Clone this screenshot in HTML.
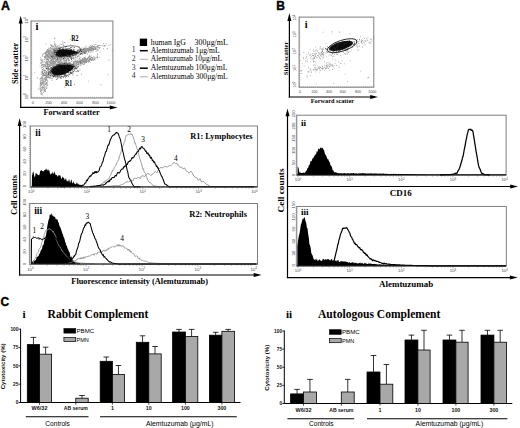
<!DOCTYPE html>
<html><head><meta charset="utf-8"><style>
html,body{margin:0;padding:0;background:#fff;overflow:hidden}
svg{display:block}
</style></head><body>
<svg width="520" height="428" viewBox="0 0 520 428">
<rect width="520" height="428" fill="#fff"/>
<text x="0.9" y="9.8" font-size="12.4" font-family='"Liberation Sans", sans-serif' font-weight="bold" text-anchor="start" fill="#000" stroke="#000" stroke-width="0.35">A</text>
<text x="276.3" y="10.1" font-size="12.0" font-family='"Liberation Sans", sans-serif' font-weight="bold" text-anchor="start" fill="#000" stroke="#000" stroke-width="0.35">B</text>
<text x="0.6" y="305.6" font-size="12.0" font-family='"Liberation Sans", sans-serif' font-weight="bold" text-anchor="start" fill="#000" stroke="#000" stroke-width="0.35">C</text>
<line x1="20.7" y1="20.8" x2="20.7" y2="107.9" stroke="#000" stroke-width="1.2" />
<path d="M18.7,23.6 L20.7,15.8 L22.7,23.6 Z" fill="#000"/>
<line x1="20.1" y1="107.4" x2="112.6" y2="107.4" stroke="#000" stroke-width="1.2" />
<path d="M109.8,105.4 L117.6,107.4 L109.8,109.4 Z" fill="#000"/>
<rect x="31.00" y="21.00" width="81.90" height="77.00" fill="none" stroke="#707070" stroke-width="0.9" />
<line x1="31" y1="21.0" x2="32.2" y2="21.0" stroke="#6a6a6a" stroke-width="0.4" />
<line x1="31" y1="22.925" x2="32.2" y2="22.925" stroke="#6a6a6a" stroke-width="0.4" />
<line x1="31" y1="24.85" x2="32.2" y2="24.85" stroke="#6a6a6a" stroke-width="0.4" />
<line x1="31" y1="26.775" x2="32.2" y2="26.775" stroke="#6a6a6a" stroke-width="0.4" />
<line x1="31" y1="28.7" x2="32.2" y2="28.7" stroke="#6a6a6a" stroke-width="0.4" />
<line x1="31" y1="30.625" x2="32.2" y2="30.625" stroke="#6a6a6a" stroke-width="0.4" />
<line x1="31" y1="32.55" x2="32.2" y2="32.55" stroke="#6a6a6a" stroke-width="0.4" />
<line x1="31" y1="34.475" x2="32.2" y2="34.475" stroke="#6a6a6a" stroke-width="0.4" />
<line x1="31" y1="36.4" x2="32.2" y2="36.4" stroke="#6a6a6a" stroke-width="0.4" />
<line x1="31" y1="38.325" x2="32.2" y2="38.325" stroke="#6a6a6a" stroke-width="0.4" />
<line x1="31" y1="40.25" x2="32.2" y2="40.25" stroke="#6a6a6a" stroke-width="0.4" />
<line x1="31" y1="42.175" x2="32.2" y2="42.175" stroke="#6a6a6a" stroke-width="0.4" />
<line x1="31" y1="44.1" x2="32.2" y2="44.1" stroke="#6a6a6a" stroke-width="0.4" />
<line x1="31" y1="46.025" x2="32.2" y2="46.025" stroke="#6a6a6a" stroke-width="0.4" />
<line x1="31" y1="47.95" x2="32.2" y2="47.95" stroke="#6a6a6a" stroke-width="0.4" />
<line x1="31" y1="49.875" x2="32.2" y2="49.875" stroke="#6a6a6a" stroke-width="0.4" />
<line x1="31" y1="51.8" x2="32.2" y2="51.8" stroke="#6a6a6a" stroke-width="0.4" />
<line x1="31" y1="53.725" x2="32.2" y2="53.725" stroke="#6a6a6a" stroke-width="0.4" />
<line x1="31" y1="55.65" x2="32.2" y2="55.65" stroke="#6a6a6a" stroke-width="0.4" />
<line x1="31" y1="57.575" x2="32.2" y2="57.575" stroke="#6a6a6a" stroke-width="0.4" />
<line x1="31" y1="59.5" x2="32.2" y2="59.5" stroke="#6a6a6a" stroke-width="0.4" />
<line x1="31" y1="61.425" x2="32.2" y2="61.425" stroke="#6a6a6a" stroke-width="0.4" />
<line x1="31" y1="63.35" x2="32.2" y2="63.35" stroke="#6a6a6a" stroke-width="0.4" />
<line x1="31" y1="65.275" x2="32.2" y2="65.275" stroke="#6a6a6a" stroke-width="0.4" />
<line x1="31" y1="67.2" x2="32.2" y2="67.2" stroke="#6a6a6a" stroke-width="0.4" />
<line x1="31" y1="69.125" x2="32.2" y2="69.125" stroke="#6a6a6a" stroke-width="0.4" />
<line x1="31" y1="71.05" x2="32.2" y2="71.05" stroke="#6a6a6a" stroke-width="0.4" />
<line x1="31" y1="72.975" x2="32.2" y2="72.975" stroke="#6a6a6a" stroke-width="0.4" />
<line x1="31" y1="74.9" x2="32.2" y2="74.9" stroke="#6a6a6a" stroke-width="0.4" />
<line x1="31" y1="76.825" x2="32.2" y2="76.825" stroke="#6a6a6a" stroke-width="0.4" />
<line x1="31" y1="78.75" x2="32.2" y2="78.75" stroke="#6a6a6a" stroke-width="0.4" />
<line x1="31" y1="80.675" x2="32.2" y2="80.675" stroke="#6a6a6a" stroke-width="0.4" />
<line x1="31" y1="82.6" x2="32.2" y2="82.6" stroke="#6a6a6a" stroke-width="0.4" />
<line x1="31" y1="84.525" x2="32.2" y2="84.525" stroke="#6a6a6a" stroke-width="0.4" />
<line x1="31" y1="86.45" x2="32.2" y2="86.45" stroke="#6a6a6a" stroke-width="0.4" />
<line x1="31" y1="88.375" x2="32.2" y2="88.375" stroke="#6a6a6a" stroke-width="0.4" />
<line x1="31" y1="90.3" x2="32.2" y2="90.3" stroke="#6a6a6a" stroke-width="0.4" />
<line x1="31" y1="92.225" x2="32.2" y2="92.225" stroke="#6a6a6a" stroke-width="0.4" />
<line x1="31" y1="94.15" x2="32.2" y2="94.15" stroke="#6a6a6a" stroke-width="0.4" />
<line x1="31" y1="96.075" x2="32.2" y2="96.075" stroke="#6a6a6a" stroke-width="0.4" />
<line x1="31" y1="98.0" x2="32.2" y2="98.0" stroke="#6a6a6a" stroke-width="0.4" />
<line x1="31.0" y1="98" x2="31.0" y2="96.8" stroke="#6a6a6a" stroke-width="0.4" />
<line x1="33.0475" y1="98" x2="33.0475" y2="96.8" stroke="#6a6a6a" stroke-width="0.4" />
<line x1="35.095" y1="98" x2="35.095" y2="96.8" stroke="#6a6a6a" stroke-width="0.4" />
<line x1="37.1425" y1="98" x2="37.1425" y2="96.8" stroke="#6a6a6a" stroke-width="0.4" />
<line x1="39.19" y1="98" x2="39.19" y2="96.8" stroke="#6a6a6a" stroke-width="0.4" />
<line x1="41.2375" y1="98" x2="41.2375" y2="96.8" stroke="#6a6a6a" stroke-width="0.4" />
<line x1="43.285" y1="98" x2="43.285" y2="96.8" stroke="#6a6a6a" stroke-width="0.4" />
<line x1="45.3325" y1="98" x2="45.3325" y2="96.8" stroke="#6a6a6a" stroke-width="0.4" />
<line x1="47.38" y1="98" x2="47.38" y2="96.8" stroke="#6a6a6a" stroke-width="0.4" />
<line x1="49.4275" y1="98" x2="49.4275" y2="96.8" stroke="#6a6a6a" stroke-width="0.4" />
<line x1="51.475" y1="98" x2="51.475" y2="96.8" stroke="#6a6a6a" stroke-width="0.4" />
<line x1="53.5225" y1="98" x2="53.5225" y2="96.8" stroke="#6a6a6a" stroke-width="0.4" />
<line x1="55.57" y1="98" x2="55.57" y2="96.8" stroke="#6a6a6a" stroke-width="0.4" />
<line x1="57.6175" y1="98" x2="57.6175" y2="96.8" stroke="#6a6a6a" stroke-width="0.4" />
<line x1="59.665000000000006" y1="98" x2="59.665000000000006" y2="96.8" stroke="#6a6a6a" stroke-width="0.4" />
<line x1="61.7125" y1="98" x2="61.7125" y2="96.8" stroke="#6a6a6a" stroke-width="0.4" />
<line x1="63.760000000000005" y1="98" x2="63.760000000000005" y2="96.8" stroke="#6a6a6a" stroke-width="0.4" />
<line x1="65.8075" y1="98" x2="65.8075" y2="96.8" stroke="#6a6a6a" stroke-width="0.4" />
<line x1="67.855" y1="98" x2="67.855" y2="96.8" stroke="#6a6a6a" stroke-width="0.4" />
<line x1="69.9025" y1="98" x2="69.9025" y2="96.8" stroke="#6a6a6a" stroke-width="0.4" />
<line x1="71.95" y1="98" x2="71.95" y2="96.8" stroke="#6a6a6a" stroke-width="0.4" />
<line x1="73.9975" y1="98" x2="73.9975" y2="96.8" stroke="#6a6a6a" stroke-width="0.4" />
<line x1="76.045" y1="98" x2="76.045" y2="96.8" stroke="#6a6a6a" stroke-width="0.4" />
<line x1="78.0925" y1="98" x2="78.0925" y2="96.8" stroke="#6a6a6a" stroke-width="0.4" />
<line x1="80.14" y1="98" x2="80.14" y2="96.8" stroke="#6a6a6a" stroke-width="0.4" />
<line x1="82.1875" y1="98" x2="82.1875" y2="96.8" stroke="#6a6a6a" stroke-width="0.4" />
<line x1="84.235" y1="98" x2="84.235" y2="96.8" stroke="#6a6a6a" stroke-width="0.4" />
<line x1="86.2825" y1="98" x2="86.2825" y2="96.8" stroke="#6a6a6a" stroke-width="0.4" />
<line x1="88.33000000000001" y1="98" x2="88.33000000000001" y2="96.8" stroke="#6a6a6a" stroke-width="0.4" />
<line x1="90.37750000000001" y1="98" x2="90.37750000000001" y2="96.8" stroke="#6a6a6a" stroke-width="0.4" />
<line x1="92.425" y1="98" x2="92.425" y2="96.8" stroke="#6a6a6a" stroke-width="0.4" />
<line x1="94.4725" y1="98" x2="94.4725" y2="96.8" stroke="#6a6a6a" stroke-width="0.4" />
<line x1="96.52000000000001" y1="98" x2="96.52000000000001" y2="96.8" stroke="#6a6a6a" stroke-width="0.4" />
<line x1="98.56750000000001" y1="98" x2="98.56750000000001" y2="96.8" stroke="#6a6a6a" stroke-width="0.4" />
<line x1="100.61500000000001" y1="98" x2="100.61500000000001" y2="96.8" stroke="#6a6a6a" stroke-width="0.4" />
<line x1="102.6625" y1="98" x2="102.6625" y2="96.8" stroke="#6a6a6a" stroke-width="0.4" />
<line x1="104.71000000000001" y1="98" x2="104.71000000000001" y2="96.8" stroke="#6a6a6a" stroke-width="0.4" />
<line x1="106.75750000000001" y1="98" x2="106.75750000000001" y2="96.8" stroke="#6a6a6a" stroke-width="0.4" />
<line x1="108.805" y1="98" x2="108.805" y2="96.8" stroke="#6a6a6a" stroke-width="0.4" />
<line x1="110.8525" y1="98" x2="110.8525" y2="96.8" stroke="#6a6a6a" stroke-width="0.4" />
<line x1="112.9" y1="98" x2="112.9" y2="96.8" stroke="#6a6a6a" stroke-width="0.4" />
<text x="35.4" y="30.3" font-size="10.5" font-family='"Liberation Serif", serif' font-weight="bold" text-anchor="start" fill="#000" >i</text>
<text x="27.6" y="20.5" font-size="4.2" font-family='"Liberation Sans", sans-serif' font-weight="normal" text-anchor="middle" fill="#484848" transform="rotate(-90 27.6 20.5)" >10<tspan font-size="2.9" dy="-1.4">4</tspan></text>
<text x="27.6" y="39.3" font-size="4.2" font-family='"Liberation Sans", sans-serif' font-weight="normal" text-anchor="middle" fill="#484848" transform="rotate(-90 27.6 39.3)" >10<tspan font-size="2.9" dy="-1.4">3</tspan></text>
<text x="27.6" y="58.3" font-size="4.2" font-family='"Liberation Sans", sans-serif' font-weight="normal" text-anchor="middle" fill="#484848" transform="rotate(-90 27.6 58.3)" >10<tspan font-size="2.9" dy="-1.4">2</tspan></text>
<text x="27.6" y="77.4" font-size="4.2" font-family='"Liberation Sans", sans-serif' font-weight="normal" text-anchor="middle" fill="#484848" transform="rotate(-90 27.6 77.4)" >10<tspan font-size="2.9" dy="-1.4">1</tspan></text>
<text x="27.6" y="96.2" font-size="4.2" font-family='"Liberation Sans", sans-serif' font-weight="normal" text-anchor="middle" fill="#484848" transform="rotate(-90 27.6 96.2)" >10<tspan font-size="2.9" dy="-1.4">0</tspan></text>
<text x="32.8" y="103.8" font-size="4.0" font-family='"Liberation Sans", sans-serif' font-weight="normal" text-anchor="middle" fill="#484848" >0</text>
<text x="48.5" y="103.8" font-size="4.0" font-family='"Liberation Sans", sans-serif' font-weight="normal" text-anchor="middle" fill="#484848" >200</text>
<text x="64" y="103.8" font-size="4.0" font-family='"Liberation Sans", sans-serif' font-weight="normal" text-anchor="middle" fill="#484848" >400</text>
<text x="79.6" y="103.8" font-size="4.0" font-family='"Liberation Sans", sans-serif' font-weight="normal" text-anchor="middle" fill="#484848" >600</text>
<text x="95.6" y="103.8" font-size="4.0" font-family='"Liberation Sans", sans-serif' font-weight="normal" text-anchor="middle" fill="#484848" >800</text>
<text x="111" y="103.8" font-size="4.0" font-family='"Liberation Sans", sans-serif' font-weight="normal" text-anchor="middle" fill="#484848" >1000</text>
<text x="18.0" y="63.4" font-size="8.4" font-family='"Liberation Serif", serif' font-weight="bold" text-anchor="middle" fill="#000" textLength="41.4" lengthAdjust="spacingAndGlyphs" transform="rotate(-90 18.0 63.4)" >Side scatter</text>
<text x="43.5" y="115.0" font-size="8.2" font-family='"Liberation Serif", serif' font-weight="bold" text-anchor="start" fill="#000" textLength="56" lengthAdjust="spacingAndGlyphs" >Forward scatter</text>
<path d="M45.6 68.2h0.85v0.85h-0.85zM64.5 57.0h0.85v0.85h-0.85zM44.7 64.7h0.85v0.85h-0.85zM60.1 71.3h0.85v0.85h-0.85zM45.7 54.3h0.85v0.85h-0.85zM62.0 65.7h0.85v0.85h-0.85zM69.0 68.6h0.85v0.85h-0.85zM55.1 60.9h0.85v0.85h-0.85zM77.8 56.2h0.85v0.85h-0.85zM49.3 54.9h0.85v0.85h-0.85zM56.8 64.0h0.85v0.85h-0.85zM53.1 63.1h0.85v0.85h-0.85zM58.3 68.3h0.85v0.85h-0.85zM65.3 62.9h0.85v0.85h-0.85zM40.8 71.9h0.85v0.85h-0.85zM43.9 64.0h0.85v0.85h-0.85zM43.5 65.5h0.85v0.85h-0.85zM49.4 66.1h0.85v0.85h-0.85zM84.1 57.0h0.85v0.85h-0.85zM63.2 50.5h0.85v0.85h-0.85zM53.6 69.0h0.85v0.85h-0.85zM55.2 66.2h0.85v0.85h-0.85zM56.9 54.4h0.85v0.85h-0.85zM60.8 55.3h0.85v0.85h-0.85zM71.9 55.6h0.85v0.85h-0.85zM61.8 61.9h0.85v0.85h-0.85zM64.1 56.4h0.85v0.85h-0.85zM64.5 60.3h0.85v0.85h-0.85zM66.7 66.1h0.85v0.85h-0.85zM57.2 56.3h0.85v0.85h-0.85zM62.5 65.6h0.85v0.85h-0.85zM70.0 57.1h0.85v0.85h-0.85zM60.7 66.3h0.85v0.85h-0.85zM58.4 64.3h0.85v0.85h-0.85zM57.5 57.7h0.85v0.85h-0.85zM47.4 61.4h0.85v0.85h-0.85zM61.0 74.6h0.85v0.85h-0.85zM64.3 70.1h0.85v0.85h-0.85zM62.6 67.5h0.85v0.85h-0.85zM57.6 69.1h0.85v0.85h-0.85zM71.1 57.3h0.85v0.85h-0.85zM58.1 70.7h0.85v0.85h-0.85zM63.4 52.1h0.85v0.85h-0.85zM57.5 69.0h0.85v0.85h-0.85zM57.1 55.4h0.85v0.85h-0.85zM55.0 66.3h0.85v0.85h-0.85zM65.5 67.0h0.85v0.85h-0.85zM56.5 74.2h0.85v0.85h-0.85zM49.5 70.9h0.85v0.85h-0.85zM65.5 58.7h0.85v0.85h-0.85zM40.8 58.5h0.85v0.85h-0.85zM58.0 67.0h0.85v0.85h-0.85zM69.2 52.0h0.85v0.85h-0.85zM56.0 68.4h0.85v0.85h-0.85zM54.7 43.5h0.85v0.85h-0.85zM64.5 53.7h0.85v0.85h-0.85zM52.5 65.5h0.85v0.85h-0.85zM77.2 63.9h0.85v0.85h-0.85zM57.0 75.8h0.85v0.85h-0.85zM50.2 60.2h0.85v0.85h-0.85zM62.1 73.6h0.85v0.85h-0.85zM61.6 64.4h0.85v0.85h-0.85zM40.5 60.2h0.85v0.85h-0.85zM50.8 59.6h0.85v0.85h-0.85zM61.0 59.2h0.85v0.85h-0.85zM62.7 62.3h0.85v0.85h-0.85zM53.2 64.5h0.85v0.85h-0.85zM59.6 69.4h0.85v0.85h-0.85zM51.9 61.9h0.85v0.85h-0.85zM44.4 78.7h0.85v0.85h-0.85zM68.3 59.0h0.85v0.85h-0.85zM51.9 53.5h0.85v0.85h-0.85zM57.4 64.4h0.85v0.85h-0.85zM74.5 61.3h0.85v0.85h-0.85zM68.0 62.2h0.85v0.85h-0.85zM42.3 67.2h0.85v0.85h-0.85zM42.3 94.7h0.85v0.85h-0.85zM65.5 65.9h0.85v0.85h-0.85zM54.5 45.5h0.85v0.85h-0.85zM54.9 50.3h0.85v0.85h-0.85zM61.1 44.2h0.85v0.85h-0.85zM48.3 74.7h0.85v0.85h-0.85zM70.0 50.4h0.85v0.85h-0.85zM43.0 72.9h0.85v0.85h-0.85zM63.3 53.3h0.85v0.85h-0.85zM50.1 58.4h0.85v0.85h-0.85zM45.9 59.4h0.85v0.85h-0.85zM66.6 66.6h0.85v0.85h-0.85zM73.5 58.8h0.85v0.85h-0.85zM54.8 55.0h0.85v0.85h-0.85zM54.9 52.3h0.85v0.85h-0.85zM40.9 71.8h0.85v0.85h-0.85zM68.2 67.5h0.85v0.85h-0.85zM67.3 62.8h0.85v0.85h-0.85zM49.9 64.9h0.85v0.85h-0.85zM52.8 54.4h0.85v0.85h-0.85zM56.0 64.3h0.85v0.85h-0.85zM52.0 75.7h0.85v0.85h-0.85zM57.5 67.5h0.85v0.85h-0.85zM66.4 54.1h0.85v0.85h-0.85zM50.1 75.1h0.85v0.85h-0.85zM58.9 70.8h0.85v0.85h-0.85zM62.5 44.4h0.85v0.85h-0.85zM62.1 56.2h0.85v0.85h-0.85zM49.6 60.7h0.85v0.85h-0.85zM62.5 69.1h0.85v0.85h-0.85zM64.6 47.5h0.85v0.85h-0.85zM55.1 68.2h0.85v0.85h-0.85zM49.5 66.3h0.85v0.85h-0.85zM58.0 71.0h0.85v0.85h-0.85zM49.0 57.5h0.85v0.85h-0.85zM65.3 60.1h0.85v0.85h-0.85zM57.9 63.6h0.85v0.85h-0.85zM57.7 60.9h0.85v0.85h-0.85zM53.2 53.1h0.85v0.85h-0.85zM50.5 77.8h0.85v0.85h-0.85zM60.6 62.6h0.85v0.85h-0.85zM54.2 63.9h0.85v0.85h-0.85zM59.0 57.0h0.85v0.85h-0.85zM57.7 64.7h0.85v0.85h-0.85zM49.6 57.7h0.85v0.85h-0.85zM47.5 55.8h0.85v0.85h-0.85zM63.6 41.8h0.85v0.85h-0.85zM53.7 58.4h0.85v0.85h-0.85zM50.7 64.9h0.85v0.85h-0.85zM65.6 61.7h0.85v0.85h-0.85zM54.8 58.1h0.85v0.85h-0.85zM54.9 70.8h0.85v0.85h-0.85zM52.7 54.1h0.85v0.85h-0.85zM45.3 55.9h0.85v0.85h-0.85zM44.2 74.5h0.85v0.85h-0.85zM59.0 60.4h0.85v0.85h-0.85zM68.4 55.0h0.85v0.85h-0.85zM62.4 68.4h0.85v0.85h-0.85zM48.1 72.1h0.85v0.85h-0.85zM67.0 50.6h0.85v0.85h-0.85zM64.9 58.0h0.85v0.85h-0.85zM52.7 59.1h0.85v0.85h-0.85zM53.2 48.4h0.85v0.85h-0.85zM47.5 54.4h0.85v0.85h-0.85zM79.2 55.6h0.85v0.85h-0.85zM41.4 62.5h0.85v0.85h-0.85zM60.9 56.0h0.85v0.85h-0.85zM64.0 65.9h0.85v0.85h-0.85zM42.2 61.3h0.85v0.85h-0.85zM54.0 63.6h0.85v0.85h-0.85zM57.1 60.0h0.85v0.85h-0.85zM57.6 57.8h0.85v0.85h-0.85zM48.4 77.1h0.85v0.85h-0.85zM59.1 66.0h0.85v0.85h-0.85zM42.4 64.3h0.85v0.85h-0.85zM63.0 50.9h0.85v0.85h-0.85zM65.3 57.9h0.85v0.85h-0.85zM59.4 61.2h0.85v0.85h-0.85zM57.9 72.7h0.85v0.85h-0.85zM52.6 76.7h0.85v0.85h-0.85zM49.4 56.6h0.85v0.85h-0.85zM62.0 52.9h0.85v0.85h-0.85zM52.9 71.2h0.85v0.85h-0.85zM66.3 46.2h0.85v0.85h-0.85zM60.3 77.8h0.85v0.85h-0.85zM66.2 59.0h0.85v0.85h-0.85zM50.9 61.6h0.85v0.85h-0.85zM46.2 62.8h0.85v0.85h-0.85zM54.4 62.1h0.85v0.85h-0.85zM66.1 59.1h0.85v0.85h-0.85zM43.6 74.2h0.85v0.85h-0.85zM46.9 61.1h0.85v0.85h-0.85zM54.9 60.4h0.85v0.85h-0.85zM47.5 62.6h0.85v0.85h-0.85zM74.6 54.2h0.85v0.85h-0.85zM54.8 72.6h0.85v0.85h-0.85zM62.3 68.1h0.85v0.85h-0.85zM63.3 45.1h0.85v0.85h-0.85zM48.7 65.5h0.85v0.85h-0.85zM60.2 72.9h0.85v0.85h-0.85zM60.0 60.2h0.85v0.85h-0.85zM56.3 61.2h0.85v0.85h-0.85zM58.1 68.2h0.85v0.85h-0.85zM53.1 56.8h0.85v0.85h-0.85zM48.7 73.6h0.85v0.85h-0.85zM66.9 69.1h0.85v0.85h-0.85zM63.3 68.5h0.85v0.85h-0.85zM56.0 68.5h0.85v0.85h-0.85zM47.1 63.1h0.85v0.85h-0.85zM49.8 70.3h0.85v0.85h-0.85zM51.1 63.1h0.85v0.85h-0.85zM59.4 73.6h0.85v0.85h-0.85zM49.3 56.5h0.85v0.85h-0.85zM62.9 52.4h0.85v0.85h-0.85zM59.8 57.5h0.85v0.85h-0.85zM55.1 48.0h0.85v0.85h-0.85zM62.1 57.6h0.85v0.85h-0.85zM59.5 59.4h0.85v0.85h-0.85zM56.9 76.2h0.85v0.85h-0.85zM55.8 66.8h0.85v0.85h-0.85zM60.4 54.5h0.85v0.85h-0.85zM57.1 58.6h0.85v0.85h-0.85zM45.4 72.4h0.85v0.85h-0.85zM61.7 62.5h0.85v0.85h-0.85zM48.3 47.8h0.85v0.85h-0.85zM60.1 61.4h0.85v0.85h-0.85zM41.7 65.4h0.85v0.85h-0.85zM43.1 65.4h0.85v0.85h-0.85zM57.2 65.7h0.85v0.85h-0.85zM57.8 64.1h0.85v0.85h-0.85zM46.3 61.7h0.85v0.85h-0.85zM51.7 61.9h0.85v0.85h-0.85zM58.3 67.7h0.85v0.85h-0.85zM69.9 38.8h0.85v0.85h-0.85zM59.4 60.7h0.85v0.85h-0.85zM75.3 66.9h0.85v0.85h-0.85zM41.9 69.2h0.85v0.85h-0.85zM51.6 72.2h0.85v0.85h-0.85zM47.0 63.9h0.85v0.85h-0.85zM54.9 62.4h0.85v0.85h-0.85zM51.0 48.7h0.85v0.85h-0.85zM59.9 70.5h0.85v0.85h-0.85zM55.4 54.6h0.85v0.85h-0.85zM57.7 67.4h0.85v0.85h-0.85zM54.5 63.2h0.85v0.85h-0.85zM68.0 51.3h0.85v0.85h-0.85zM51.3 48.1h0.85v0.85h-0.85zM50.1 58.0h0.85v0.85h-0.85zM47.8 58.9h0.85v0.85h-0.85zM71.3 58.3h0.85v0.85h-0.85zM55.5 48.7h0.85v0.85h-0.85zM59.4 54.5h0.85v0.85h-0.85zM69.9 49.8h0.85v0.85h-0.85zM51.1 50.6h0.85v0.85h-0.85zM56.8 54.4h0.85v0.85h-0.85zM55.4 60.0h0.85v0.85h-0.85zM50.8 71.9h0.85v0.85h-0.85zM64.0 61.9h0.85v0.85h-0.85zM48.3 55.6h0.85v0.85h-0.85zM52.1 57.2h0.85v0.85h-0.85zM50.1 55.1h0.85v0.85h-0.85zM47.7 62.9h0.85v0.85h-0.85zM68.2 60.6h0.85v0.85h-0.85zM51.7 50.4h0.85v0.85h-0.85zM57.8 62.4h0.85v0.85h-0.85zM45.6 56.0h0.85v0.85h-0.85zM55.6 71.5h0.85v0.85h-0.85zM61.3 63.6h0.85v0.85h-0.85zM53.3 66.2h0.85v0.85h-0.85zM46.4 61.9h0.85v0.85h-0.85zM66.8 58.6h0.85v0.85h-0.85zM68.1 60.2h0.85v0.85h-0.85zM57.2 59.7h0.85v0.85h-0.85zM44.3 57.3h0.85v0.85h-0.85zM74.8 64.6h0.85v0.85h-0.85zM61.1 69.9h0.85v0.85h-0.85zM60.8 70.5h0.85v0.85h-0.85zM53.7 61.6h0.85v0.85h-0.85zM64.4 58.4h0.85v0.85h-0.85zM44.7 63.4h0.85v0.85h-0.85zM51.4 69.0h0.85v0.85h-0.85zM49.9 55.4h0.85v0.85h-0.85zM53.2 76.5h0.85v0.85h-0.85zM55.6 64.4h0.85v0.85h-0.85zM56.1 65.4h0.85v0.85h-0.85zM63.9 73.0h0.85v0.85h-0.85zM42.0 77.1h0.85v0.85h-0.85zM56.0 60.3h0.85v0.85h-0.85zM76.4 57.5h0.85v0.85h-0.85zM72.5 67.8h0.85v0.85h-0.85zM47.2 68.8h0.85v0.85h-0.85zM62.3 60.7h0.85v0.85h-0.85zM54.4 54.1h0.85v0.85h-0.85zM71.5 57.9h0.85v0.85h-0.85zM52.7 61.2h0.85v0.85h-0.85zM49.3 57.9h0.85v0.85h-0.85zM56.8 65.4h0.85v0.85h-0.85zM51.7 63.1h0.85v0.85h-0.85zM44.2 69.7h0.85v0.85h-0.85zM49.6 66.1h0.85v0.85h-0.85zM48.3 60.3h0.85v0.85h-0.85zM57.8 52.5h0.85v0.85h-0.85zM77.0 58.5h0.85v0.85h-0.85zM55.4 57.0h0.85v0.85h-0.85zM69.6 71.8h0.85v0.85h-0.85zM58.5 51.1h0.85v0.85h-0.85zM51.7 69.0h0.85v0.85h-0.85zM51.6 54.0h0.85v0.85h-0.85zM45.9 58.6h0.85v0.85h-0.85zM56.1 57.6h0.85v0.85h-0.85zM71.1 51.3h0.85v0.85h-0.85zM58.9 63.1h0.85v0.85h-0.85zM54.8 71.9h0.85v0.85h-0.85zM53.2 60.9h0.85v0.85h-0.85zM52.8 62.8h0.85v0.85h-0.85zM66.9 67.3h0.85v0.85h-0.85zM44.6 61.6h0.85v0.85h-0.85zM49.2 71.2h0.85v0.85h-0.85zM57.9 70.0h0.85v0.85h-0.85zM55.5 47.2h0.85v0.85h-0.85zM59.8 64.1h0.85v0.85h-0.85zM60.3 51.3h0.85v0.85h-0.85zM56.7 57.1h0.85v0.85h-0.85zM50.2 67.1h0.85v0.85h-0.85zM59.0 55.0h0.85v0.85h-0.85zM51.1 73.3h0.85v0.85h-0.85zM55.5 44.3h0.85v0.85h-0.85zM48.7 68.0h0.85v0.85h-0.85zM70.2 69.9h0.85v0.85h-0.85zM59.1 64.0h0.85v0.85h-0.85zM47.0 61.0h0.85v0.85h-0.85zM53.2 57.1h0.85v0.85h-0.85zM56.5 59.6h0.85v0.85h-0.85zM58.9 74.4h0.85v0.85h-0.85zM62.3 65.2h0.85v0.85h-0.85zM54.0 50.8h0.85v0.85h-0.85zM55.0 67.7h0.85v0.85h-0.85zM47.4 75.2h0.85v0.85h-0.85zM53.2 66.7h0.85v0.85h-0.85zM53.2 53.1h0.85v0.85h-0.85zM73.6 49.8h0.85v0.85h-0.85zM63.8 56.8h0.85v0.85h-0.85zM58.4 55.8h0.85v0.85h-0.85zM52.5 71.4h0.85v0.85h-0.85zM72.5 52.6h0.85v0.85h-0.85zM56.1 70.9h0.85v0.85h-0.85zM50.6 70.0h0.85v0.85h-0.85zM49.3 69.4h0.85v0.85h-0.85zM59.7 72.4h0.85v0.85h-0.85zM59.1 52.4h0.85v0.85h-0.85zM61.6 52.7h0.85v0.85h-0.85zM62.4 74.3h0.85v0.85h-0.85zM61.1 57.4h0.85v0.85h-0.85zM66.1 62.4h0.85v0.85h-0.85zM45.4 62.2h0.85v0.85h-0.85zM68.1 58.1h0.85v0.85h-0.85zM57.0 59.9h0.85v0.85h-0.85zM41.7 61.6h0.85v0.85h-0.85zM59.0 64.1h0.85v0.85h-0.85zM54.5 45.5h0.85v0.85h-0.85zM66.4 66.9h0.85v0.85h-0.85zM64.7 72.1h0.85v0.85h-0.85zM52.2 58.7h0.85v0.85h-0.85zM58.7 76.4h0.85v0.85h-0.85zM41.7 64.0h0.85v0.85h-0.85zM49.9 68.9h0.85v0.85h-0.85zM68.4 58.0h0.85v0.85h-0.85zM45.5 65.5h0.85v0.85h-0.85zM53.6 50.6h0.85v0.85h-0.85zM63.5 57.1h0.85v0.85h-0.85zM61.8 50.9h0.85v0.85h-0.85zM65.3 49.1h0.85v0.85h-0.85zM65.0 46.1h0.85v0.85h-0.85zM67.7 57.5h0.85v0.85h-0.85zM42.8 63.7h0.85v0.85h-0.85zM58.9 54.2h0.85v0.85h-0.85zM51.8 66.1h0.85v0.85h-0.85zM54.6 37.8h0.85v0.85h-0.85zM52.3 67.3h0.85v0.85h-0.85zM58.5 70.9h0.85v0.85h-0.85zM62.8 64.2h0.85v0.85h-0.85zM65.2 69.1h0.85v0.85h-0.85zM56.9 57.7h0.85v0.85h-0.85zM64.7 64.8h0.85v0.85h-0.85zM39.9 57.0h0.85v0.85h-0.85zM60.0 63.1h0.85v0.85h-0.85zM58.4 67.9h0.85v0.85h-0.85zM57.2 75.9h0.85v0.85h-0.85zM51.0 60.7h0.85v0.85h-0.85zM58.7 68.7h0.85v0.85h-0.85zM62.7 74.1h0.85v0.85h-0.85zM51.9 73.5h0.85v0.85h-0.85zM60.0 53.5h0.85v0.85h-0.85zM62.7 57.8h0.85v0.85h-0.85zM50.0 64.8h0.85v0.85h-0.85zM75.6 65.3h0.85v0.85h-0.85zM58.7 54.7h0.85v0.85h-0.85zM45.9 63.3h0.85v0.85h-0.85zM52.6 58.6h0.85v0.85h-0.85zM65.6 61.7h0.85v0.85h-0.85zM45.5 75.8h0.85v0.85h-0.85zM53.3 52.5h0.85v0.85h-0.85zM58.7 66.5h0.85v0.85h-0.85zM53.1 69.4h0.85v0.85h-0.85zM63.0 54.3h0.85v0.85h-0.85zM54.9 73.5h0.85v0.85h-0.85zM64.5 72.9h0.85v0.85h-0.85zM71.8 60.0h0.85v0.85h-0.85zM65.0 48.5h0.85v0.85h-0.85zM61.9 65.1h0.85v0.85h-0.85zM55.2 59.5h0.85v0.85h-0.85zM46.5 66.1h0.85v0.85h-0.85zM66.9 57.8h0.85v0.85h-0.85zM60.5 56.6h0.85v0.85h-0.85zM58.2 54.2h0.85v0.85h-0.85zM59.2 60.5h0.85v0.85h-0.85zM58.7 57.4h0.85v0.85h-0.85zM46.0 62.3h0.85v0.85h-0.85zM64.8 74.4h0.85v0.85h-0.85zM53.2 70.2h0.85v0.85h-0.85zM62.4 65.0h0.85v0.85h-0.85zM42.8 68.3h0.85v0.85h-0.85zM47.8 74.4h0.85v0.85h-0.85zM62.7 66.8h0.85v0.85h-0.85zM34.4 72.5h0.85v0.85h-0.85zM61.9 51.2h0.85v0.85h-0.85zM64.2 62.0h0.85v0.85h-0.85zM54.4 57.4h0.85v0.85h-0.85zM47.3 61.1h0.85v0.85h-0.85zM82.2 59.4h0.85v0.85h-0.85zM57.8 57.2h0.85v0.85h-0.85zM50.8 59.5h0.85v0.85h-0.85zM48.5 71.8h0.85v0.85h-0.85zM53.7 70.7h0.85v0.85h-0.85zM46.2 72.7h0.85v0.85h-0.85zM55.8 68.6h0.85v0.85h-0.85zM55.1 55.8h0.85v0.85h-0.85zM66.3 57.3h0.85v0.85h-0.85zM54.7 55.9h0.85v0.85h-0.85zM57.7 59.4h0.85v0.85h-0.85zM58.4 65.4h0.85v0.85h-0.85zM50.1 52.4h0.85v0.85h-0.85zM59.7 69.9h0.85v0.85h-0.85zM61.9 52.3h0.85v0.85h-0.85zM61.1 65.2h0.85v0.85h-0.85zM58.4 66.1h0.85v0.85h-0.85zM53.2 65.3h0.85v0.85h-0.85zM63.9 57.2h0.85v0.85h-0.85zM43.8 64.6h0.85v0.85h-0.85zM57.7 47.3h0.85v0.85h-0.85zM50.2 69.1h0.85v0.85h-0.85zM54.7 64.0h0.85v0.85h-0.85zM45.3 72.7h0.85v0.85h-0.85zM70.9 58.4h0.85v0.85h-0.85zM49.8 54.6h0.85v0.85h-0.85zM63.6 62.4h0.85v0.85h-0.85zM49.2 74.5h0.85v0.85h-0.85zM62.5 66.7h0.85v0.85h-0.85zM41.0 65.1h0.85v0.85h-0.85zM61.3 51.7h0.85v0.85h-0.85zM63.9 73.3h0.85v0.85h-0.85zM64.8 55.2h0.85v0.85h-0.85zM50.0 72.0h0.85v0.85h-0.85zM64.5 71.5h0.85v0.85h-0.85zM66.2 60.1h0.85v0.85h-0.85zM52.5 48.2h0.85v0.85h-0.85zM52.1 59.8h0.85v0.85h-0.85zM61.5 65.0h0.85v0.85h-0.85zM44.4 59.4h0.85v0.85h-0.85zM46.7 81.7h0.85v0.85h-0.85zM49.9 71.3h0.85v0.85h-0.85zM45.5 62.2h0.85v0.85h-0.85zM49.8 61.8h0.85v0.85h-0.85zM60.7 51.8h0.85v0.85h-0.85zM67.4 71.5h0.85v0.85h-0.85zM56.6 73.7h0.85v0.85h-0.85zM58.6 57.8h0.85v0.85h-0.85zM52.8 62.7h0.85v0.85h-0.85zM61.2 63.0h0.85v0.85h-0.85zM76.1 57.4h0.85v0.85h-0.85zM52.0 57.8h0.85v0.85h-0.85zM49.4 52.3h0.85v0.85h-0.85zM47.6 72.2h0.85v0.85h-0.85zM56.5 61.5h0.85v0.85h-0.85zM59.0 71.3h0.85v0.85h-0.85zM61.2 68.4h0.85v0.85h-0.85zM51.2 61.8h0.85v0.85h-0.85zM49.4 63.5h0.85v0.85h-0.85zM49.1 61.3h0.85v0.85h-0.85zM54.5 61.5h0.85v0.85h-0.85zM53.7 59.4h0.85v0.85h-0.85zM67.1 57.9h0.85v0.85h-0.85zM47.4 66.3h0.85v0.85h-0.85zM46.7 55.9h0.85v0.85h-0.85zM56.7 49.0h0.85v0.85h-0.85zM64.8 47.3h0.85v0.85h-0.85zM48.4 69.3h0.85v0.85h-0.85zM45.8 63.4h0.85v0.85h-0.85zM54.8 65.8h0.85v0.85h-0.85zM53.2 45.9h0.85v0.85h-0.85zM54.7 52.1h0.85v0.85h-0.85zM56.1 55.9h0.85v0.85h-0.85zM53.3 61.8h0.85v0.85h-0.85zM62.6 68.1h0.85v0.85h-0.85zM47.5 64.6h0.85v0.85h-0.85zM68.4 64.6h0.85v0.85h-0.85zM49.8 63.2h0.85v0.85h-0.85zM53.0 71.4h0.85v0.85h-0.85zM56.3 66.1h0.85v0.85h-0.85zM47.4 50.3h0.85v0.85h-0.85zM42.5 72.8h0.85v0.85h-0.85zM58.5 76.1h0.85v0.85h-0.85zM68.3 69.1h0.85v0.85h-0.85zM63.5 68.8h0.85v0.85h-0.85zM56.3 62.9h0.85v0.85h-0.85zM56.3 70.0h0.85v0.85h-0.85zM54.6 65.9h0.85v0.85h-0.85zM68.4 51.2h0.85v0.85h-0.85zM49.6 69.0h0.85v0.85h-0.85zM53.8 62.1h0.85v0.85h-0.85zM73.8 62.9h0.85v0.85h-0.85zM52.5 72.9h0.85v0.85h-0.85zM77.4 49.5h0.85v0.85h-0.85zM50.3 65.1h0.85v0.85h-0.85zM60.5 58.8h0.85v0.85h-0.85zM60.2 55.5h0.85v0.85h-0.85zM50.9 64.9h0.85v0.85h-0.85zM59.6 73.5h0.85v0.85h-0.85zM59.8 63.5h0.85v0.85h-0.85zM54.9 56.1h0.85v0.85h-0.85zM69.9 50.4h0.85v0.85h-0.85zM54.9 58.8h0.85v0.85h-0.85zM52.8 64.8h0.85v0.85h-0.85zM57.2 69.8h0.85v0.85h-0.85zM54.6 57.9h0.85v0.85h-0.85zM58.6 68.0h0.85v0.85h-0.85zM48.3 51.9h0.85v0.85h-0.85zM47.3 73.6h0.85v0.85h-0.85zM64.5 53.9h0.85v0.85h-0.85zM56.9 69.8h0.85v0.85h-0.85zM67.3 55.3h0.85v0.85h-0.85zM54.0 75.1h0.85v0.85h-0.85zM46.3 68.7h0.85v0.85h-0.85zM53.5 63.0h0.85v0.85h-0.85zM50.4 60.1h0.85v0.85h-0.85zM61.9 65.4h0.85v0.85h-0.85zM56.2 56.7h0.85v0.85h-0.85zM54.1 73.7h0.85v0.85h-0.85zM58.2 62.4h0.85v0.85h-0.85zM42.2 69.1h0.85v0.85h-0.85zM41.3 78.6h0.85v0.85h-0.85zM50.6 64.1h0.85v0.85h-0.85zM44.5 61.2h0.85v0.85h-0.85zM48.1 74.0h0.85v0.85h-0.85zM58.1 52.7h0.85v0.85h-0.85zM39.6 65.7h0.85v0.85h-0.85zM51.9 54.6h0.85v0.85h-0.85zM61.0 60.5h0.85v0.85h-0.85zM56.9 57.9h0.85v0.85h-0.85zM51.2 60.1h0.85v0.85h-0.85zM42.4 71.0h0.85v0.85h-0.85zM59.4 48.0h0.85v0.85h-0.85zM56.9 72.4h0.85v0.85h-0.85zM58.0 73.4h0.85v0.85h-0.85zM53.7 63.5h0.85v0.85h-0.85zM45.0 57.7h0.85v0.85h-0.85zM40.5 58.6h0.85v0.85h-0.85zM58.1 66.9h0.85v0.85h-0.85zM65.9 62.1h0.85v0.85h-0.85zM47.6 68.3h0.85v0.85h-0.85zM72.6 67.7h0.85v0.85h-0.85zM46.3 60.6h0.85v0.85h-0.85zM57.6 56.7h0.85v0.85h-0.85zM60.5 67.8h0.85v0.85h-0.85zM63.1 63.5h0.85v0.85h-0.85zM48.5 57.5h0.85v0.85h-0.85zM55.0 74.3h0.85v0.85h-0.85zM69.4 68.5h0.85v0.85h-0.85zM59.1 68.0h0.85v0.85h-0.85zM63.0 72.4h0.85v0.85h-0.85zM63.3 48.8h0.85v0.85h-0.85zM64.1 64.6h0.85v0.85h-0.85zM52.1 68.2h0.85v0.85h-0.85zM58.5 62.1h0.85v0.85h-0.85zM41.6 66.8h0.85v0.85h-0.85zM60.7 61.7h0.85v0.85h-0.85zM42.5 69.5h0.85v0.85h-0.85zM62.1 63.3h0.85v0.85h-0.85zM59.6 59.3h0.85v0.85h-0.85zM50.4 68.5h0.85v0.85h-0.85zM53.0 65.1h0.85v0.85h-0.85zM83.7 63.4h0.85v0.85h-0.85zM57.2 49.3h0.85v0.85h-0.85zM56.8 69.1h0.85v0.85h-0.85zM50.0 62.2h0.85v0.85h-0.85zM50.9 69.7h0.85v0.85h-0.85zM67.6 59.3h0.85v0.85h-0.85zM64.4 63.4h0.85v0.85h-0.85zM54.3 61.0h0.85v0.85h-0.85zM48.8 75.1h0.85v0.85h-0.85zM63.5 53.1h0.85v0.85h-0.85zM63.2 55.5h0.85v0.85h-0.85zM43.2 75.5h0.85v0.85h-0.85zM45.1 75.0h0.85v0.85h-0.85zM57.7 70.2h0.85v0.85h-0.85zM60.3 71.7h0.85v0.85h-0.85zM59.0 67.2h0.85v0.85h-0.85zM58.1 71.7h0.85v0.85h-0.85zM52.7 72.1h0.85v0.85h-0.85zM68.8 59.9h0.85v0.85h-0.85zM59.7 58.0h0.85v0.85h-0.85zM53.5 65.7h0.85v0.85h-0.85zM53.1 56.2h0.85v0.85h-0.85zM55.7 64.6h0.85v0.85h-0.85zM58.7 68.4h0.85v0.85h-0.85zM40.9 77.8h0.85v0.85h-0.85zM54.5 56.9h0.85v0.85h-0.85zM52.8 67.3h0.85v0.85h-0.85zM63.4 58.5h0.85v0.85h-0.85zM57.3 49.4h0.85v0.85h-0.85zM57.4 61.8h0.85v0.85h-0.85zM52.3 71.1h0.85v0.85h-0.85zM71.2 68.6h0.85v0.85h-0.85zM49.4 77.1h0.85v0.85h-0.85zM53.2 63.2h0.85v0.85h-0.85zM51.1 67.8h0.85v0.85h-0.85zM60.7 63.3h0.85v0.85h-0.85zM54.2 62.2h0.85v0.85h-0.85zM52.6 71.8h0.85v0.85h-0.85zM51.6 62.7h0.85v0.85h-0.85zM54.2 57.1h0.85v0.85h-0.85zM54.1 51.2h0.85v0.85h-0.85zM59.5 66.8h0.85v0.85h-0.85zM53.5 76.4h0.85v0.85h-0.85zM49.0 69.0h0.85v0.85h-0.85zM60.1 57.7h0.85v0.85h-0.85zM54.0 70.8h0.85v0.85h-0.85zM56.5 65.2h0.85v0.85h-0.85zM67.9 62.4h0.85v0.85h-0.85zM41.8 59.7h0.85v0.85h-0.85zM63.1 60.5h0.85v0.85h-0.85zM58.7 74.9h0.85v0.85h-0.85zM60.2 57.7h0.85v0.85h-0.85zM53.5 60.8h0.85v0.85h-0.85zM48.4 68.2h0.85v0.85h-0.85zM63.8 64.5h0.85v0.85h-0.85zM51.3 72.6h0.85v0.85h-0.85zM55.1 68.0h0.85v0.85h-0.85zM48.1 70.0h0.85v0.85h-0.85zM62.3 72.4h0.85v0.85h-0.85zM56.2 66.6h0.85v0.85h-0.85zM51.1 71.3h0.85v0.85h-0.85zM62.6 70.6h0.85v0.85h-0.85zM52.8 53.6h0.85v0.85h-0.85zM55.4 61.4h0.85v0.85h-0.85zM49.7 69.3h0.85v0.85h-0.85zM64.0 64.7h0.85v0.85h-0.85zM65.4 64.4h0.85v0.85h-0.85zM47.8 59.8h0.85v0.85h-0.85zM53.0 69.3h0.85v0.85h-0.85zM63.8 62.6h0.85v0.85h-0.85zM64.5 54.5h0.85v0.85h-0.85zM55.1 75.5h0.85v0.85h-0.85zM59.7 70.9h0.85v0.85h-0.85zM48.8 72.7h0.85v0.85h-0.85zM69.7 55.2h0.85v0.85h-0.85zM47.8 56.3h0.85v0.85h-0.85zM48.5 69.1h0.85v0.85h-0.85zM62.1 56.2h0.85v0.85h-0.85zM58.0 61.4h0.85v0.85h-0.85zM62.6 69.1h0.85v0.85h-0.85zM53.1 70.9h0.85v0.85h-0.85zM60.8 61.4h0.85v0.85h-0.85zM58.2 68.2h0.85v0.85h-0.85zM53.4 58.0h0.85v0.85h-0.85zM66.6 60.9h0.85v0.85h-0.85zM51.1 67.8h0.85v0.85h-0.85zM43.7 65.9h0.85v0.85h-0.85zM44.6 61.8h0.85v0.85h-0.85zM41.1 60.1h0.85v0.85h-0.85zM63.5 60.0h0.85v0.85h-0.85zM45.9 79.3h0.85v0.85h-0.85zM50.8 76.2h0.85v0.85h-0.85zM51.6 51.9h0.85v0.85h-0.85zM71.4 56.4h0.85v0.85h-0.85zM62.4 71.5h0.85v0.85h-0.85zM45.1 65.8h0.85v0.85h-0.85zM51.2 68.9h0.85v0.85h-0.85zM55.9 52.7h0.85v0.85h-0.85zM56.5 69.2h0.85v0.85h-0.85zM53.6 68.1h0.85v0.85h-0.85zM51.6 63.5h0.85v0.85h-0.85zM59.0 63.6h0.85v0.85h-0.85zM66.6 68.7h0.85v0.85h-0.85zM63.1 67.5h0.85v0.85h-0.85zM57.3 53.3h0.85v0.85h-0.85zM57.9 60.6h0.85v0.85h-0.85zM55.8 73.0h0.85v0.85h-0.85zM58.4 54.6h0.85v0.85h-0.85zM54.6 57.1h0.85v0.85h-0.85zM54.4 56.1h0.85v0.85h-0.85zM48.8 76.6h0.85v0.85h-0.85zM64.8 48.2h0.85v0.85h-0.85zM47.9 61.0h0.85v0.85h-0.85zM52.8 52.4h0.85v0.85h-0.85zM63.4 48.4h0.85v0.85h-0.85zM61.8 67.6h0.85v0.85h-0.85zM53.0 58.3h0.85v0.85h-0.85zM56.6 64.2h0.85v0.85h-0.85zM60.5 61.3h0.85v0.85h-0.85zM52.6 55.7h0.85v0.85h-0.85zM50.2 58.0h0.85v0.85h-0.85zM79.3 48.2h0.85v0.85h-0.85zM68.8 64.4h0.85v0.85h-0.85zM57.8 64.3h0.85v0.85h-0.85zM52.9 76.8h0.85v0.85h-0.85zM60.3 62.0h0.85v0.85h-0.85zM55.1 64.9h0.85v0.85h-0.85zM46.6 62.4h0.85v0.85h-0.85zM50.9 69.1h0.85v0.85h-0.85zM61.1 46.9h0.85v0.85h-0.85zM54.2 71.5h0.85v0.85h-0.85zM45.3 55.6h0.85v0.85h-0.85zM64.4 60.3h0.85v0.85h-0.85zM52.3 53.9h0.85v0.85h-0.85zM57.5 58.2h0.85v0.85h-0.85zM57.8 66.2h0.85v0.85h-0.85zM61.9 59.2h0.85v0.85h-0.85zM51.7 64.2h0.85v0.85h-0.85zM55.3 64.6h0.85v0.85h-0.85zM51.7 62.0h0.85v0.85h-0.85zM51.2 59.2h0.85v0.85h-0.85zM57.4 72.2h0.85v0.85h-0.85zM51.6 68.7h0.85v0.85h-0.85zM58.9 63.4h0.85v0.85h-0.85zM61.7 57.4h0.85v0.85h-0.85zM60.8 64.6h0.85v0.85h-0.85zM61.1 78.0h0.85v0.85h-0.85zM47.2 65.6h0.85v0.85h-0.85zM59.0 54.6h0.85v0.85h-0.85zM66.1 64.7h0.85v0.85h-0.85zM49.4 54.6h0.85v0.85h-0.85zM40.9 71.5h0.85v0.85h-0.85zM55.2 58.0h0.85v0.85h-0.85zM61.1 62.8h0.85v0.85h-0.85zM58.5 64.7h0.85v0.85h-0.85zM47.0 75.6h0.85v0.85h-0.85zM52.2 73.1h0.85v0.85h-0.85zM61.8 62.2h0.85v0.85h-0.85zM57.2 62.4h0.85v0.85h-0.85zM40.7 63.5h0.85v0.85h-0.85zM59.6 49.2h0.85v0.85h-0.85zM43.6 74.4h0.85v0.85h-0.85zM62.8 49.1h0.85v0.85h-0.85zM59.9 61.9h0.85v0.85h-0.85zM64.2 58.8h0.85v0.85h-0.85zM54.2 57.3h0.85v0.85h-0.85zM57.6 61.7h0.85v0.85h-0.85zM50.6 61.3h0.85v0.85h-0.85zM49.8 69.4h0.85v0.85h-0.85zM47.4 52.0h0.85v0.85h-0.85zM48.0 73.5h0.85v0.85h-0.85zM51.8 69.2h0.85v0.85h-0.85zM62.2 57.6h0.85v0.85h-0.85zM62.4 65.9h0.85v0.85h-0.85zM55.7 57.3h0.85v0.85h-0.85zM55.5 52.6h0.85v0.85h-0.85zM53.7 58.7h0.85v0.85h-0.85zM59.7 65.1h0.85v0.85h-0.85zM50.7 71.2h0.85v0.85h-0.85zM66.0 61.6h0.85v0.85h-0.85zM49.9 68.4h0.85v0.85h-0.85zM49.9 76.8h0.85v0.85h-0.85zM57.7 71.0h0.85v0.85h-0.85zM54.5 58.3h0.85v0.85h-0.85zM54.1 75.8h0.85v0.85h-0.85zM63.1 59.2h0.85v0.85h-0.85zM59.2 69.5h0.85v0.85h-0.85zM60.8 61.7h0.85v0.85h-0.85zM50.5 58.0h0.85v0.85h-0.85zM52.4 59.2h0.85v0.85h-0.85zM42.8 54.0h0.85v0.85h-0.85zM63.4 52.3h0.85v0.85h-0.85zM45.0 64.9h0.85v0.85h-0.85zM68.2 71.0h0.85v0.85h-0.85zM52.6 55.2h0.85v0.85h-0.85zM51.5 56.4h0.85v0.85h-0.85zM51.4 67.9h0.85v0.85h-0.85zM47.1 58.4h0.85v0.85h-0.85zM53.8 63.2h0.85v0.85h-0.85zM49.6 57.8h0.85v0.85h-0.85zM46.5 58.7h0.85v0.85h-0.85zM60.4 60.1h0.85v0.85h-0.85zM55.4 55.9h0.85v0.85h-0.85zM53.9 38.4h0.85v0.85h-0.85zM42.0 75.5h0.85v0.85h-0.85zM49.8 64.6h0.85v0.85h-0.85zM62.6 51.5h0.85v0.85h-0.85zM70.8 54.1h0.85v0.85h-0.85zM59.0 52.9h0.85v0.85h-0.85zM59.1 62.3h0.85v0.85h-0.85zM65.2 51.6h0.85v0.85h-0.85zM45.9 68.0h0.85v0.85h-0.85zM59.7 58.1h0.85v0.85h-0.85zM53.7 75.2h0.85v0.85h-0.85zM65.7 65.8h0.85v0.85h-0.85zM58.3 53.1h0.85v0.85h-0.85zM56.8 77.8h0.85v0.85h-0.85zM64.9 49.9h0.85v0.85h-0.85zM57.4 58.1h0.85v0.85h-0.85zM53.4 66.4h0.85v0.85h-0.85zM63.6 63.2h0.85v0.85h-0.85zM66.6 49.0h0.85v0.85h-0.85zM60.0 65.8h0.85v0.85h-0.85zM43.4 76.0h0.85v0.85h-0.85zM42.4 53.7h0.85v0.85h-0.85zM59.2 73.7h0.85v0.85h-0.85zM65.8 51.6h0.85v0.85h-0.85zM60.1 73.9h0.85v0.85h-0.85zM54.6 63.9h0.85v0.85h-0.85zM52.1 69.9h0.85v0.85h-0.85zM51.3 59.0h0.85v0.85h-0.85zM45.6 57.3h0.85v0.85h-0.85zM57.9 66.6h0.85v0.85h-0.85zM52.7 54.9h0.85v0.85h-0.85zM58.9 65.4h0.85v0.85h-0.85zM66.9 56.7h0.85v0.85h-0.85zM52.5 68.0h0.85v0.85h-0.85zM69.0 60.0h0.85v0.85h-0.85zM55.3 55.3h0.85v0.85h-0.85zM52.8 71.6h0.85v0.85h-0.85zM63.3 70.9h0.85v0.85h-0.85zM42.0 72.8h0.85v0.85h-0.85zM48.1 69.6h0.85v0.85h-0.85zM48.5 75.2h0.85v0.85h-0.85zM57.0 73.7h0.85v0.85h-0.85zM51.8 55.6h0.85v0.85h-0.85zM63.7 58.1h0.85v0.85h-0.85zM55.5 51.8h0.85v0.85h-0.85zM53.1 64.6h0.85v0.85h-0.85zM50.0 67.5h0.85v0.85h-0.85zM52.5 76.1h0.85v0.85h-0.85zM53.0 58.1h0.85v0.85h-0.85zM52.2 66.1h0.85v0.85h-0.85zM61.1 58.1h0.85v0.85h-0.85zM49.2 68.0h0.85v0.85h-0.85zM63.1 46.9h0.85v0.85h-0.85zM47.0 59.2h0.85v0.85h-0.85zM70.7 70.4h0.85v0.85h-0.85zM62.9 65.8h0.85v0.85h-0.85zM46.4 74.4h0.85v0.85h-0.85zM52.2 57.1h0.85v0.85h-0.85zM72.7 47.5h0.85v0.85h-0.85zM67.9 62.3h0.85v0.85h-0.85zM48.1 66.1h0.85v0.85h-0.85zM48.8 66.0h0.85v0.85h-0.85zM50.5 54.1h0.85v0.85h-0.85zM78.9 54.2h0.85v0.85h-0.85zM64.5 60.9h0.85v0.85h-0.85zM61.8 51.2h0.85v0.85h-0.85zM64.7 65.0h0.85v0.85h-0.85zM45.9 72.1h0.85v0.85h-0.85zM58.1 70.3h0.85v0.85h-0.85zM61.3 68.5h0.85v0.85h-0.85zM55.8 59.6h0.85v0.85h-0.85zM62.1 72.2h0.85v0.85h-0.85zM46.0 55.4h0.85v0.85h-0.85zM54.2 49.1h0.85v0.85h-0.85zM63.0 68.0h0.85v0.85h-0.85zM72.8 61.3h0.85v0.85h-0.85zM73.0 53.6h0.85v0.85h-0.85zM63.8 62.6h0.85v0.85h-0.85zM45.8 62.7h0.85v0.85h-0.85zM67.5 70.2h0.85v0.85h-0.85zM52.8 73.0h0.85v0.85h-0.85zM63.8 69.0h0.85v0.85h-0.85zM58.5 65.1h0.85v0.85h-0.85zM48.9 63.9h0.85v0.85h-0.85zM57.1 56.6h0.85v0.85h-0.85zM53.6 64.9h0.85v0.85h-0.85zM57.9 71.6h0.85v0.85h-0.85zM47.2 61.5h0.85v0.85h-0.85zM58.4 59.4h0.85v0.85h-0.85zM58.9 58.5h0.85v0.85h-0.85zM66.2 59.1h0.85v0.85h-0.85zM46.3 71.3h0.85v0.85h-0.85zM70.4 43.9h0.85v0.85h-0.85zM54.9 63.8h0.85v0.85h-0.85zM64.9 73.9h0.85v0.85h-0.85zM54.7 50.2h0.85v0.85h-0.85zM61.8 70.4h0.85v0.85h-0.85zM60.0 62.9h0.85v0.85h-0.85zM45.7 52.4h0.85v0.85h-0.85zM64.5 63.8h0.85v0.85h-0.85zM61.8 64.9h0.85v0.85h-0.85zM70.5 72.1h0.85v0.85h-0.85zM51.3 72.4h0.85v0.85h-0.85zM45.9 50.7h0.85v0.85h-0.85zM66.4 57.4h0.85v0.85h-0.85zM50.4 68.5h0.85v0.85h-0.85zM55.6 56.7h0.85v0.85h-0.85zM49.9 70.7h0.85v0.85h-0.85zM48.1 65.7h0.85v0.85h-0.85zM47.6 68.5h0.85v0.85h-0.85zM71.4 64.8h0.85v0.85h-0.85zM65.6 64.9h0.85v0.85h-0.85zM47.8 62.2h0.85v0.85h-0.85zM56.7 66.6h0.85v0.85h-0.85zM50.9 69.2h0.85v0.85h-0.85zM49.9 64.8h0.85v0.85h-0.85zM56.0 53.4h0.85v0.85h-0.85zM64.7 61.7h0.85v0.85h-0.85zM57.0 62.6h0.85v0.85h-0.85zM48.4 72.9h0.85v0.85h-0.85zM51.1 69.2h0.85v0.85h-0.85zM47.2 57.7h0.85v0.85h-0.85zM52.0 72.8h0.85v0.85h-0.85zM41.8 64.4h0.85v0.85h-0.85zM59.5 63.5h0.85v0.85h-0.85zM55.9 69.6h0.85v0.85h-0.85zM58.5 54.1h0.85v0.85h-0.85zM61.5 55.4h0.85v0.85h-0.85zM53.1 75.8h0.85v0.85h-0.85zM59.7 55.8h0.85v0.85h-0.85zM58.9 50.8h0.85v0.85h-0.85zM69.5 65.2h0.85v0.85h-0.85zM67.4 64.2h0.85v0.85h-0.85zM54.8 61.9h0.85v0.85h-0.85zM69.0 54.8h0.85v0.85h-0.85zM55.2 62.7h0.85v0.85h-0.85zM55.3 54.5h0.85v0.85h-0.85zM45.6 43.5h0.85v0.85h-0.85zM58.9 60.8h0.85v0.85h-0.85zM57.8 53.8h0.85v0.85h-0.85zM56.1 54.9h0.85v0.85h-0.85zM47.4 67.6h0.85v0.85h-0.85zM61.5 66.8h0.85v0.85h-0.85zM55.7 59.9h0.85v0.85h-0.85zM68.0 71.1h0.85v0.85h-0.85zM50.6 55.0h0.85v0.85h-0.85zM59.2 65.1h0.85v0.85h-0.85zM58.1 70.9h0.85v0.85h-0.85zM40.2 62.6h0.85v0.85h-0.85zM68.4 72.4h0.85v0.85h-0.85zM53.9 63.8h0.85v0.85h-0.85zM48.5 67.9h0.85v0.85h-0.85zM43.0 66.1h0.85v0.85h-0.85zM44.7 74.6h0.85v0.85h-0.85zM67.0 69.2h0.85v0.85h-0.85zM61.7 71.4h0.85v0.85h-0.85zM58.3 69.9h0.85v0.85h-0.85zM60.1 68.8h0.85v0.85h-0.85zM47.4 59.2h0.85v0.85h-0.85zM47.5 71.7h0.85v0.85h-0.85zM60.4 55.6h0.85v0.85h-0.85zM47.6 59.9h0.85v0.85h-0.85zM63.5 60.6h0.85v0.85h-0.85zM54.0 57.7h0.85v0.85h-0.85zM55.0 76.6h0.85v0.85h-0.85zM50.2 61.3h0.85v0.85h-0.85zM70.6 66.2h0.85v0.85h-0.85zM46.3 74.1h0.85v0.85h-0.85zM45.3 69.9h0.85v0.85h-0.85zM63.9 56.5h0.85v0.85h-0.85zM49.9 64.7h0.85v0.85h-0.85zM56.1 59.1h0.85v0.85h-0.85zM68.8 63.3h0.85v0.85h-0.85zM46.2 60.6h0.85v0.85h-0.85zM53.6 67.6h0.85v0.85h-0.85zM69.8 55.9h0.85v0.85h-0.85zM57.3 59.2h0.85v0.85h-0.85zM57.3 57.0h0.85v0.85h-0.85zM59.3 72.1h0.85v0.85h-0.85zM52.7 61.0h0.85v0.85h-0.85zM57.0 51.8h0.85v0.85h-0.85zM71.6 48.7h0.85v0.85h-0.85zM53.0 56.2h0.85v0.85h-0.85zM68.9 56.4h0.85v0.85h-0.85zM51.7 79.8h0.85v0.85h-0.85zM55.0 56.7h0.85v0.85h-0.85zM56.0 64.7h0.85v0.85h-0.85zM49.7 62.8h0.85v0.85h-0.85zM54.3 69.5h0.85v0.85h-0.85zM62.6 68.7h0.85v0.85h-0.85zM55.0 70.0h0.85v0.85h-0.85zM54.3 73.1h0.85v0.85h-0.85zM59.5 58.8h0.85v0.85h-0.85zM66.6 48.2h0.85v0.85h-0.85zM47.8 58.0h0.85v0.85h-0.85zM54.9 53.0h0.85v0.85h-0.85zM57.0 56.4h0.85v0.85h-0.85zM74.8 65.8h0.85v0.85h-0.85zM46.3 76.1h0.85v0.85h-0.85zM44.4 87.4h0.85v0.85h-0.85zM40.3 92.4h0.85v0.85h-0.85zM47.7 73.1h0.85v0.85h-0.85zM41.2 80.4h0.85v0.85h-0.85zM43.3 78.5h0.85v0.85h-0.85zM45.2 76.7h0.85v0.85h-0.85zM42.5 80.2h0.85v0.85h-0.85zM46.8 76.5h0.85v0.85h-0.85zM44.8 77.3h0.85v0.85h-0.85zM43.4 78.4h0.85v0.85h-0.85zM48.2 77.1h0.85v0.85h-0.85zM49.0 73.4h0.85v0.85h-0.85zM47.6 66.2h0.85v0.85h-0.85zM42.7 81.1h0.85v0.85h-0.85zM41.9 81.5h0.85v0.85h-0.85zM41.0 82.2h0.85v0.85h-0.85zM41.8 82.4h0.85v0.85h-0.85zM43.0 73.9h0.85v0.85h-0.85zM42.7 81.7h0.85v0.85h-0.85zM39.8 85.3h0.85v0.85h-0.85zM48.2 73.9h0.85v0.85h-0.85zM45.8 82.5h0.85v0.85h-0.85zM41.4 92.4h0.85v0.85h-0.85zM52.4 63.6h0.85v0.85h-0.85zM51.1 67.2h0.85v0.85h-0.85zM48.9 61.7h0.85v0.85h-0.85zM47.8 76.9h0.85v0.85h-0.85zM39.8 78.8h0.85v0.85h-0.85zM40.5 77.4h0.85v0.85h-0.85zM45.3 77.4h0.85v0.85h-0.85zM45.6 79.0h0.85v0.85h-0.85zM49.6 60.7h0.85v0.85h-0.85zM44.8 79.4h0.85v0.85h-0.85zM46.4 67.8h0.85v0.85h-0.85zM39.7 83.5h0.85v0.85h-0.85zM44.3 66.7h0.85v0.85h-0.85zM45.2 78.7h0.85v0.85h-0.85zM46.5 58.6h0.85v0.85h-0.85zM45.7 71.8h0.85v0.85h-0.85zM42.4 87.4h0.85v0.85h-0.85zM49.6 75.0h0.85v0.85h-0.85zM43.7 89.8h0.85v0.85h-0.85zM41.1 82.2h0.85v0.85h-0.85zM42.3 74.8h0.85v0.85h-0.85zM44.8 82.7h0.85v0.85h-0.85zM43.9 88.2h0.85v0.85h-0.85zM44.6 73.0h0.85v0.85h-0.85zM44.4 90.0h0.85v0.85h-0.85zM43.7 89.0h0.85v0.85h-0.85zM45.0 83.7h0.85v0.85h-0.85zM43.1 87.1h0.85v0.85h-0.85zM43.3 70.2h0.85v0.85h-0.85zM45.0 70.3h0.85v0.85h-0.85zM44.1 84.9h0.85v0.85h-0.85zM41.9 87.2h0.85v0.85h-0.85zM52.5 59.1h0.85v0.85h-0.85zM42.6 84.0h0.85v0.85h-0.85zM45.4 66.4h0.85v0.85h-0.85zM40.9 94.1h0.85v0.85h-0.85zM42.0 86.2h0.85v0.85h-0.85zM39.5 78.4h0.85v0.85h-0.85zM38.0 88.6h0.85v0.85h-0.85zM47.9 76.5h0.85v0.85h-0.85zM43.1 82.8h0.85v0.85h-0.85zM45.6 76.2h0.85v0.85h-0.85zM51.4 67.9h0.85v0.85h-0.85zM47.3 85.2h0.85v0.85h-0.85zM46.0 76.2h0.85v0.85h-0.85zM47.3 84.5h0.85v0.85h-0.85zM47.9 68.0h0.85v0.85h-0.85zM47.4 73.8h0.85v0.85h-0.85zM42.8 83.9h0.85v0.85h-0.85zM45.9 79.9h0.85v0.85h-0.85zM43.4 82.5h0.85v0.85h-0.85zM43.3 85.1h0.85v0.85h-0.85zM46.9 82.9h0.85v0.85h-0.85zM39.9 82.2h0.85v0.85h-0.85zM44.3 70.9h0.85v0.85h-0.85zM45.3 77.6h0.85v0.85h-0.85zM44.2 82.6h0.85v0.85h-0.85zM42.0 93.5h0.85v0.85h-0.85zM47.5 72.3h0.85v0.85h-0.85zM45.6 83.7h0.85v0.85h-0.85zM41.5 80.2h0.85v0.85h-0.85zM46.4 59.0h0.85v0.85h-0.85zM39.7 87.2h0.85v0.85h-0.85zM46.1 71.1h0.85v0.85h-0.85zM44.7 79.0h0.85v0.85h-0.85zM44.3 72.5h0.85v0.85h-0.85zM45.9 79.3h0.85v0.85h-0.85zM46.5 87.6h0.85v0.85h-0.85zM44.2 81.2h0.85v0.85h-0.85zM42.0 83.2h0.85v0.85h-0.85zM46.8 77.5h0.85v0.85h-0.85zM46.5 78.7h0.85v0.85h-0.85zM41.7 77.9h0.85v0.85h-0.85zM42.7 87.5h0.85v0.85h-0.85zM47.2 70.2h0.85v0.85h-0.85zM40.4 88.3h0.85v0.85h-0.85zM41.1 84.7h0.85v0.85h-0.85zM46.1 75.1h0.85v0.85h-0.85zM49.9 68.0h0.85v0.85h-0.85zM45.4 75.5h0.85v0.85h-0.85zM43.5 84.8h0.85v0.85h-0.85zM43.6 75.3h0.85v0.85h-0.85zM42.3 79.7h0.85v0.85h-0.85zM46.6 75.3h0.85v0.85h-0.85zM41.6 90.1h0.85v0.85h-0.85zM40.8 82.9h0.85v0.85h-0.85zM47.9 75.9h0.85v0.85h-0.85zM43.5 89.8h0.85v0.85h-0.85zM41.5 76.8h0.85v0.85h-0.85zM47.3 80.9h0.85v0.85h-0.85zM46.6 76.1h0.85v0.85h-0.85zM42.7 82.5h0.85v0.85h-0.85zM44.7 74.2h0.85v0.85h-0.85zM46.8 65.7h0.85v0.85h-0.85zM40.5 83.6h0.85v0.85h-0.85zM40.2 84.6h0.85v0.85h-0.85zM41.0 83.2h0.85v0.85h-0.85zM44.8 83.9h0.85v0.85h-0.85zM47.0 65.6h0.85v0.85h-0.85zM51.3 69.9h0.85v0.85h-0.85zM41.7 70.8h0.85v0.85h-0.85zM42.6 68.9h0.85v0.85h-0.85zM44.7 75.1h0.85v0.85h-0.85zM45.1 73.2h0.85v0.85h-0.85zM47.9 77.0h0.85v0.85h-0.85zM40.8 94.1h0.85v0.85h-0.85zM48.3 71.1h0.85v0.85h-0.85zM46.0 73.4h0.85v0.85h-0.85zM46.0 87.9h0.85v0.85h-0.85zM44.5 58.8h0.85v0.85h-0.85zM42.8 78.8h0.85v0.85h-0.85zM43.8 77.7h0.85v0.85h-0.85zM47.8 66.8h0.85v0.85h-0.85zM45.5 64.2h0.85v0.85h-0.85zM41.5 76.3h0.85v0.85h-0.85zM41.7 86.9h0.85v0.85h-0.85zM45.9 78.5h0.85v0.85h-0.85zM44.7 74.3h0.85v0.85h-0.85zM40.8 73.4h0.85v0.85h-0.85zM42.6 73.4h0.85v0.85h-0.85zM42.9 86.4h0.85v0.85h-0.85zM45.8 87.5h0.85v0.85h-0.85zM40.9 67.6h0.85v0.85h-0.85zM46.3 74.3h0.85v0.85h-0.85zM48.4 72.3h0.85v0.85h-0.85zM49.5 71.1h0.85v0.85h-0.85zM42.7 86.5h0.85v0.85h-0.85zM40.2 83.0h0.85v0.85h-0.85zM50.4 76.1h0.85v0.85h-0.85zM40.4 82.2h0.85v0.85h-0.85zM43.9 74.7h0.85v0.85h-0.85zM45.4 87.5h0.85v0.85h-0.85zM44.2 86.2h0.85v0.85h-0.85zM45.0 79.9h0.85v0.85h-0.85zM41.5 89.6h0.85v0.85h-0.85zM48.5 71.9h0.85v0.85h-0.85zM41.1 86.9h0.85v0.85h-0.85zM44.3 87.7h0.85v0.85h-0.85zM45.6 77.3h0.85v0.85h-0.85zM44.3 70.6h0.85v0.85h-0.85zM46.1 74.6h0.85v0.85h-0.85zM41.9 81.5h0.85v0.85h-0.85zM44.1 77.4h0.85v0.85h-0.85zM46.4 84.7h0.85v0.85h-0.85zM43.3 92.1h0.85v0.85h-0.85zM43.6 74.3h0.85v0.85h-0.85zM44.5 69.2h0.85v0.85h-0.85zM43.0 73.5h0.85v0.85h-0.85zM42.6 83.0h0.85v0.85h-0.85zM44.9 77.5h0.85v0.85h-0.85zM46.4 79.9h0.85v0.85h-0.85zM42.8 74.1h0.85v0.85h-0.85zM46.4 82.8h0.85v0.85h-0.85zM40.1 90.2h0.85v0.85h-0.85zM42.1 73.1h0.85v0.85h-0.85zM49.0 77.8h0.85v0.85h-0.85zM44.8 80.9h0.85v0.85h-0.85zM43.4 80.9h0.85v0.85h-0.85zM46.9 79.9h0.85v0.85h-0.85zM42.5 82.3h0.85v0.85h-0.85zM50.2 69.3h0.85v0.85h-0.85zM39.6 85.6h0.85v0.85h-0.85zM46.0 81.9h0.85v0.85h-0.85zM40.6 83.3h0.85v0.85h-0.85zM43.1 73.5h0.85v0.85h-0.85zM41.6 88.3h0.85v0.85h-0.85zM41.3 84.8h0.85v0.85h-0.85zM41.6 77.5h0.85v0.85h-0.85zM40.4 86.2h0.85v0.85h-0.85zM46.6 71.7h0.85v0.85h-0.85zM49.7 71.9h0.85v0.85h-0.85zM40.0 90.6h0.85v0.85h-0.85zM43.8 74.2h0.85v0.85h-0.85zM42.7 64.2h0.85v0.85h-0.85zM41.3 74.2h0.85v0.85h-0.85zM39.6 88.9h0.85v0.85h-0.85zM44.9 91.2h0.85v0.85h-0.85zM41.2 92.5h0.85v0.85h-0.85zM47.4 77.1h0.85v0.85h-0.85zM44.3 74.2h0.85v0.85h-0.85zM42.2 78.6h0.85v0.85h-0.85zM46.7 64.8h0.85v0.85h-0.85zM40.6 89.8h0.85v0.85h-0.85zM42.7 69.7h0.85v0.85h-0.85zM43.9 70.7h0.85v0.85h-0.85zM43.9 91.2h0.85v0.85h-0.85zM40.2 80.8h0.85v0.85h-0.85zM45.8 77.7h0.85v0.85h-0.85zM44.6 73.2h0.85v0.85h-0.85zM42.8 64.0h0.85v0.85h-0.85zM43.3 89.8h0.85v0.85h-0.85zM40.2 82.7h0.85v0.85h-0.85zM46.3 86.2h0.85v0.85h-0.85zM47.8 69.3h0.85v0.85h-0.85zM42.4 83.7h0.85v0.85h-0.85zM41.1 78.2h0.85v0.85h-0.85zM40.7 93.3h0.85v0.85h-0.85zM46.5 80.0h0.85v0.85h-0.85zM42.2 71.7h0.85v0.85h-0.85zM45.5 72.2h0.85v0.85h-0.85zM43.5 87.2h0.85v0.85h-0.85zM43.3 80.4h0.85v0.85h-0.85zM40.6 91.1h0.85v0.85h-0.85zM45.7 83.1h0.85v0.85h-0.85zM49.4 62.2h0.85v0.85h-0.85zM44.0 84.5h0.85v0.85h-0.85zM45.0 80.9h0.85v0.85h-0.85zM45.5 67.1h0.85v0.85h-0.85zM43.7 88.6h0.85v0.85h-0.85zM43.7 78.7h0.85v0.85h-0.85zM46.7 64.2h0.85v0.85h-0.85zM45.2 89.5h0.85v0.85h-0.85zM43.1 74.9h0.85v0.85h-0.85zM45.7 74.7h0.85v0.85h-0.85zM41.2 84.1h0.85v0.85h-0.85zM39.9 80.3h0.85v0.85h-0.85zM46.3 77.0h0.85v0.85h-0.85zM44.8 88.9h0.85v0.85h-0.85zM42.1 88.6h0.85v0.85h-0.85zM48.3 69.9h0.85v0.85h-0.85zM45.5 84.3h0.85v0.85h-0.85zM43.4 75.9h0.85v0.85h-0.85zM49.0 64.9h0.85v0.85h-0.85zM44.5 86.2h0.85v0.85h-0.85zM44.7 90.5h0.85v0.85h-0.85zM48.9 77.9h0.85v0.85h-0.85zM39.8 82.1h0.85v0.85h-0.85zM44.8 80.3h0.85v0.85h-0.85zM40.5 62.4h0.85v0.85h-0.85zM53.6 52.4h0.85v0.85h-0.85zM60.2 51.6h0.85v0.85h-0.85zM53.1 54.5h0.85v0.85h-0.85zM48.0 56.3h0.85v0.85h-0.85zM49.1 57.1h0.85v0.85h-0.85zM47.5 55.4h0.85v0.85h-0.85zM51.0 55.3h0.85v0.85h-0.85zM50.9 52.7h0.85v0.85h-0.85zM48.0 57.3h0.85v0.85h-0.85zM50.7 54.0h0.85v0.85h-0.85zM54.8 47.9h0.85v0.85h-0.85zM45.8 52.4h0.85v0.85h-0.85zM58.6 46.7h0.85v0.85h-0.85zM48.5 48.0h0.85v0.85h-0.85zM45.9 54.7h0.85v0.85h-0.85zM44.3 52.8h0.85v0.85h-0.85zM54.0 43.6h0.85v0.85h-0.85zM51.2 52.8h0.85v0.85h-0.85zM50.5 53.0h0.85v0.85h-0.85zM53.4 46.5h0.85v0.85h-0.85zM50.1 54.6h0.85v0.85h-0.85zM58.7 45.5h0.85v0.85h-0.85zM50.8 47.7h0.85v0.85h-0.85zM44.9 55.8h0.85v0.85h-0.85zM64.5 42.0h0.85v0.85h-0.85zM60.9 47.0h0.85v0.85h-0.85zM55.0 52.8h0.85v0.85h-0.85zM58.4 50.1h0.85v0.85h-0.85zM45.9 52.4h0.85v0.85h-0.85zM55.7 47.8h0.85v0.85h-0.85zM53.4 51.6h0.85v0.85h-0.85zM52.0 51.8h0.85v0.85h-0.85zM54.6 54.7h0.85v0.85h-0.85zM49.1 50.8h0.85v0.85h-0.85zM41.7 55.9h0.85v0.85h-0.85zM54.1 55.5h0.85v0.85h-0.85zM58.3 47.6h0.85v0.85h-0.85zM52.4 56.0h0.85v0.85h-0.85zM45.8 51.7h0.85v0.85h-0.85zM55.2 51.7h0.85v0.85h-0.85zM48.7 50.0h0.85v0.85h-0.85zM60.1 53.7h0.85v0.85h-0.85zM43.4 61.5h0.85v0.85h-0.85zM48.4 51.7h0.85v0.85h-0.85zM47.9 50.1h0.85v0.85h-0.85zM54.8 45.7h0.85v0.85h-0.85zM51.1 50.6h0.85v0.85h-0.85zM61.5 52.1h0.85v0.85h-0.85zM53.6 53.7h0.85v0.85h-0.85zM54.5 52.0h0.85v0.85h-0.85zM49.0 55.0h0.85v0.85h-0.85zM52.8 49.6h0.85v0.85h-0.85zM52.6 51.3h0.85v0.85h-0.85zM45.6 51.2h0.85v0.85h-0.85zM53.0 49.1h0.85v0.85h-0.85zM50.2 49.7h0.85v0.85h-0.85zM51.3 55.1h0.85v0.85h-0.85zM58.8 48.1h0.85v0.85h-0.85zM54.5 52.5h0.85v0.85h-0.85zM51.4 55.2h0.85v0.85h-0.85zM56.2 46.3h0.85v0.85h-0.85zM59.9 50.1h0.85v0.85h-0.85zM46.9 49.8h0.85v0.85h-0.85zM49.6 47.7h0.85v0.85h-0.85zM57.5 52.8h0.85v0.85h-0.85zM45.5 55.9h0.85v0.85h-0.85zM52.4 52.1h0.85v0.85h-0.85zM56.7 50.8h0.85v0.85h-0.85zM49.4 54.2h0.85v0.85h-0.85zM54.0 55.8h0.85v0.85h-0.85zM46.9 51.4h0.85v0.85h-0.85zM54.6 57.4h0.85v0.85h-0.85zM61.6 54.3h0.85v0.85h-0.85zM54.8 52.0h0.85v0.85h-0.85zM51.7 45.7h0.85v0.85h-0.85zM61.6 52.9h0.85v0.85h-0.85zM53.1 53.6h0.85v0.85h-0.85zM52.4 52.0h0.85v0.85h-0.85zM55.2 48.8h0.85v0.85h-0.85zM52.6 52.4h0.85v0.85h-0.85zM55.6 47.0h0.85v0.85h-0.85zM52.4 51.3h0.85v0.85h-0.85zM54.7 53.6h0.85v0.85h-0.85zM52.1 53.6h0.85v0.85h-0.85zM53.6 57.0h0.85v0.85h-0.85zM52.8 53.8h0.85v0.85h-0.85zM45.3 51.9h0.85v0.85h-0.85zM55.6 55.5h0.85v0.85h-0.85zM45.1 52.6h0.85v0.85h-0.85zM49.3 52.4h0.85v0.85h-0.85zM48.1 50.7h0.85v0.85h-0.85zM50.6 52.5h0.85v0.85h-0.85zM57.1 47.8h0.85v0.85h-0.85zM45.2 55.8h0.85v0.85h-0.85zM54.0 50.8h0.85v0.85h-0.85zM44.0 57.0h0.85v0.85h-0.85zM44.5 57.3h0.85v0.85h-0.85zM52.5 51.2h0.85v0.85h-0.85zM49.9 55.3h0.85v0.85h-0.85zM51.0 45.1h0.85v0.85h-0.85zM53.4 55.3h0.85v0.85h-0.85zM57.2 45.9h0.85v0.85h-0.85zM63.7 57.4h0.85v0.85h-0.85zM50.3 44.3h0.85v0.85h-0.85zM45.7 56.8h0.85v0.85h-0.85zM63.4 48.2h0.85v0.85h-0.85zM62.5 50.4h0.85v0.85h-0.85zM54.8 54.6h0.85v0.85h-0.85zM48.1 51.6h0.85v0.85h-0.85zM51.4 50.6h0.85v0.85h-0.85zM47.6 50.2h0.85v0.85h-0.85zM47.4 57.3h0.85v0.85h-0.85zM53.4 55.7h0.85v0.85h-0.85zM62.0 41.5h0.85v0.85h-0.85zM50.5 55.8h0.85v0.85h-0.85zM49.7 49.8h0.85v0.85h-0.85zM53.3 49.6h0.85v0.85h-0.85zM45.9 51.4h0.85v0.85h-0.85zM51.3 52.0h0.85v0.85h-0.85zM56.4 51.3h0.85v0.85h-0.85zM48.1 64.3h0.85v0.85h-0.85zM49.6 51.1h0.85v0.85h-0.85zM50.1 49.3h0.85v0.85h-0.85zM59.7 43.7h0.85v0.85h-0.85zM46.4 54.2h0.85v0.85h-0.85zM46.8 54.6h0.85v0.85h-0.85zM50.6 47.7h0.85v0.85h-0.85zM49.6 50.1h0.85v0.85h-0.85zM54.2 41.6h0.85v0.85h-0.85zM53.4 56.9h0.85v0.85h-0.85zM51.8 52.8h0.85v0.85h-0.85zM47.7 53.7h0.85v0.85h-0.85zM50.1 47.1h0.85v0.85h-0.85zM53.5 52.3h0.85v0.85h-0.85zM57.5 52.1h0.85v0.85h-0.85zM55.1 46.1h0.85v0.85h-0.85zM49.0 53.7h0.85v0.85h-0.85zM50.1 51.4h0.85v0.85h-0.85zM51.2 52.9h0.85v0.85h-0.85zM52.1 53.1h0.85v0.85h-0.85zM47.9 52.0h0.85v0.85h-0.85zM49.3 53.9h0.85v0.85h-0.85zM56.7 47.9h0.85v0.85h-0.85zM48.6 58.9h0.85v0.85h-0.85zM57.8 51.4h0.85v0.85h-0.85zM50.3 57.4h0.85v0.85h-0.85zM43.8 52.7h0.85v0.85h-0.85zM54.0 52.4h0.85v0.85h-0.85zM61.6 50.2h0.85v0.85h-0.85zM49.4 56.4h0.85v0.85h-0.85zM40.4 58.8h0.85v0.85h-0.85zM45.0 53.2h0.85v0.85h-0.85zM45.4 53.2h0.85v0.85h-0.85zM52.8 51.8h0.85v0.85h-0.85zM49.0 53.2h0.85v0.85h-0.85zM49.5 50.2h0.85v0.85h-0.85zM54.7 54.8h0.85v0.85h-0.85zM46.3 53.7h0.85v0.85h-0.85zM42.5 59.2h0.85v0.85h-0.85zM51.2 52.5h0.85v0.85h-0.85zM56.2 48.3h0.85v0.85h-0.85zM53.2 53.3h0.85v0.85h-0.85zM58.7 46.8h0.85v0.85h-0.85zM59.3 53.2h0.85v0.85h-0.85zM52.5 56.0h0.85v0.85h-0.85zM49.5 51.4h0.85v0.85h-0.85zM56.0 49.9h0.85v0.85h-0.85zM57.5 56.5h0.85v0.85h-0.85zM52.3 52.5h0.85v0.85h-0.85zM47.1 48.9h0.85v0.85h-0.85zM59.6 46.8h0.85v0.85h-0.85zM51.5 53.1h0.85v0.85h-0.85zM46.8 60.9h0.85v0.85h-0.85zM53.2 57.1h0.85v0.85h-0.85zM63.2 54.3h0.85v0.85h-0.85zM58.9 49.2h0.85v0.85h-0.85zM46.9 58.2h0.85v0.85h-0.85zM59.8 46.9h0.85v0.85h-0.85zM57.9 52.3h0.85v0.85h-0.85zM55.8 55.2h0.85v0.85h-0.85zM62.4 48.1h0.85v0.85h-0.85zM51.1 57.0h0.85v0.85h-0.85zM49.5 54.4h0.85v0.85h-0.85zM50.6 45.4h0.85v0.85h-0.85zM47.8 55.9h0.85v0.85h-0.85zM48.1 52.8h0.85v0.85h-0.85zM54.0 52.9h0.85v0.85h-0.85zM54.2 47.5h0.85v0.85h-0.85zM47.5 49.5h0.85v0.85h-0.85zM48.5 54.1h0.85v0.85h-0.85zM59.1 50.1h0.85v0.85h-0.85zM57.5 55.6h0.85v0.85h-0.85zM52.0 46.5h0.85v0.85h-0.85zM62.3 43.2h0.85v0.85h-0.85zM43.8 56.1h0.85v0.85h-0.85zM46.7 55.4h0.85v0.85h-0.85zM45.2 57.0h0.85v0.85h-0.85zM47.6 55.4h0.85v0.85h-0.85zM57.1 45.4h0.85v0.85h-0.85zM44.5 56.6h0.85v0.85h-0.85zM51.0 55.4h0.85v0.85h-0.85zM59.7 55.0h0.85v0.85h-0.85zM55.5 49.8h0.85v0.85h-0.85zM48.8 53.6h0.85v0.85h-0.85zM56.4 55.6h0.85v0.85h-0.85zM53.0 50.7h0.85v0.85h-0.85zM50.7 58.6h0.85v0.85h-0.85zM52.9 59.7h0.85v0.85h-0.85zM46.9 56.1h0.85v0.85h-0.85zM52.5 54.9h0.85v0.85h-0.85zM46.7 54.0h0.85v0.85h-0.85zM50.8 51.1h0.85v0.85h-0.85zM49.2 54.5h0.85v0.85h-0.85zM52.8 52.8h0.85v0.85h-0.85zM53.1 46.6h0.85v0.85h-0.85zM57.6 51.5h0.85v0.85h-0.85zM46.7 50.6h0.85v0.85h-0.85zM57.1 52.1h0.85v0.85h-0.85zM41.3 61.6h0.85v0.85h-0.85zM42.4 60.0h0.85v0.85h-0.85zM56.3 47.5h0.85v0.85h-0.85zM58.7 56.0h0.85v0.85h-0.85zM57.5 53.8h0.85v0.85h-0.85zM53.2 52.7h0.85v0.85h-0.85zM48.0 53.6h0.85v0.85h-0.85zM58.9 50.7h0.85v0.85h-0.85zM63.0 44.5h0.85v0.85h-0.85zM51.4 46.3h0.85v0.85h-0.85zM49.3 50.2h0.85v0.85h-0.85zM44.9 52.1h0.85v0.85h-0.85zM48.1 47.7h0.85v0.85h-0.85zM53.7 44.5h0.85v0.85h-0.85zM53.8 52.8h0.85v0.85h-0.85zM54.4 52.2h0.85v0.85h-0.85zM56.0 50.5h0.85v0.85h-0.85zM44.8 54.5h0.85v0.85h-0.85zM46.5 51.3h0.85v0.85h-0.85zM52.0 48.4h0.85v0.85h-0.85zM57.1 45.4h0.85v0.85h-0.85zM58.6 51.0h0.85v0.85h-0.85zM61.4 55.1h0.85v0.85h-0.85zM55.3 52.7h0.85v0.85h-0.85zM51.9 46.7h0.85v0.85h-0.85zM47.9 48.9h0.85v0.85h-0.85zM47.0 52.2h0.85v0.85h-0.85zM46.5 53.3h0.85v0.85h-0.85zM49.7 50.5h0.85v0.85h-0.85zM53.6 53.6h0.85v0.85h-0.85zM68.7 49.9h0.85v0.85h-0.85zM54.0 48.3h0.85v0.85h-0.85zM57.1 57.3h0.85v0.85h-0.85zM54.7 51.1h0.85v0.85h-0.85zM51.4 44.7h0.85v0.85h-0.85zM54.8 50.5h0.85v0.85h-0.85zM53.6 53.3h0.85v0.85h-0.85zM52.5 60.2h0.85v0.85h-0.85zM56.7 48.9h0.85v0.85h-0.85zM54.9 54.1h0.85v0.85h-0.85zM51.5 57.6h0.85v0.85h-0.85zM44.9 54.5h0.85v0.85h-0.85zM45.3 53.5h0.85v0.85h-0.85zM42.2 54.8h0.85v0.85h-0.85zM49.7 48.8h0.85v0.85h-0.85zM47.9 51.5h0.85v0.85h-0.85zM56.7 52.3h0.85v0.85h-0.85zM50.0 52.9h0.85v0.85h-0.85zM56.5 53.2h0.85v0.85h-0.85zM61.7 47.9h0.85v0.85h-0.85zM56.1 52.0h0.85v0.85h-0.85zM47.5 55.0h0.85v0.85h-0.85zM56.2 55.3h0.85v0.85h-0.85zM54.1 48.3h0.85v0.85h-0.85zM52.3 53.5h0.85v0.85h-0.85zM61.2 51.3h0.85v0.85h-0.85zM52.2 58.1h0.85v0.85h-0.85zM51.6 50.3h0.85v0.85h-0.85zM53.0 54.9h0.85v0.85h-0.85zM52.2 45.5h0.85v0.85h-0.85zM48.9 56.3h0.85v0.85h-0.85zM46.8 56.1h0.85v0.85h-0.85zM52.3 48.9h0.85v0.85h-0.85zM91.3 45.6h0.85v0.85h-0.85zM71.2 51.2h0.85v0.85h-0.85zM89.5 48.7h0.85v0.85h-0.85zM90.2 48.8h0.85v0.85h-0.85zM86.7 49.0h0.85v0.85h-0.85zM83.0 52.1h0.85v0.85h-0.85zM91.1 46.8h0.85v0.85h-0.85zM89.8 52.0h0.85v0.85h-0.85zM91.0 47.4h0.85v0.85h-0.85zM91.0 49.1h0.85v0.85h-0.85zM83.6 51.9h0.85v0.85h-0.85zM94.3 47.2h0.85v0.85h-0.85zM86.6 49.2h0.85v0.85h-0.85zM85.8 52.3h0.85v0.85h-0.85zM82.8 51.5h0.85v0.85h-0.85zM87.6 49.7h0.85v0.85h-0.85zM78.0 52.7h0.85v0.85h-0.85zM78.2 52.8h0.85v0.85h-0.85zM85.2 50.3h0.85v0.85h-0.85zM82.6 49.5h0.85v0.85h-0.85zM78.7 51.7h0.85v0.85h-0.85zM85.2 50.5h0.85v0.85h-0.85zM83.8 51.6h0.85v0.85h-0.85zM86.8 49.9h0.85v0.85h-0.85zM84.1 50.4h0.85v0.85h-0.85zM90.3 47.9h0.85v0.85h-0.85zM77.5 52.5h0.85v0.85h-0.85zM88.7 49.3h0.85v0.85h-0.85zM87.5 47.7h0.85v0.85h-0.85zM79.1 51.6h0.85v0.85h-0.85zM85.6 48.3h0.85v0.85h-0.85zM89.0 46.5h0.85v0.85h-0.85zM94.3 46.5h0.85v0.85h-0.85zM81.9 49.4h0.85v0.85h-0.85zM76.5 51.7h0.85v0.85h-0.85zM72.7 52.6h0.85v0.85h-0.85zM86.9 49.3h0.85v0.85h-0.85zM85.6 48.0h0.85v0.85h-0.85zM73.0 51.1h0.85v0.85h-0.85zM93.1 48.7h0.85v0.85h-0.85zM73.4 55.3h0.85v0.85h-0.85zM90.1 50.5h0.85v0.85h-0.85zM92.7 50.2h0.85v0.85h-0.85zM74.1 52.8h0.85v0.85h-0.85zM80.4 54.0h0.85v0.85h-0.85zM90.5 48.9h0.85v0.85h-0.85zM84.0 47.4h0.85v0.85h-0.85zM86.5 48.6h0.85v0.85h-0.85zM95.1 48.8h0.85v0.85h-0.85zM85.2 49.6h0.85v0.85h-0.85zM93.4 47.4h0.85v0.85h-0.85zM93.3 48.5h0.85v0.85h-0.85zM83.8 51.0h0.85v0.85h-0.85zM97.8 44.9h0.85v0.85h-0.85zM90.9 49.8h0.85v0.85h-0.85zM84.0 52.5h0.85v0.85h-0.85zM90.4 49.7h0.85v0.85h-0.85zM78.8 52.5h0.85v0.85h-0.85zM76.8 52.8h0.85v0.85h-0.85zM100.6 45.2h0.85v0.85h-0.85zM96.5 45.9h0.85v0.85h-0.85zM86.2 50.9h0.85v0.85h-0.85zM75.8 52.8h0.85v0.85h-0.85zM80.4 50.4h0.85v0.85h-0.85zM91.5 48.5h0.85v0.85h-0.85zM88.5 49.4h0.85v0.85h-0.85zM88.4 51.6h0.85v0.85h-0.85zM86.6 49.4h0.85v0.85h-0.85zM85.9 51.0h0.85v0.85h-0.85zM88.9 46.2h0.85v0.85h-0.85zM85.2 50.7h0.85v0.85h-0.85zM103.8 44.9h0.85v0.85h-0.85zM83.9 48.8h0.85v0.85h-0.85zM85.3 47.6h0.85v0.85h-0.85zM79.9 51.2h0.85v0.85h-0.85zM75.3 52.1h0.85v0.85h-0.85zM81.0 52.9h0.85v0.85h-0.85zM96.7 50.4h0.85v0.85h-0.85zM86.7 50.7h0.85v0.85h-0.85zM102.1 45.2h0.85v0.85h-0.85zM97.5 45.9h0.85v0.85h-0.85zM93.0 46.0h0.85v0.85h-0.85zM83.0 50.4h0.85v0.85h-0.85zM84.0 47.6h0.85v0.85h-0.85zM86.6 49.4h0.85v0.85h-0.85zM96.0 48.4h0.85v0.85h-0.85zM70.7 53.7h0.85v0.85h-0.85zM93.1 48.1h0.85v0.85h-0.85zM80.8 49.2h0.85v0.85h-0.85zM83.2 49.2h0.85v0.85h-0.85zM83.8 50.0h0.85v0.85h-0.85zM94.6 46.5h0.85v0.85h-0.85zM88.0 47.9h0.85v0.85h-0.85zM87.6 51.0h0.85v0.85h-0.85zM81.8 49.2h0.85v0.85h-0.85zM86.0 50.0h0.85v0.85h-0.85zM81.3 51.6h0.85v0.85h-0.85zM86.2 50.8h0.85v0.85h-0.85zM76.2 53.3h0.85v0.85h-0.85zM94.5 46.7h0.85v0.85h-0.85zM99.5 47.1h0.85v0.85h-0.85zM76.7 50.6h0.85v0.85h-0.85zM80.6 50.3h0.85v0.85h-0.85zM84.1 50.8h0.85v0.85h-0.85zM84.3 49.9h0.85v0.85h-0.85zM79.0 48.6h0.85v0.85h-0.85zM80.8 49.4h0.85v0.85h-0.85zM91.8 45.1h0.85v0.85h-0.85zM93.6 44.0h0.85v0.85h-0.85zM84.3 50.3h0.85v0.85h-0.85zM78.0 50.4h0.85v0.85h-0.85zM91.8 47.0h0.85v0.85h-0.85zM85.1 50.2h0.85v0.85h-0.85zM90.3 47.1h0.85v0.85h-0.85zM94.9 47.6h0.85v0.85h-0.85zM92.7 46.3h0.85v0.85h-0.85zM93.3 48.1h0.85v0.85h-0.85zM91.1 47.8h0.85v0.85h-0.85zM91.7 48.6h0.85v0.85h-0.85zM72.5 56.7h0.85v0.85h-0.85zM81.1 51.8h0.85v0.85h-0.85zM84.3 49.7h0.85v0.85h-0.85zM83.1 51.9h0.85v0.85h-0.85zM92.2 49.8h0.85v0.85h-0.85zM74.3 53.8h0.85v0.85h-0.85zM75.2 55.8h0.85v0.85h-0.85zM88.4 51.0h0.85v0.85h-0.85zM85.7 50.2h0.85v0.85h-0.85zM80.8 54.0h0.85v0.85h-0.85zM83.4 52.1h0.85v0.85h-0.85zM80.1 51.1h0.85v0.85h-0.85zM83.0 50.5h0.85v0.85h-0.85zM82.2 51.8h0.85v0.85h-0.85zM90.3 46.6h0.85v0.85h-0.85zM82.6 48.8h0.85v0.85h-0.85zM93.2 46.4h0.85v0.85h-0.85zM89.0 49.4h0.85v0.85h-0.85zM85.3 47.3h0.85v0.85h-0.85zM97.6 47.0h0.85v0.85h-0.85zM90.5 50.4h0.85v0.85h-0.85zM78.7 50.2h0.85v0.85h-0.85zM97.7 50.0h0.85v0.85h-0.85zM80.0 51.2h0.85v0.85h-0.85zM92.4 48.2h0.85v0.85h-0.85zM94.9 48.7h0.85v0.85h-0.85zM85.2 51.1h0.85v0.85h-0.85zM82.4 52.6h0.85v0.85h-0.85zM81.1 53.0h0.85v0.85h-0.85zM103.3 43.3h0.85v0.85h-0.85zM97.6 45.0h0.85v0.85h-0.85zM85.2 52.8h0.85v0.85h-0.85zM93.3 49.2h0.85v0.85h-0.85zM88.3 49.6h0.85v0.85h-0.85zM89.0 48.9h0.85v0.85h-0.85zM83.7 48.7h0.85v0.85h-0.85zM97.9 47.1h0.85v0.85h-0.85zM99.1 47.9h0.85v0.85h-0.85zM88.9 47.6h0.85v0.85h-0.85zM83.9 50.5h0.85v0.85h-0.85zM84.9 49.8h0.85v0.85h-0.85zM69.8 53.2h0.85v0.85h-0.85zM84.0 49.7h0.85v0.85h-0.85zM83.5 48.2h0.85v0.85h-0.85zM79.8 53.6h0.85v0.85h-0.85zM79.1 50.8h0.85v0.85h-0.85zM80.0 51.1h0.85v0.85h-0.85zM82.1 53.8h0.85v0.85h-0.85zM78.5 53.7h0.85v0.85h-0.85zM82.5 51.4h0.85v0.85h-0.85zM103.5 45.8h0.85v0.85h-0.85zM85.7 45.8h0.85v0.85h-0.85zM83.4 50.2h0.85v0.85h-0.85zM86.7 50.1h0.85v0.85h-0.85zM78.1 50.4h0.85v0.85h-0.85zM91.1 48.3h0.85v0.85h-0.85zM86.0 50.9h0.85v0.85h-0.85zM86.5 50.0h0.85v0.85h-0.85zM78.2 51.8h0.85v0.85h-0.85zM73.9 55.4h0.85v0.85h-0.85zM80.4 53.7h0.85v0.85h-0.85zM82.3 50.6h0.85v0.85h-0.85zM94.9 48.1h0.85v0.85h-0.85zM87.1 49.3h0.85v0.85h-0.85zM84.0 49.3h0.85v0.85h-0.85zM80.4 48.7h0.85v0.85h-0.85zM84.8 49.1h0.85v0.85h-0.85zM95.7 50.8h0.85v0.85h-0.85zM99.2 45.1h0.85v0.85h-0.85zM83.3 50.4h0.85v0.85h-0.85zM75.1 54.8h0.85v0.85h-0.85zM90.8 49.2h0.85v0.85h-0.85zM99.4 47.5h0.85v0.85h-0.85zM83.7 50.9h0.85v0.85h-0.85zM82.6 51.5h0.85v0.85h-0.85zM76.7 52.9h0.85v0.85h-0.85zM83.8 49.9h0.85v0.85h-0.85zM83.2 50.4h0.85v0.85h-0.85zM73.6 53.7h0.85v0.85h-0.85zM84.5 52.9h0.85v0.85h-0.85zM85.8 51.4h0.85v0.85h-0.85zM85.7 49.8h0.85v0.85h-0.85zM77.3 51.3h0.85v0.85h-0.85zM81.8 47.4h0.85v0.85h-0.85zM83.8 49.4h0.85v0.85h-0.85zM88.0 51.0h0.85v0.85h-0.85zM83.8 52.2h0.85v0.85h-0.85zM94.6 49.0h0.85v0.85h-0.85zM83.6 50.7h0.85v0.85h-0.85zM97.4 49.5h0.85v0.85h-0.85zM93.9 45.6h0.85v0.85h-0.85zM70.0 56.3h0.85v0.85h-0.85zM90.9 50.8h0.85v0.85h-0.85zM90.0 48.6h0.85v0.85h-0.85zM89.1 49.2h0.85v0.85h-0.85zM96.4 48.7h0.85v0.85h-0.85zM79.2 50.5h0.85v0.85h-0.85zM93.1 49.6h0.85v0.85h-0.85zM87.9 50.0h0.85v0.85h-0.85zM77.1 50.8h0.85v0.85h-0.85zM89.6 46.4h0.85v0.85h-0.85zM89.4 50.0h0.85v0.85h-0.85zM90.5 50.1h0.85v0.85h-0.85zM99.4 47.3h0.85v0.85h-0.85zM80.2 48.8h0.85v0.85h-0.85zM70.1 53.9h0.85v0.85h-0.85zM92.2 46.1h0.85v0.85h-0.85zM87.2 48.7h0.85v0.85h-0.85zM84.2 50.7h0.85v0.85h-0.85zM86.2 48.2h0.85v0.85h-0.85zM91.3 48.5h0.85v0.85h-0.85zM72.7 54.2h0.85v0.85h-0.85zM97.0 46.8h0.85v0.85h-0.85zM97.2 45.0h0.85v0.85h-0.85zM84.2 52.3h0.85v0.85h-0.85zM95.2 48.6h0.85v0.85h-0.85zM93.4 47.6h0.85v0.85h-0.85zM91.0 50.2h0.85v0.85h-0.85zM92.6 49.0h0.85v0.85h-0.85zM91.9 49.2h0.85v0.85h-0.85zM90.2 46.7h0.85v0.85h-0.85zM90.2 47.6h0.85v0.85h-0.85zM83.3 50.7h0.85v0.85h-0.85zM87.7 47.6h0.85v0.85h-0.85zM82.2 51.2h0.85v0.85h-0.85zM83.1 50.7h0.85v0.85h-0.85zM87.6 49.9h0.85v0.85h-0.85zM82.1 51.2h0.85v0.85h-0.85zM90.0 47.2h0.85v0.85h-0.85zM91.5 47.2h0.85v0.85h-0.85zM88.5 50.3h0.85v0.85h-0.85zM90.5 47.2h0.85v0.85h-0.85zM79.5 49.8h0.85v0.85h-0.85zM90.0 49.2h0.85v0.85h-0.85zM73.2 54.1h0.85v0.85h-0.85zM94.3 47.3h0.85v0.85h-0.85zM85.4 50.5h0.85v0.85h-0.85zM78.8 51.0h0.85v0.85h-0.85zM89.8 48.6h0.85v0.85h-0.85zM85.9 50.2h0.85v0.85h-0.85zM98.0 47.5h0.85v0.85h-0.85zM88.3 48.7h0.85v0.85h-0.85zM94.6 48.0h0.85v0.85h-0.85zM85.7 52.0h0.85v0.85h-0.85zM95.4 46.4h0.85v0.85h-0.85zM83.7 52.4h0.85v0.85h-0.85zM82.6 53.1h0.85v0.85h-0.85zM84.8 53.1h0.85v0.85h-0.85zM79.1 48.8h0.85v0.85h-0.85zM75.7 55.3h0.85v0.85h-0.85zM80.8 50.6h0.85v0.85h-0.85zM81.9 49.9h0.85v0.85h-0.85zM87.0 49.9h0.85v0.85h-0.85zM81.5 50.3h0.85v0.85h-0.85zM95.3 49.2h0.85v0.85h-0.85zM92.9 50.2h0.85v0.85h-0.85zM84.5 51.6h0.85v0.85h-0.85zM97.5 46.1h0.85v0.85h-0.85zM95.4 44.1h0.85v0.85h-0.85zM72.5 51.0h0.85v0.85h-0.85zM78.9 50.2h0.85v0.85h-0.85zM82.4 52.0h0.85v0.85h-0.85zM80.7 50.7h0.85v0.85h-0.85zM76.7 49.8h0.85v0.85h-0.85zM84.6 49.2h0.85v0.85h-0.85zM92.1 48.7h0.85v0.85h-0.85zM73.1 54.1h0.85v0.85h-0.85zM77.4 51.4h0.85v0.85h-0.85zM78.5 50.5h0.85v0.85h-0.85zM81.6 49.2h0.85v0.85h-0.85zM80.6 50.8h0.85v0.85h-0.85zM90.9 49.8h0.85v0.85h-0.85zM98.3 44.7h0.85v0.85h-0.85zM83.0 52.4h0.85v0.85h-0.85zM77.8 51.6h0.85v0.85h-0.85zM90.9 51.0h0.85v0.85h-0.85zM89.8 49.5h0.85v0.85h-0.85zM84.7 51.2h0.85v0.85h-0.85zM86.5 50.3h0.85v0.85h-0.85zM81.2 50.9h0.85v0.85h-0.85zM79.6 49.9h0.85v0.85h-0.85zM79.8 50.2h0.85v0.85h-0.85zM81.0 50.3h0.85v0.85h-0.85zM75.1 53.0h0.85v0.85h-0.85zM88.0 51.7h0.85v0.85h-0.85zM69.2 51.8h0.85v0.85h-0.85zM78.9 50.3h0.85v0.85h-0.85zM86.2 48.7h0.85v0.85h-0.85zM80.3 52.3h0.85v0.85h-0.85zM84.4 47.9h0.85v0.85h-0.85zM92.4 51.7h0.85v0.85h-0.85zM93.6 47.9h0.85v0.85h-0.85zM95.3 47.6h0.85v0.85h-0.85zM83.3 50.9h0.85v0.85h-0.85zM94.8 48.0h0.85v0.85h-0.85zM83.6 48.5h0.85v0.85h-0.85zM87.0 48.1h0.85v0.85h-0.85zM85.0 48.1h0.85v0.85h-0.85zM79.6 50.0h0.85v0.85h-0.85zM81.0 49.4h0.85v0.85h-0.85zM94.3 49.1h0.85v0.85h-0.85zM83.4 49.0h0.85v0.85h-0.85zM93.4 47.8h0.85v0.85h-0.85zM89.7 50.5h0.85v0.85h-0.85zM82.9 51.3h0.85v0.85h-0.85zM88.8 48.6h0.85v0.85h-0.85zM84.5 49.4h0.85v0.85h-0.85zM61.9 55.0h0.85v0.85h-0.85zM97.3 48.8h0.85v0.85h-0.85zM104.8 45.6h0.85v0.85h-0.85zM91.9 47.6h0.85v0.85h-0.85zM80.5 50.0h0.85v0.85h-0.85zM88.9 50.4h0.85v0.85h-0.85zM72.3 54.2h0.85v0.85h-0.85zM92.1 49.6h0.85v0.85h-0.85zM76.8 52.4h0.85v0.85h-0.85zM88.0 47.5h0.85v0.85h-0.85zM77.8 55.1h0.85v0.85h-0.85zM81.0 50.4h0.85v0.85h-0.85zM72.1 52.3h0.85v0.85h-0.85zM95.2 48.3h0.85v0.85h-0.85zM79.7 51.4h0.85v0.85h-0.85zM88.2 50.2h0.85v0.85h-0.85zM78.7 52.2h0.85v0.85h-0.85zM81.0 50.4h0.85v0.85h-0.85zM79.7 50.2h0.85v0.85h-0.85zM89.1 46.6h0.85v0.85h-0.85zM87.0 53.6h0.85v0.85h-0.85zM79.4 51.0h0.85v0.85h-0.85zM85.2 52.4h0.85v0.85h-0.85zM75.7 53.2h0.85v0.85h-0.85zM85.0 53.0h0.85v0.85h-0.85zM84.2 53.2h0.85v0.85h-0.85zM78.9 52.1h0.85v0.85h-0.85zM78.0 50.9h0.85v0.85h-0.85zM76.9 51.5h0.85v0.85h-0.85zM96.5 46.7h0.85v0.85h-0.85zM102.9 48.3h0.85v0.85h-0.85zM87.8 49.5h0.85v0.85h-0.85zM87.8 48.4h0.85v0.85h-0.85zM89.8 49.2h0.85v0.85h-0.85zM70.5 64.1h0.85v0.85h-0.85zM86.9 59.5h0.85v0.85h-0.85zM85.1 59.9h0.85v0.85h-0.85zM80.0 63.0h0.85v0.85h-0.85zM92.2 57.5h0.85v0.85h-0.85zM88.3 57.3h0.85v0.85h-0.85zM91.2 57.0h0.85v0.85h-0.85zM83.4 61.9h0.85v0.85h-0.85zM79.9 61.5h0.85v0.85h-0.85zM89.6 57.8h0.85v0.85h-0.85zM85.3 61.6h0.85v0.85h-0.85zM84.8 58.8h0.85v0.85h-0.85zM80.6 60.8h0.85v0.85h-0.85zM83.2 61.5h0.85v0.85h-0.85zM73.1 63.2h0.85v0.85h-0.85zM84.4 62.5h0.85v0.85h-0.85zM73.7 61.7h0.85v0.85h-0.85zM88.9 58.8h0.85v0.85h-0.85zM90.2 58.5h0.85v0.85h-0.85zM78.9 61.6h0.85v0.85h-0.85zM91.1 59.4h0.85v0.85h-0.85zM84.4 60.4h0.85v0.85h-0.85zM90.0 59.6h0.85v0.85h-0.85zM84.7 61.2h0.85v0.85h-0.85zM83.8 58.6h0.85v0.85h-0.85zM88.9 60.8h0.85v0.85h-0.85zM92.1 57.9h0.85v0.85h-0.85zM75.4 63.3h0.85v0.85h-0.85zM79.4 58.6h0.85v0.85h-0.85zM84.1 59.0h0.85v0.85h-0.85zM83.6 59.6h0.85v0.85h-0.85zM88.4 60.4h0.85v0.85h-0.85zM86.3 61.4h0.85v0.85h-0.85zM79.7 65.1h0.85v0.85h-0.85zM72.1 64.7h0.85v0.85h-0.85zM89.7 58.0h0.85v0.85h-0.85zM83.9 58.4h0.85v0.85h-0.85zM80.3 61.7h0.85v0.85h-0.85zM75.0 59.7h0.85v0.85h-0.85zM80.8 59.8h0.85v0.85h-0.85zM77.0 61.9h0.85v0.85h-0.85zM74.3 64.6h0.85v0.85h-0.85zM90.4 58.5h0.85v0.85h-0.85zM79.3 61.4h0.85v0.85h-0.85zM82.4 59.4h0.85v0.85h-0.85zM79.0 62.3h0.85v0.85h-0.85zM77.4 61.1h0.85v0.85h-0.85zM80.2 59.7h0.85v0.85h-0.85zM84.7 58.1h0.85v0.85h-0.85zM89.0 60.0h0.85v0.85h-0.85zM82.9 61.9h0.85v0.85h-0.85zM90.0 58.0h0.85v0.85h-0.85zM82.7 59.7h0.85v0.85h-0.85zM80.8 60.5h0.85v0.85h-0.85zM83.6 61.1h0.85v0.85h-0.85zM97.0 57.2h0.85v0.85h-0.85zM89.1 58.5h0.85v0.85h-0.85zM93.5 57.8h0.85v0.85h-0.85zM82.0 60.4h0.85v0.85h-0.85zM83.3 59.8h0.85v0.85h-0.85zM84.2 62.9h0.85v0.85h-0.85zM83.5 59.2h0.85v0.85h-0.85zM71.3 63.6h0.85v0.85h-0.85zM76.7 61.1h0.85v0.85h-0.85zM84.0 60.8h0.85v0.85h-0.85zM86.0 61.5h0.85v0.85h-0.85zM77.1 61.1h0.85v0.85h-0.85zM77.5 60.5h0.85v0.85h-0.85zM78.9 60.3h0.85v0.85h-0.85zM87.4 57.7h0.85v0.85h-0.85zM96.9 53.5h0.85v0.85h-0.85zM88.3 56.6h0.85v0.85h-0.85zM80.0 59.5h0.85v0.85h-0.85zM83.0 61.2h0.85v0.85h-0.85zM80.4 60.2h0.85v0.85h-0.85zM76.8 60.9h0.85v0.85h-0.85zM77.6 60.9h0.85v0.85h-0.85zM83.4 61.7h0.85v0.85h-0.85zM78.6 58.6h0.85v0.85h-0.85zM80.6 62.4h0.85v0.85h-0.85zM76.5 62.8h0.85v0.85h-0.85zM75.6 60.6h0.85v0.85h-0.85zM84.3 57.3h0.85v0.85h-0.85zM80.3 57.0h0.85v0.85h-0.85zM76.3 62.9h0.85v0.85h-0.85zM79.7 60.3h0.85v0.85h-0.85zM86.2 58.2h0.85v0.85h-0.85zM75.6 61.9h0.85v0.85h-0.85zM82.4 60.8h0.85v0.85h-0.85zM81.7 62.6h0.85v0.85h-0.85zM86.4 59.3h0.85v0.85h-0.85zM97.3 54.1h0.85v0.85h-0.85zM84.3 58.9h0.85v0.85h-0.85zM96.3 57.2h0.85v0.85h-0.85zM88.0 59.7h0.85v0.85h-0.85zM92.0 57.1h0.85v0.85h-0.85zM88.5 56.3h0.85v0.85h-0.85zM86.4 61.3h0.85v0.85h-0.85zM88.3 59.9h0.85v0.85h-0.85zM71.0 63.9h0.85v0.85h-0.85zM80.6 63.4h0.85v0.85h-0.85zM86.2 60.6h0.85v0.85h-0.85zM91.0 59.0h0.85v0.85h-0.85zM74.2 61.6h0.85v0.85h-0.85zM69.6 66.0h0.85v0.85h-0.85zM81.6 58.9h0.85v0.85h-0.85zM85.9 59.0h0.85v0.85h-0.85zM80.8 63.0h0.85v0.85h-0.85zM69.8 61.8h0.85v0.85h-0.85zM82.1 60.3h0.85v0.85h-0.85zM89.9 58.0h0.85v0.85h-0.85zM86.0 62.2h0.85v0.85h-0.85zM74.2 60.7h0.85v0.85h-0.85zM78.3 61.4h0.85v0.85h-0.85zM75.8 62.8h0.85v0.85h-0.85zM77.9 63.6h0.85v0.85h-0.85zM85.9 60.7h0.85v0.85h-0.85zM84.1 60.4h0.85v0.85h-0.85zM72.5 63.0h0.85v0.85h-0.85zM71.5 65.6h0.85v0.85h-0.85zM75.6 61.1h0.85v0.85h-0.85zM79.9 64.7h0.85v0.85h-0.85zM75.8 65.0h0.85v0.85h-0.85zM83.6 64.2h0.85v0.85h-0.85zM81.3 60.1h0.85v0.85h-0.85zM82.6 59.7h0.85v0.85h-0.85zM78.2 62.8h0.85v0.85h-0.85zM79.9 62.7h0.85v0.85h-0.85zM86.5 60.9h0.85v0.85h-0.85zM92.6 59.4h0.85v0.85h-0.85zM76.8 64.2h0.85v0.85h-0.85zM67.2 66.8h0.85v0.85h-0.85zM90.4 56.7h0.85v0.85h-0.85zM90.8 55.4h0.85v0.85h-0.85zM89.1 58.1h0.85v0.85h-0.85zM80.9 60.7h0.85v0.85h-0.85zM79.2 62.6h0.85v0.85h-0.85zM82.4 60.5h0.85v0.85h-0.85zM83.1 59.9h0.85v0.85h-0.85zM76.4 63.2h0.85v0.85h-0.85zM88.0 57.2h0.85v0.85h-0.85zM88.8 60.8h0.85v0.85h-0.85zM83.8 62.5h0.85v0.85h-0.85zM69.1 66.4h0.85v0.85h-0.85zM78.1 62.3h0.85v0.85h-0.85zM77.0 65.9h0.85v0.85h-0.85zM80.2 62.2h0.85v0.85h-0.85zM73.6 62.6h0.85v0.85h-0.85zM85.5 59.6h0.85v0.85h-0.85zM78.0 64.1h0.85v0.85h-0.85zM73.0 63.3h0.85v0.85h-0.85zM81.7 60.2h0.85v0.85h-0.85zM86.9 59.7h0.85v0.85h-0.85zM81.6 61.8h0.85v0.85h-0.85zM82.3 61.5h0.85v0.85h-0.85zM90.8 58.7h0.85v0.85h-0.85zM83.2 59.5h0.85v0.85h-0.85zM91.7 59.5h0.85v0.85h-0.85zM86.1 60.0h0.85v0.85h-0.85zM77.6 62.1h0.85v0.85h-0.85zM84.7 58.2h0.85v0.85h-0.85zM76.8 62.0h0.85v0.85h-0.85zM94.9 57.7h0.85v0.85h-0.85zM73.6 65.0h0.85v0.85h-0.85zM88.4 60.0h0.85v0.85h-0.85zM79.3 61.3h0.85v0.85h-0.85zM96.6 58.4h0.85v0.85h-0.85zM111.7 49.7h0.85v0.85h-0.85zM72.8 62.6h0.85v0.85h-0.85zM77.0 61.1h0.85v0.85h-0.85zM87.4 61.3h0.85v0.85h-0.85zM73.8 63.9h0.85v0.85h-0.85zM88.2 59.4h0.85v0.85h-0.85zM91.4 59.9h0.85v0.85h-0.85zM77.7 62.1h0.85v0.85h-0.85zM84.5 58.2h0.85v0.85h-0.85zM81.4 62.5h0.85v0.85h-0.85zM85.3 59.9h0.85v0.85h-0.85zM99.2 57.0h0.85v0.85h-0.85zM88.9 57.5h0.85v0.85h-0.85zM90.5 57.7h0.85v0.85h-0.85zM81.7 60.2h0.85v0.85h-0.85zM74.8 63.6h0.85v0.85h-0.85zM75.0 64.0h0.85v0.85h-0.85zM77.8 63.9h0.85v0.85h-0.85zM85.0 61.7h0.85v0.85h-0.85zM75.9 63.3h0.85v0.85h-0.85zM87.6 59.6h0.85v0.85h-0.85zM82.2 59.8h0.85v0.85h-0.85zM62.3 67.0h0.85v0.85h-0.85zM74.8 61.1h0.85v0.85h-0.85zM85.2 55.7h0.85v0.85h-0.85zM78.0 62.9h0.85v0.85h-0.85zM83.0 60.1h0.85v0.85h-0.85zM77.9 62.2h0.85v0.85h-0.85zM73.1 62.3h0.85v0.85h-0.85zM88.0 57.7h0.85v0.85h-0.85zM82.1 60.2h0.85v0.85h-0.85zM74.9 59.6h0.85v0.85h-0.85zM77.4 60.8h0.85v0.85h-0.85zM76.3 62.2h0.85v0.85h-0.85zM84.9 60.9h0.85v0.85h-0.85zM85.2 58.1h0.85v0.85h-0.85zM91.7 58.6h0.85v0.85h-0.85zM87.6 57.2h0.85v0.85h-0.85zM89.8 62.2h0.85v0.85h-0.85zM86.2 61.3h0.85v0.85h-0.85zM79.2 61.8h0.85v0.85h-0.85zM82.6 61.6h0.85v0.85h-0.85zM83.9 60.6h0.85v0.85h-0.85zM77.1 60.3h0.85v0.85h-0.85zM82.8 64.5h0.85v0.85h-0.85zM76.6 63.1h0.85v0.85h-0.85zM91.4 57.1h0.85v0.85h-0.85zM72.5 64.0h0.85v0.85h-0.85zM82.7 59.2h0.85v0.85h-0.85zM92.6 58.9h0.85v0.85h-0.85zM82.9 58.4h0.85v0.85h-0.85zM91.0 60.1h0.85v0.85h-0.85zM88.3 61.6h0.85v0.85h-0.85zM76.3 60.8h0.85v0.85h-0.85zM88.5 59.7h0.85v0.85h-0.85zM82.7 59.8h0.85v0.85h-0.85zM89.5 59.1h0.85v0.85h-0.85zM88.5 57.2h0.85v0.85h-0.85zM83.3 61.1h0.85v0.85h-0.85zM89.5 56.1h0.85v0.85h-0.85zM81.7 59.8h0.85v0.85h-0.85zM83.0 60.3h0.85v0.85h-0.85zM85.7 61.0h0.85v0.85h-0.85zM84.7 59.9h0.85v0.85h-0.85zM88.6 61.1h0.85v0.85h-0.85zM83.4 59.1h0.85v0.85h-0.85zM94.3 58.8h0.85v0.85h-0.85zM97.0 56.0h0.85v0.85h-0.85zM80.5 60.9h0.85v0.85h-0.85zM82.4 58.4h0.85v0.85h-0.85zM88.4 56.7h0.85v0.85h-0.85zM65.2 65.4h0.85v0.85h-0.85zM76.1 62.8h0.85v0.85h-0.85zM75.5 60.4h0.85v0.85h-0.85zM69.8 62.2h0.85v0.85h-0.85zM81.1 64.4h0.85v0.85h-0.85zM87.3 58.3h0.85v0.85h-0.85zM91.7 58.5h0.85v0.85h-0.85zM71.0 61.1h0.85v0.85h-0.85zM73.3 62.3h0.85v0.85h-0.85zM83.2 59.5h0.85v0.85h-0.85zM79.5 60.0h0.85v0.85h-0.85zM84.1 61.4h0.85v0.85h-0.85zM76.1 64.4h0.85v0.85h-0.85zM77.6 61.6h0.85v0.85h-0.85zM93.8 58.5h0.85v0.85h-0.85zM83.3 57.4h0.85v0.85h-0.85zM83.5 59.8h0.85v0.85h-0.85zM81.6 62.6h0.85v0.85h-0.85zM79.5 64.3h0.85v0.85h-0.85zM83.3 60.7h0.85v0.85h-0.85zM81.0 61.2h0.85v0.85h-0.85zM91.7 58.5h0.85v0.85h-0.85zM76.6 61.1h0.85v0.85h-0.85zM90.5 59.3h0.85v0.85h-0.85zM77.5 61.8h0.85v0.85h-0.85zM83.6 61.2h0.85v0.85h-0.85zM76.8 62.4h0.85v0.85h-0.85zM74.6 61.6h0.85v0.85h-0.85zM81.5 63.0h0.85v0.85h-0.85zM82.4 63.3h0.85v0.85h-0.85zM85.5 61.9h0.85v0.85h-0.85zM82.0 57.9h0.85v0.85h-0.85zM68.9 63.7h0.85v0.85h-0.85zM94.5 57.1h0.85v0.85h-0.85zM79.8 62.4h0.85v0.85h-0.85zM80.6 60.6h0.85v0.85h-0.85zM84.3 60.8h0.85v0.85h-0.85zM79.2 60.3h0.85v0.85h-0.85zM93.4 56.3h0.85v0.85h-0.85zM77.2 61.8h0.85v0.85h-0.85zM82.1 61.2h0.85v0.85h-0.85zM93.1 59.8h0.85v0.85h-0.85zM82.8 60.8h0.85v0.85h-0.85zM89.3 58.6h0.85v0.85h-0.85zM84.1 58.5h0.85v0.85h-0.85zM85.6 59.6h0.85v0.85h-0.85zM73.7 63.4h0.85v0.85h-0.85zM97.3 57.1h0.85v0.85h-0.85zM77.8 64.0h0.85v0.85h-0.85zM85.3 60.2h0.85v0.85h-0.85zM92.8 59.2h0.85v0.85h-0.85zM96.5 55.5h0.85v0.85h-0.85zM80.2 61.1h0.85v0.85h-0.85zM84.3 58.3h0.85v0.85h-0.85zM84.9 57.8h0.85v0.85h-0.85zM79.4 61.1h0.85v0.85h-0.85zM84.7 60.5h0.85v0.85h-0.85zM78.1 62.4h0.85v0.85h-0.85zM85.0 59.8h0.85v0.85h-0.85zM83.2 59.6h0.85v0.85h-0.85zM94.7 59.4h0.85v0.85h-0.85zM84.7 62.1h0.85v0.85h-0.85zM77.3 61.3h0.85v0.85h-0.85zM80.9 61.8h0.85v0.85h-0.85zM80.9 59.6h0.85v0.85h-0.85zM73.3 61.4h0.85v0.85h-0.85zM89.1 59.6h0.85v0.85h-0.85zM73.9 66.0h0.85v0.85h-0.85zM79.9 60.6h0.85v0.85h-0.85zM81.9 60.9h0.85v0.85h-0.85zM80.5 61.1h0.85v0.85h-0.85zM88.0 60.6h0.85v0.85h-0.85zM78.6 61.5h0.85v0.85h-0.85zM78.1 61.2h0.85v0.85h-0.85zM82.4 60.2h0.85v0.85h-0.85zM86.9 58.0h0.85v0.85h-0.85zM85.5 61.0h0.85v0.85h-0.85zM81.0 60.5h0.85v0.85h-0.85zM86.9 58.8h0.85v0.85h-0.85zM80.9 61.4h0.85v0.85h-0.85zM67.0 66.0h0.85v0.85h-0.85zM84.6 61.0h0.85v0.85h-0.85zM48.3 52.1h0.85v0.85h-0.85zM81.5 53.2h0.85v0.85h-0.85zM40.0 78.2h0.85v0.85h-0.85zM100.5 84.3h0.85v0.85h-0.85zM99.6 51.7h0.85v0.85h-0.85zM60.3 73.0h0.85v0.85h-0.85zM77.8 52.9h0.85v0.85h-0.85zM55.2 44.7h0.85v0.85h-0.85zM42.1 72.0h0.85v0.85h-0.85zM44.2 88.2h0.85v0.85h-0.85zM107.0 48.0h0.85v0.85h-0.85zM107.5 74.3h0.85v0.85h-0.85zM64.0 57.0h0.85v0.85h-0.85zM42.8 53.4h0.85v0.85h-0.85zM72.7 52.7h0.85v0.85h-0.85zM74.0 84.1h0.85v0.85h-0.85zM94.0 59.4h0.85v0.85h-0.85zM91.3 59.3h0.85v0.85h-0.85zM50.5 63.0h0.85v0.85h-0.85zM46.2 79.5h0.85v0.85h-0.85zM56.1 67.4h0.85v0.85h-0.85zM87.9 80.7h0.85v0.85h-0.85zM51.7 67.6h0.85v0.85h-0.85zM53.0 74.1h0.85v0.85h-0.85zM71.8 46.1h0.85v0.85h-0.85zM44.6 73.9h0.85v0.85h-0.85zM74.4 67.9h0.85v0.85h-0.85zM109.9 43.9h0.85v0.85h-0.85zM53.3 52.8h0.85v0.85h-0.85zM54.3 66.7h0.85v0.85h-0.85zM104.5 45.0h0.85v0.85h-0.85zM59.2 56.8h0.85v0.85h-0.85zM108.3 45.2h0.85v0.85h-0.85zM58.2 45.5h0.85v0.85h-0.85zM50.5 54.2h0.85v0.85h-0.85zM79.1 57.7h0.85v0.85h-0.85zM46.9 68.3h0.85v0.85h-0.85zM108.6 59.8h0.85v0.85h-0.85zM39.7 88.0h0.85v0.85h-0.85zM62.7 67.0h0.85v0.85h-0.85zM105.7 43.4h0.85v0.85h-0.85zM43.9 75.2h0.85v0.85h-0.85zM106.6 48.2h0.85v0.85h-0.85zM51.6 65.3h0.85v0.85h-0.85zM52.4 72.2h0.85v0.85h-0.85zM90.2 45.0h0.85v0.85h-0.85zM44.5 57.3h0.85v0.85h-0.85zM67.8 58.3h0.85v0.85h-0.85zM47.1 73.9h0.85v0.85h-0.85zM64.3 86.6h0.85v0.85h-0.85zM81.1 73.8h0.85v0.85h-0.85zM47.9 64.1h0.85v0.85h-0.85z" fill="#000" fill-opacity="0.42"/>
<path d="M56.0,52.5 L57.0,50.5 L59.0,49.6 L63.0,49.2 L67.0,49.4 L71.0,50.0 L74.0,50.8 L77.0,51.8 L78.5,52.6 L76.0,53.6 L72.0,54.6 L68.0,55.6 L64.0,56.6 L60.0,57.0 L57.5,56.0 L56.0,54.5 Z" fill="#151515"/>
<path d="M51.0,71.3 L52.0,68.5 L54.0,66.8 L57.0,65.6 L61.0,64.8 L65.0,64.4 L69.0,64.6 L72.5,65.4 L74.5,66.3 L73.0,68.5 L70.5,70.8 L67.0,73.0 L63.0,74.6 L59.0,75.6 L55.0,75.6 L52.5,74.2 Z" fill="#151515"/>
<path d="M69.5 52.8h0.8v0.8h-0.8zM57.6 59.3h0.8v0.8h-0.8zM66.2 51.4h0.8v0.8h-0.8zM59.0 55.5h0.8v0.8h-0.8zM67.3 53.6h0.8v0.8h-0.8zM68.1 54.8h0.8v0.8h-0.8zM84.5 53.2h0.8v0.8h-0.8zM73.8 51.9h0.8v0.8h-0.8zM57.9 54.9h0.8v0.8h-0.8zM69.6 50.5h0.8v0.8h-0.8zM81.4 48.8h0.8v0.8h-0.8zM64.4 56.4h0.8v0.8h-0.8zM71.7 52.0h0.8v0.8h-0.8zM74.2 52.2h0.8v0.8h-0.8zM64.5 52.1h0.8v0.8h-0.8zM57.9 55.9h0.8v0.8h-0.8zM71.2 59.1h0.8v0.8h-0.8zM58.8 55.5h0.8v0.8h-0.8zM67.1 50.7h0.8v0.8h-0.8zM62.6 49.3h0.8v0.8h-0.8zM67.0 50.7h0.8v0.8h-0.8zM61.1 56.2h0.8v0.8h-0.8zM58.5 54.5h0.8v0.8h-0.8zM55.2 52.1h0.8v0.8h-0.8zM69.0 54.2h0.8v0.8h-0.8zM71.9 54.8h0.8v0.8h-0.8zM70.4 58.3h0.8v0.8h-0.8zM68.1 55.5h0.8v0.8h-0.8zM66.6 50.9h0.8v0.8h-0.8zM70.5 53.6h0.8v0.8h-0.8zM64.2 50.9h0.8v0.8h-0.8zM69.8 52.2h0.8v0.8h-0.8zM63.3 56.0h0.8v0.8h-0.8zM63.0 55.1h0.8v0.8h-0.8zM72.6 54.3h0.8v0.8h-0.8zM66.0 50.6h0.8v0.8h-0.8zM75.7 51.9h0.8v0.8h-0.8zM61.7 55.2h0.8v0.8h-0.8zM65.5 54.2h0.8v0.8h-0.8zM57.5 54.2h0.8v0.8h-0.8zM66.8 52.0h0.8v0.8h-0.8zM81.0 52.9h0.8v0.8h-0.8zM58.8 56.7h0.8v0.8h-0.8zM70.1 51.3h0.8v0.8h-0.8zM71.4 56.6h0.8v0.8h-0.8zM63.3 56.0h0.8v0.8h-0.8zM75.3 52.3h0.8v0.8h-0.8zM61.5 54.0h0.8v0.8h-0.8zM71.6 58.0h0.8v0.8h-0.8zM70.9 51.3h0.8v0.8h-0.8zM63.4 55.3h0.8v0.8h-0.8zM62.1 55.4h0.8v0.8h-0.8zM67.2 52.8h0.8v0.8h-0.8zM60.2 55.9h0.8v0.8h-0.8zM61.2 51.9h0.8v0.8h-0.8zM64.7 50.4h0.8v0.8h-0.8zM75.0 56.9h0.8v0.8h-0.8zM68.9 56.6h0.8v0.8h-0.8zM69.9 52.0h0.8v0.8h-0.8zM66.5 48.5h0.8v0.8h-0.8zM57.1 58.3h0.8v0.8h-0.8zM71.5 54.9h0.8v0.8h-0.8zM74.5 52.0h0.8v0.8h-0.8zM71.0 50.8h0.8v0.8h-0.8zM61.2 51.0h0.8v0.8h-0.8zM63.2 49.2h0.8v0.8h-0.8zM63.7 49.0h0.8v0.8h-0.8zM68.3 56.4h0.8v0.8h-0.8zM69.2 48.7h0.8v0.8h-0.8zM69.9 55.6h0.8v0.8h-0.8zM84.5 52.2h0.8v0.8h-0.8zM62.9 51.7h0.8v0.8h-0.8zM61.1 52.0h0.8v0.8h-0.8zM54.5 52.3h0.8v0.8h-0.8zM78.5 46.4h0.8v0.8h-0.8zM61.3 50.7h0.8v0.8h-0.8zM62.0 53.2h0.8v0.8h-0.8zM80.4 53.0h0.8v0.8h-0.8zM79.0 51.3h0.8v0.8h-0.8zM69.7 56.0h0.8v0.8h-0.8zM68.1 55.0h0.8v0.8h-0.8zM70.1 47.0h0.8v0.8h-0.8zM78.1 52.4h0.8v0.8h-0.8zM63.3 49.4h0.8v0.8h-0.8zM69.9 54.6h0.8v0.8h-0.8zM65.8 51.3h0.8v0.8h-0.8zM69.8 55.3h0.8v0.8h-0.8zM68.6 54.5h0.8v0.8h-0.8zM68.7 54.3h0.8v0.8h-0.8zM71.8 54.1h0.8v0.8h-0.8zM64.0 54.3h0.8v0.8h-0.8zM69.1 55.1h0.8v0.8h-0.8zM71.3 53.5h0.8v0.8h-0.8zM77.0 53.3h0.8v0.8h-0.8zM71.7 54.6h0.8v0.8h-0.8zM72.9 55.4h0.8v0.8h-0.8zM76.8 51.5h0.8v0.8h-0.8zM70.0 53.6h0.8v0.8h-0.8zM73.4 57.0h0.8v0.8h-0.8zM76.3 54.4h0.8v0.8h-0.8zM67.7 48.1h0.8v0.8h-0.8zM59.5 54.7h0.8v0.8h-0.8zM59.9 56.4h0.8v0.8h-0.8zM55.1 54.2h0.8v0.8h-0.8zM53.6 55.8h0.8v0.8h-0.8zM61.5 52.2h0.8v0.8h-0.8zM61.5 54.2h0.8v0.8h-0.8zM67.9 52.5h0.8v0.8h-0.8zM60.0 55.0h0.8v0.8h-0.8zM63.4 52.5h0.8v0.8h-0.8zM64.2 51.9h0.8v0.8h-0.8zM65.0 55.3h0.8v0.8h-0.8zM89.0 55.5h0.8v0.8h-0.8zM80.0 54.0h0.8v0.8h-0.8zM59.7 48.1h0.8v0.8h-0.8zM58.6 51.8h0.8v0.8h-0.8zM57.7 54.7h0.8v0.8h-0.8zM63.9 54.5h0.8v0.8h-0.8zM55.3 51.5h0.8v0.8h-0.8zM81.1 51.1h0.8v0.8h-0.8zM62.3 52.2h0.8v0.8h-0.8zM62.1 52.7h0.8v0.8h-0.8zM73.5 49.1h0.8v0.8h-0.8zM61.6 54.9h0.8v0.8h-0.8zM71.8 50.8h0.8v0.8h-0.8zM75.2 54.1h0.8v0.8h-0.8zM62.9 53.8h0.8v0.8h-0.8zM69.0 51.4h0.8v0.8h-0.8zM69.1 55.7h0.8v0.8h-0.8zM66.0 55.3h0.8v0.8h-0.8zM50.6 55.9h0.8v0.8h-0.8zM59.7 52.0h0.8v0.8h-0.8zM73.8 47.3h0.8v0.8h-0.8zM67.4 52.6h0.8v0.8h-0.8zM70.1 48.6h0.8v0.8h-0.8zM63.3 49.2h0.8v0.8h-0.8zM63.4 51.7h0.8v0.8h-0.8zM77.3 50.3h0.8v0.8h-0.8zM66.5 56.1h0.8v0.8h-0.8zM67.9 54.6h0.8v0.8h-0.8zM63.3 52.2h0.8v0.8h-0.8zM75.7 52.5h0.8v0.8h-0.8zM54.6 50.2h0.8v0.8h-0.8zM71.9 52.9h0.8v0.8h-0.8zM77.3 56.0h0.8v0.8h-0.8zM67.4 51.5h0.8v0.8h-0.8zM55.5 54.5h0.8v0.8h-0.8zM60.1 51.4h0.8v0.8h-0.8zM61.3 52.9h0.8v0.8h-0.8zM69.8 53.3h0.8v0.8h-0.8zM62.1 53.2h0.8v0.8h-0.8zM70.3 51.3h0.8v0.8h-0.8zM76.1 52.6h0.8v0.8h-0.8zM60.1 49.8h0.8v0.8h-0.8zM51.3 56.0h0.8v0.8h-0.8zM58.7 48.2h0.8v0.8h-0.8zM67.6 50.9h0.8v0.8h-0.8zM61.7 54.0h0.8v0.8h-0.8zM61.3 51.5h0.8v0.8h-0.8zM59.5 54.1h0.8v0.8h-0.8zM70.2 55.7h0.8v0.8h-0.8zM65.0 50.7h0.8v0.8h-0.8zM72.7 55.1h0.8v0.8h-0.8zM59.7 51.2h0.8v0.8h-0.8zM73.9 47.1h0.8v0.8h-0.8zM66.8 49.5h0.8v0.8h-0.8zM74.4 51.2h0.8v0.8h-0.8zM61.3 53.2h0.8v0.8h-0.8zM63.1 55.4h0.8v0.8h-0.8zM65.4 55.1h0.8v0.8h-0.8zM67.3 54.0h0.8v0.8h-0.8zM59.0 52.6h0.8v0.8h-0.8zM69.7 48.9h0.8v0.8h-0.8zM79.9 49.6h0.8v0.8h-0.8zM73.9 54.8h0.8v0.8h-0.8zM68.6 52.3h0.8v0.8h-0.8zM66.9 53.3h0.8v0.8h-0.8zM73.4 58.0h0.8v0.8h-0.8zM68.8 51.8h0.8v0.8h-0.8zM69.3 52.8h0.8v0.8h-0.8zM70.1 51.0h0.8v0.8h-0.8zM60.0 52.4h0.8v0.8h-0.8zM57.3 55.4h0.8v0.8h-0.8zM68.4 52.5h0.8v0.8h-0.8zM56.3 55.7h0.8v0.8h-0.8zM68.3 49.3h0.8v0.8h-0.8zM65.7 53.6h0.8v0.8h-0.8zM67.2 56.1h0.8v0.8h-0.8zM73.4 50.4h0.8v0.8h-0.8zM60.4 52.0h0.8v0.8h-0.8zM66.0 46.3h0.8v0.8h-0.8zM56.1 54.3h0.8v0.8h-0.8zM60.7 53.0h0.8v0.8h-0.8zM68.3 52.3h0.8v0.8h-0.8zM52.1 56.8h0.8v0.8h-0.8zM59.7 52.4h0.8v0.8h-0.8zM67.7 55.2h0.8v0.8h-0.8zM65.9 49.2h0.8v0.8h-0.8zM53.5 49.6h0.8v0.8h-0.8zM62.1 54.8h0.8v0.8h-0.8zM54.4 49.8h0.8v0.8h-0.8zM62.3 48.4h0.8v0.8h-0.8zM66.7 52.5h0.8v0.8h-0.8zM62.6 51.8h0.8v0.8h-0.8zM60.8 49.3h0.8v0.8h-0.8zM67.5 51.3h0.8v0.8h-0.8zM63.2 54.3h0.8v0.8h-0.8zM71.2 49.1h0.8v0.8h-0.8zM57.8 52.4h0.8v0.8h-0.8zM65.4 50.3h0.8v0.8h-0.8zM73.4 58.2h0.8v0.8h-0.8zM67.2 50.0h0.8v0.8h-0.8zM61.6 52.7h0.8v0.8h-0.8zM66.2 53.8h0.8v0.8h-0.8zM59.4 49.5h0.8v0.8h-0.8zM65.6 54.7h0.8v0.8h-0.8zM60.8 54.2h0.8v0.8h-0.8zM66.2 51.1h0.8v0.8h-0.8zM65.6 55.6h0.8v0.8h-0.8zM73.0 49.4h0.8v0.8h-0.8zM68.9 53.7h0.8v0.8h-0.8zM75.9 53.5h0.8v0.8h-0.8zM63.6 51.9h0.8v0.8h-0.8zM63.2 58.1h0.8v0.8h-0.8zM76.8 53.5h0.8v0.8h-0.8zM70.8 49.4h0.8v0.8h-0.8zM61.2 57.2h0.8v0.8h-0.8zM73.9 50.9h0.8v0.8h-0.8zM59.2 51.1h0.8v0.8h-0.8zM83.1 48.8h0.8v0.8h-0.8zM61.8 50.8h0.8v0.8h-0.8zM71.8 54.6h0.8v0.8h-0.8zM56.6 55.5h0.8v0.8h-0.8zM60.8 53.6h0.8v0.8h-0.8zM69.6 56.8h0.8v0.8h-0.8zM55.2 51.9h0.8v0.8h-0.8zM68.7 55.4h0.8v0.8h-0.8zM69.2 53.8h0.8v0.8h-0.8zM62.7 54.9h0.8v0.8h-0.8zM69.2 52.4h0.8v0.8h-0.8zM62.9 53.1h0.8v0.8h-0.8zM68.5 52.0h0.8v0.8h-0.8zM69.8 51.0h0.8v0.8h-0.8zM64.0 54.0h0.8v0.8h-0.8zM64.1 52.4h0.8v0.8h-0.8zM61.7 50.6h0.8v0.8h-0.8zM64.4 56.8h0.8v0.8h-0.8zM65.3 52.1h0.8v0.8h-0.8zM78.2 49.4h0.8v0.8h-0.8zM70.8 47.1h0.8v0.8h-0.8zM64.0 54.3h0.8v0.8h-0.8zM51.8 56.4h0.8v0.8h-0.8zM64.6 52.0h0.8v0.8h-0.8zM66.1 48.4h0.8v0.8h-0.8zM56.2 54.6h0.8v0.8h-0.8zM71.1 50.7h0.8v0.8h-0.8zM68.2 49.6h0.8v0.8h-0.8zM69.0 48.0h0.8v0.8h-0.8zM68.7 54.1h0.8v0.8h-0.8zM60.5 52.2h0.8v0.8h-0.8zM61.9 70.1h0.8v0.8h-0.8zM37.3 77.5h0.8v0.8h-0.8zM57.6 71.9h0.8v0.8h-0.8zM54.9 74.2h0.8v0.8h-0.8zM66.5 69.7h0.8v0.8h-0.8zM54.9 70.5h0.8v0.8h-0.8zM60.7 68.5h0.8v0.8h-0.8zM77.3 70.7h0.8v0.8h-0.8zM62.1 65.2h0.8v0.8h-0.8zM58.1 69.2h0.8v0.8h-0.8zM66.8 72.2h0.8v0.8h-0.8zM58.6 67.1h0.8v0.8h-0.8zM58.9 70.4h0.8v0.8h-0.8zM67.3 68.5h0.8v0.8h-0.8zM51.6 75.3h0.8v0.8h-0.8zM68.8 68.0h0.8v0.8h-0.8zM48.3 73.9h0.8v0.8h-0.8zM58.2 70.6h0.8v0.8h-0.8zM63.4 72.8h0.8v0.8h-0.8zM64.7 69.6h0.8v0.8h-0.8zM73.2 64.5h0.8v0.8h-0.8zM65.0 67.1h0.8v0.8h-0.8zM51.7 77.9h0.8v0.8h-0.8zM69.6 70.1h0.8v0.8h-0.8zM53.9 75.3h0.8v0.8h-0.8zM52.5 61.5h0.8v0.8h-0.8zM72.0 67.6h0.8v0.8h-0.8zM70.8 66.5h0.8v0.8h-0.8zM64.4 73.5h0.8v0.8h-0.8zM60.1 77.5h0.8v0.8h-0.8zM63.1 68.4h0.8v0.8h-0.8zM55.6 67.0h0.8v0.8h-0.8zM62.6 68.1h0.8v0.8h-0.8zM58.9 69.6h0.8v0.8h-0.8zM55.6 72.3h0.8v0.8h-0.8zM57.3 73.4h0.8v0.8h-0.8zM58.4 70.4h0.8v0.8h-0.8zM59.1 70.2h0.8v0.8h-0.8zM61.4 69.2h0.8v0.8h-0.8zM61.4 70.1h0.8v0.8h-0.8zM65.6 61.7h0.8v0.8h-0.8zM61.7 66.4h0.8v0.8h-0.8zM49.8 73.0h0.8v0.8h-0.8zM68.2 70.6h0.8v0.8h-0.8zM57.4 70.9h0.8v0.8h-0.8zM55.3 71.7h0.8v0.8h-0.8zM68.4 72.5h0.8v0.8h-0.8zM58.4 71.2h0.8v0.8h-0.8zM56.8 70.2h0.8v0.8h-0.8zM56.0 69.6h0.8v0.8h-0.8zM60.0 65.9h0.8v0.8h-0.8zM68.8 69.1h0.8v0.8h-0.8zM62.4 66.9h0.8v0.8h-0.8zM63.9 63.1h0.8v0.8h-0.8zM73.2 65.9h0.8v0.8h-0.8zM54.3 72.8h0.8v0.8h-0.8zM67.4 70.7h0.8v0.8h-0.8zM61.0 76.1h0.8v0.8h-0.8zM64.3 65.1h0.8v0.8h-0.8zM62.7 66.4h0.8v0.8h-0.8zM57.5 68.2h0.8v0.8h-0.8zM71.1 69.1h0.8v0.8h-0.8zM68.3 66.4h0.8v0.8h-0.8zM68.1 67.3h0.8v0.8h-0.8zM61.9 72.0h0.8v0.8h-0.8zM56.2 72.0h0.8v0.8h-0.8zM67.0 71.1h0.8v0.8h-0.8zM74.5 66.6h0.8v0.8h-0.8zM57.2 71.8h0.8v0.8h-0.8zM55.3 71.0h0.8v0.8h-0.8zM57.5 68.8h0.8v0.8h-0.8zM52.8 67.3h0.8v0.8h-0.8zM61.0 72.5h0.8v0.8h-0.8zM53.1 69.5h0.8v0.8h-0.8zM72.1 64.4h0.8v0.8h-0.8zM53.5 72.1h0.8v0.8h-0.8zM64.3 65.4h0.8v0.8h-0.8zM67.3 71.5h0.8v0.8h-0.8zM70.3 72.1h0.8v0.8h-0.8zM64.0 65.1h0.8v0.8h-0.8zM69.2 70.1h0.8v0.8h-0.8zM73.3 69.0h0.8v0.8h-0.8zM62.1 67.8h0.8v0.8h-0.8zM61.5 69.0h0.8v0.8h-0.8zM72.5 74.5h0.8v0.8h-0.8zM64.3 74.4h0.8v0.8h-0.8zM73.7 66.1h0.8v0.8h-0.8zM54.4 72.0h0.8v0.8h-0.8zM58.4 71.6h0.8v0.8h-0.8zM64.0 65.8h0.8v0.8h-0.8zM62.7 66.1h0.8v0.8h-0.8zM62.5 72.5h0.8v0.8h-0.8zM70.8 72.4h0.8v0.8h-0.8zM54.6 71.0h0.8v0.8h-0.8zM69.1 68.5h0.8v0.8h-0.8zM58.7 72.3h0.8v0.8h-0.8zM61.0 72.6h0.8v0.8h-0.8zM54.2 70.8h0.8v0.8h-0.8zM48.0 73.2h0.8v0.8h-0.8zM55.9 74.5h0.8v0.8h-0.8zM43.8 72.0h0.8v0.8h-0.8zM47.7 67.6h0.8v0.8h-0.8zM58.8 72.1h0.8v0.8h-0.8zM65.6 75.4h0.8v0.8h-0.8zM66.7 71.2h0.8v0.8h-0.8zM63.6 68.8h0.8v0.8h-0.8zM59.8 67.1h0.8v0.8h-0.8zM65.1 77.5h0.8v0.8h-0.8zM65.3 67.8h0.8v0.8h-0.8zM68.4 72.2h0.8v0.8h-0.8zM78.2 71.3h0.8v0.8h-0.8zM58.9 73.0h0.8v0.8h-0.8zM70.2 70.2h0.8v0.8h-0.8zM58.4 69.9h0.8v0.8h-0.8zM59.2 66.6h0.8v0.8h-0.8zM69.2 62.2h0.8v0.8h-0.8zM67.6 66.6h0.8v0.8h-0.8zM55.9 74.8h0.8v0.8h-0.8zM55.1 73.0h0.8v0.8h-0.8zM62.1 71.9h0.8v0.8h-0.8zM70.5 71.7h0.8v0.8h-0.8zM80.1 62.5h0.8v0.8h-0.8zM61.5 72.3h0.8v0.8h-0.8zM65.0 70.4h0.8v0.8h-0.8zM65.0 66.8h0.8v0.8h-0.8zM58.6 72.1h0.8v0.8h-0.8zM60.5 68.1h0.8v0.8h-0.8zM63.6 69.6h0.8v0.8h-0.8zM68.9 67.5h0.8v0.8h-0.8zM53.7 72.5h0.8v0.8h-0.8zM63.3 77.2h0.8v0.8h-0.8zM52.7 70.8h0.8v0.8h-0.8zM69.6 65.4h0.8v0.8h-0.8zM64.0 68.3h0.8v0.8h-0.8zM60.4 72.4h0.8v0.8h-0.8zM56.2 70.6h0.8v0.8h-0.8zM66.1 68.1h0.8v0.8h-0.8zM56.1 73.0h0.8v0.8h-0.8zM57.1 75.5h0.8v0.8h-0.8zM48.6 72.1h0.8v0.8h-0.8zM53.5 76.3h0.8v0.8h-0.8zM65.8 66.5h0.8v0.8h-0.8zM77.9 64.8h0.8v0.8h-0.8zM63.5 74.0h0.8v0.8h-0.8zM65.7 67.7h0.8v0.8h-0.8zM66.3 67.3h0.8v0.8h-0.8zM65.1 66.6h0.8v0.8h-0.8zM76.4 65.6h0.8v0.8h-0.8zM61.1 70.5h0.8v0.8h-0.8zM54.9 68.1h0.8v0.8h-0.8zM57.3 77.8h0.8v0.8h-0.8zM54.0 73.1h0.8v0.8h-0.8zM63.9 75.1h0.8v0.8h-0.8zM57.9 70.2h0.8v0.8h-0.8zM67.6 68.2h0.8v0.8h-0.8zM69.8 73.0h0.8v0.8h-0.8zM50.1 74.6h0.8v0.8h-0.8zM53.5 73.1h0.8v0.8h-0.8zM59.1 63.7h0.8v0.8h-0.8zM63.9 71.1h0.8v0.8h-0.8zM57.7 70.8h0.8v0.8h-0.8zM63.9 66.8h0.8v0.8h-0.8zM60.0 71.4h0.8v0.8h-0.8zM61.0 73.3h0.8v0.8h-0.8zM61.5 72.4h0.8v0.8h-0.8zM59.6 75.6h0.8v0.8h-0.8zM68.4 71.9h0.8v0.8h-0.8zM61.1 69.6h0.8v0.8h-0.8zM67.3 64.2h0.8v0.8h-0.8zM62.1 71.1h0.8v0.8h-0.8zM75.7 71.1h0.8v0.8h-0.8zM71.9 69.8h0.8v0.8h-0.8zM52.6 68.8h0.8v0.8h-0.8zM54.2 72.2h0.8v0.8h-0.8zM49.7 73.0h0.8v0.8h-0.8zM66.8 70.9h0.8v0.8h-0.8zM54.2 71.2h0.8v0.8h-0.8zM56.3 68.6h0.8v0.8h-0.8zM67.1 68.8h0.8v0.8h-0.8zM63.2 69.5h0.8v0.8h-0.8zM63.4 68.4h0.8v0.8h-0.8zM60.1 73.7h0.8v0.8h-0.8zM65.4 68.6h0.8v0.8h-0.8zM48.8 71.5h0.8v0.8h-0.8zM50.0 72.1h0.8v0.8h-0.8zM75.5 68.1h0.8v0.8h-0.8zM62.0 73.0h0.8v0.8h-0.8zM50.1 70.0h0.8v0.8h-0.8zM76.4 67.2h0.8v0.8h-0.8zM64.0 65.2h0.8v0.8h-0.8zM58.4 63.9h0.8v0.8h-0.8zM63.4 67.9h0.8v0.8h-0.8zM63.2 73.2h0.8v0.8h-0.8zM68.4 68.5h0.8v0.8h-0.8zM64.4 67.1h0.8v0.8h-0.8zM58.0 64.0h0.8v0.8h-0.8zM71.7 68.3h0.8v0.8h-0.8zM58.2 69.4h0.8v0.8h-0.8zM65.1 67.7h0.8v0.8h-0.8zM72.5 73.3h0.8v0.8h-0.8zM53.7 70.6h0.8v0.8h-0.8zM68.1 76.2h0.8v0.8h-0.8zM56.2 64.7h0.8v0.8h-0.8zM55.4 73.4h0.8v0.8h-0.8zM58.7 70.4h0.8v0.8h-0.8zM72.0 69.2h0.8v0.8h-0.8zM52.9 76.3h0.8v0.8h-0.8zM62.9 64.9h0.8v0.8h-0.8zM57.0 69.6h0.8v0.8h-0.8zM52.3 68.9h0.8v0.8h-0.8zM61.6 73.8h0.8v0.8h-0.8zM72.2 70.7h0.8v0.8h-0.8zM57.2 71.6h0.8v0.8h-0.8zM58.7 64.7h0.8v0.8h-0.8zM62.2 70.4h0.8v0.8h-0.8zM46.0 68.1h0.8v0.8h-0.8zM73.5 71.5h0.8v0.8h-0.8zM52.8 68.1h0.8v0.8h-0.8zM69.5 69.2h0.8v0.8h-0.8zM79.5 69.7h0.8v0.8h-0.8zM73.8 67.9h0.8v0.8h-0.8zM51.3 68.3h0.8v0.8h-0.8zM76.7 75.0h0.8v0.8h-0.8zM56.0 73.2h0.8v0.8h-0.8zM65.1 69.7h0.8v0.8h-0.8zM66.4 68.4h0.8v0.8h-0.8zM49.9 71.6h0.8v0.8h-0.8zM61.0 66.6h0.8v0.8h-0.8zM56.9 64.8h0.8v0.8h-0.8zM64.1 72.9h0.8v0.8h-0.8zM51.8 69.1h0.8v0.8h-0.8zM60.3 69.9h0.8v0.8h-0.8zM62.3 73.1h0.8v0.8h-0.8zM68.9 65.6h0.8v0.8h-0.8zM60.7 74.5h0.8v0.8h-0.8zM56.4 79.1h0.8v0.8h-0.8zM56.7 64.3h0.8v0.8h-0.8zM58.9 71.6h0.8v0.8h-0.8zM63.1 67.8h0.8v0.8h-0.8zM69.7 64.4h0.8v0.8h-0.8zM68.4 65.8h0.8v0.8h-0.8zM60.9 69.5h0.8v0.8h-0.8zM61.3 71.8h0.8v0.8h-0.8zM70.5 70.4h0.8v0.8h-0.8zM70.1 70.4h0.8v0.8h-0.8zM64.7 71.4h0.8v0.8h-0.8zM68.9 59.7h0.8v0.8h-0.8zM55.0 67.6h0.8v0.8h-0.8zM65.4 72.7h0.8v0.8h-0.8zM64.2 68.9h0.8v0.8h-0.8zM58.0 72.3h0.8v0.8h-0.8zM62.7 71.8h0.8v0.8h-0.8zM61.3 67.1h0.8v0.8h-0.8zM68.6 68.8h0.8v0.8h-0.8zM60.1 67.2h0.8v0.8h-0.8zM62.3 68.8h0.8v0.8h-0.8zM67.6 69.0h0.8v0.8h-0.8zM61.6 67.1h0.8v0.8h-0.8zM71.3 69.2h0.8v0.8h-0.8zM71.2 72.9h0.8v0.8h-0.8zM62.5 71.0h0.8v0.8h-0.8zM52.3 70.3h0.8v0.8h-0.8zM54.5 66.9h0.8v0.8h-0.8zM77.5 70.1h0.8v0.8h-0.8zM66.4 64.2h0.8v0.8h-0.8zM68.2 69.2h0.8v0.8h-0.8zM66.3 76.0h0.8v0.8h-0.8zM61.1 73.5h0.8v0.8h-0.8zM65.1 74.8h0.8v0.8h-0.8zM68.1 71.7h0.8v0.8h-0.8zM62.2 66.8h0.8v0.8h-0.8zM63.3 73.8h0.8v0.8h-0.8zM66.5 74.4h0.8v0.8h-0.8zM64.1 67.4h0.8v0.8h-0.8zM68.9 70.0h0.8v0.8h-0.8zM76.5 68.4h0.8v0.8h-0.8zM71.6 67.4h0.8v0.8h-0.8zM52.1 70.7h0.8v0.8h-0.8zM56.0 74.0h0.8v0.8h-0.8zM51.1 67.3h0.8v0.8h-0.8zM60.8 72.0h0.8v0.8h-0.8zM59.8 70.7h0.8v0.8h-0.8zM58.6 74.2h0.8v0.8h-0.8zM68.1 65.6h0.8v0.8h-0.8zM75.1 67.7h0.8v0.8h-0.8zM77.4 67.2h0.8v0.8h-0.8zM59.8 72.2h0.8v0.8h-0.8zM58.0 65.4h0.8v0.8h-0.8zM50.4 75.0h0.8v0.8h-0.8zM53.5 66.3h0.8v0.8h-0.8zM76.3 68.1h0.8v0.8h-0.8zM66.0 67.8h0.8v0.8h-0.8zM65.1 67.4h0.8v0.8h-0.8zM70.3 63.7h0.8v0.8h-0.8zM63.6 68.5h0.8v0.8h-0.8zM65.2 73.5h0.8v0.8h-0.8zM62.5 73.2h0.8v0.8h-0.8zM78.0 65.9h0.8v0.8h-0.8zM64.4 71.4h0.8v0.8h-0.8zM63.8 65.5h0.8v0.8h-0.8z" fill="#000" fill-opacity="0.7"/>
<ellipse cx="67.5" cy="51.3" rx="13.5" ry="5.2" transform="rotate(-9 67.5 51.3)" fill="none" stroke="#333" stroke-width="0.6"/>
<ellipse cx="63" cy="70.3" rx="12.5" ry="6.3" transform="rotate(-14 63 70.3)" fill="none" stroke="#333" stroke-width="0.6"/>
<text x="71.3" y="41.4" font-size="7.4" font-family='"Liberation Serif", serif' font-weight="bold" text-anchor="start" fill="#000" textLength="7.2" lengthAdjust="spacingAndGlyphs" >R2</text>
<text x="64.9" y="86.2" font-size="7.4" font-family='"Liberation Serif", serif' font-weight="bold" text-anchor="start" fill="#000" textLength="7.2" lengthAdjust="spacingAndGlyphs" >R1</text>
<rect x="139.80" y="38.60" width="7.30" height="7.40" fill="#000" stroke="none" stroke-width="1" />
<text x="150.8" y="45.2" font-size="7.7" font-family='"Liberation Serif", serif' font-weight="normal" text-anchor="start" fill="#000" textLength="35" lengthAdjust="spacingAndGlyphs" >human IgG</text>
<text x="194.5" y="45.2" font-size="7.7" font-family='"Liberation Serif", serif' font-weight="normal" text-anchor="start" fill="#000" textLength="33.3" lengthAdjust="spacingAndGlyphs" >300μg/mL</text>
<text x="131.8" y="52.1" font-size="7.7" font-family='"Liberation Serif", serif' font-weight="normal" text-anchor="start" fill="#333" >1</text>
<line x1="139.8" y1="50.7" x2="147.8" y2="50.7" stroke="#000" stroke-width="1.5" />
<text x="150.8" y="52.6" font-size="7.7" font-family='"Liberation Serif", serif' font-weight="normal" text-anchor="start" fill="#000" textLength="68.7" lengthAdjust="spacingAndGlyphs" >Alemtuzumab 1μg/mL</text>
<text x="131.8" y="60.7" font-size="7.7" font-family='"Liberation Serif", serif' font-weight="normal" text-anchor="start" fill="#333" >2</text>
<line x1="139.8" y1="59.300000000000004" x2="147.8" y2="59.300000000000004" stroke="#888" stroke-width="0.7" />
<text x="150.8" y="61.2" font-size="7.7" font-family='"Liberation Serif", serif' font-weight="normal" text-anchor="start" fill="#000" textLength="71.2" lengthAdjust="spacingAndGlyphs" >Alemtuzumab 10μg/mL</text>
<text x="131.8" y="69.6" font-size="7.7" font-family='"Liberation Serif", serif' font-weight="normal" text-anchor="start" fill="#333" >3</text>
<line x1="139.8" y1="68.19999999999999" x2="147.8" y2="68.19999999999999" stroke="#000" stroke-width="1.5" />
<text x="150.8" y="70.1" font-size="7.7" font-family='"Liberation Serif", serif' font-weight="normal" text-anchor="start" fill="#000" textLength="76.5" lengthAdjust="spacingAndGlyphs" >Alemtuzumab 100μg/mL</text>
<text x="131.8" y="78.2" font-size="7.7" font-family='"Liberation Serif", serif' font-weight="normal" text-anchor="start" fill="#333" >4</text>
<line x1="139.8" y1="76.8" x2="147.8" y2="76.8" stroke="#888" stroke-width="0.7" />
<text x="150.8" y="78.7" font-size="7.7" font-family='"Liberation Serif", serif' font-weight="normal" text-anchor="start" fill="#000" textLength="76.9" lengthAdjust="spacingAndGlyphs" >Alemtuzumab 300μg/mL</text>
<line x1="19.6" y1="123.2" x2="19.6" y2="275.6" stroke="#000" stroke-width="1.2" />
<path d="M17.6,126.0 L19.6,118.2 L21.6,126.0 Z" fill="#000"/>
<line x1="19.0" y1="275.0" x2="256.5" y2="275.0" stroke="#000" stroke-width="1.2" />
<path d="M253.7,273.0 L261.5,275.0 L253.7,277.0 Z" fill="#000"/>
<rect x="30.30" y="126.00" width="227.10" height="61.20" fill="none" stroke="#707070" stroke-width="0.9" />
<line x1="29.0" y1="126.0" x2="30.3" y2="126.0" stroke="#6a6a6a" stroke-width="0.45" />
<line x1="29.0" y1="128.04" x2="30.3" y2="128.04" stroke="#6a6a6a" stroke-width="0.45" />
<line x1="29.0" y1="130.08" x2="30.3" y2="130.08" stroke="#6a6a6a" stroke-width="0.45" />
<line x1="29.0" y1="132.12" x2="30.3" y2="132.12" stroke="#6a6a6a" stroke-width="0.45" />
<line x1="29.0" y1="134.16" x2="30.3" y2="134.16" stroke="#6a6a6a" stroke-width="0.45" />
<line x1="29.0" y1="136.2" x2="30.3" y2="136.2" stroke="#6a6a6a" stroke-width="0.45" />
<line x1="29.0" y1="138.24" x2="30.3" y2="138.24" stroke="#6a6a6a" stroke-width="0.45" />
<line x1="29.0" y1="140.28" x2="30.3" y2="140.28" stroke="#6a6a6a" stroke-width="0.45" />
<line x1="29.0" y1="142.32" x2="30.3" y2="142.32" stroke="#6a6a6a" stroke-width="0.45" />
<line x1="29.0" y1="144.36" x2="30.3" y2="144.36" stroke="#6a6a6a" stroke-width="0.45" />
<line x1="29.0" y1="146.4" x2="30.3" y2="146.4" stroke="#6a6a6a" stroke-width="0.45" />
<line x1="29.0" y1="148.44" x2="30.3" y2="148.44" stroke="#6a6a6a" stroke-width="0.45" />
<line x1="29.0" y1="150.48" x2="30.3" y2="150.48" stroke="#6a6a6a" stroke-width="0.45" />
<line x1="29.0" y1="152.51999999999998" x2="30.3" y2="152.51999999999998" stroke="#6a6a6a" stroke-width="0.45" />
<line x1="29.0" y1="154.56" x2="30.3" y2="154.56" stroke="#6a6a6a" stroke-width="0.45" />
<line x1="29.0" y1="156.6" x2="30.3" y2="156.6" stroke="#6a6a6a" stroke-width="0.45" />
<line x1="29.0" y1="158.64" x2="30.3" y2="158.64" stroke="#6a6a6a" stroke-width="0.45" />
<line x1="29.0" y1="160.68" x2="30.3" y2="160.68" stroke="#6a6a6a" stroke-width="0.45" />
<line x1="29.0" y1="162.72" x2="30.3" y2="162.72" stroke="#6a6a6a" stroke-width="0.45" />
<line x1="29.0" y1="164.76" x2="30.3" y2="164.76" stroke="#6a6a6a" stroke-width="0.45" />
<line x1="29.0" y1="166.79999999999998" x2="30.3" y2="166.79999999999998" stroke="#6a6a6a" stroke-width="0.45" />
<line x1="29.0" y1="168.84" x2="30.3" y2="168.84" stroke="#6a6a6a" stroke-width="0.45" />
<line x1="29.0" y1="170.88" x2="30.3" y2="170.88" stroke="#6a6a6a" stroke-width="0.45" />
<line x1="29.0" y1="172.92" x2="30.3" y2="172.92" stroke="#6a6a6a" stroke-width="0.45" />
<line x1="29.0" y1="174.95999999999998" x2="30.3" y2="174.95999999999998" stroke="#6a6a6a" stroke-width="0.45" />
<line x1="29.0" y1="177.0" x2="30.3" y2="177.0" stroke="#6a6a6a" stroke-width="0.45" />
<line x1="29.0" y1="179.04" x2="30.3" y2="179.04" stroke="#6a6a6a" stroke-width="0.45" />
<line x1="29.0" y1="181.07999999999998" x2="30.3" y2="181.07999999999998" stroke="#6a6a6a" stroke-width="0.45" />
<line x1="29.0" y1="183.12" x2="30.3" y2="183.12" stroke="#6a6a6a" stroke-width="0.45" />
<line x1="29.0" y1="185.16" x2="30.3" y2="185.16" stroke="#6a6a6a" stroke-width="0.45" />
<line x1="29.0" y1="187.2" x2="30.3" y2="187.2" stroke="#6a6a6a" stroke-width="0.45" />
<line x1="31.2" y1="187.2" x2="31.2" y2="189.6" stroke="#6a6a6a" stroke-width="0.5" />
<line x1="47.99747375805015" y1="187.2" x2="47.99747375805015" y2="188.7" stroke="#6a6a6a" stroke-width="0.5" />
<line x1="57.82336601335716" y1="187.2" x2="57.82336601335716" y2="188.7" stroke="#6a6a6a" stroke-width="0.5" />
<line x1="64.7949475161003" y1="187.2" x2="64.7949475161003" y2="188.7" stroke="#6a6a6a" stroke-width="0.5" />
<line x1="70.20252624194985" y1="187.2" x2="70.20252624194985" y2="188.7" stroke="#6a6a6a" stroke-width="0.5" />
<line x1="74.62083977140732" y1="187.2" x2="74.62083977140732" y2="188.7" stroke="#6a6a6a" stroke-width="0.5" />
<line x1="78.35647063279552" y1="187.2" x2="78.35647063279552" y2="188.7" stroke="#6a6a6a" stroke-width="0.5" />
<line x1="81.59242127415044" y1="187.2" x2="81.59242127415044" y2="188.7" stroke="#6a6a6a" stroke-width="0.5" />
<line x1="84.44673202671433" y1="187.2" x2="84.44673202671433" y2="188.7" stroke="#6a6a6a" stroke-width="0.5" />
<line x1="87.0" y1="187.2" x2="87.0" y2="189.6" stroke="#6a6a6a" stroke-width="0.5" />
<line x1="103.79747375805016" y1="187.2" x2="103.79747375805016" y2="188.7" stroke="#6a6a6a" stroke-width="0.5" />
<line x1="113.62336601335716" y1="187.2" x2="113.62336601335716" y2="188.7" stroke="#6a6a6a" stroke-width="0.5" />
<line x1="120.5949475161003" y1="187.2" x2="120.5949475161003" y2="188.7" stroke="#6a6a6a" stroke-width="0.5" />
<line x1="126.00252624194984" y1="187.2" x2="126.00252624194984" y2="188.7" stroke="#6a6a6a" stroke-width="0.5" />
<line x1="130.42083977140732" y1="187.2" x2="130.42083977140732" y2="188.7" stroke="#6a6a6a" stroke-width="0.5" />
<line x1="134.15647063279553" y1="187.2" x2="134.15647063279553" y2="188.7" stroke="#6a6a6a" stroke-width="0.5" />
<line x1="137.39242127415045" y1="187.2" x2="137.39242127415045" y2="188.7" stroke="#6a6a6a" stroke-width="0.5" />
<line x1="140.2467320267143" y1="187.2" x2="140.2467320267143" y2="188.7" stroke="#6a6a6a" stroke-width="0.5" />
<line x1="142.79999999999998" y1="187.2" x2="142.79999999999998" y2="189.6" stroke="#6a6a6a" stroke-width="0.5" />
<line x1="159.59747375805014" y1="187.2" x2="159.59747375805014" y2="188.7" stroke="#6a6a6a" stroke-width="0.5" />
<line x1="169.42336601335717" y1="187.2" x2="169.42336601335717" y2="188.7" stroke="#6a6a6a" stroke-width="0.5" />
<line x1="176.3949475161003" y1="187.2" x2="176.3949475161003" y2="188.7" stroke="#6a6a6a" stroke-width="0.5" />
<line x1="181.80252624194983" y1="187.2" x2="181.80252624194983" y2="188.7" stroke="#6a6a6a" stroke-width="0.5" />
<line x1="186.2208397714073" y1="187.2" x2="186.2208397714073" y2="188.7" stroke="#6a6a6a" stroke-width="0.5" />
<line x1="189.95647063279552" y1="187.2" x2="189.95647063279552" y2="188.7" stroke="#6a6a6a" stroke-width="0.5" />
<line x1="193.19242127415043" y1="187.2" x2="193.19242127415043" y2="188.7" stroke="#6a6a6a" stroke-width="0.5" />
<line x1="196.0467320267143" y1="187.2" x2="196.0467320267143" y2="188.7" stroke="#6a6a6a" stroke-width="0.5" />
<line x1="198.59999999999997" y1="187.2" x2="198.59999999999997" y2="189.6" stroke="#6a6a6a" stroke-width="0.5" />
<line x1="215.39747375805013" y1="187.2" x2="215.39747375805013" y2="188.7" stroke="#6a6a6a" stroke-width="0.5" />
<line x1="225.22336601335715" y1="187.2" x2="225.22336601335715" y2="188.7" stroke="#6a6a6a" stroke-width="0.5" />
<line x1="232.19494751610029" y1="187.2" x2="232.19494751610029" y2="188.7" stroke="#6a6a6a" stroke-width="0.5" />
<line x1="237.60252624194982" y1="187.2" x2="237.60252624194982" y2="188.7" stroke="#6a6a6a" stroke-width="0.5" />
<line x1="242.0208397714073" y1="187.2" x2="242.0208397714073" y2="188.7" stroke="#6a6a6a" stroke-width="0.5" />
<line x1="245.75647063279553" y1="187.2" x2="245.75647063279553" y2="188.7" stroke="#6a6a6a" stroke-width="0.5" />
<line x1="248.99242127415044" y1="187.2" x2="248.99242127415044" y2="188.7" stroke="#6a6a6a" stroke-width="0.5" />
<line x1="251.8467320267143" y1="187.2" x2="251.8467320267143" y2="188.7" stroke="#6a6a6a" stroke-width="0.5" />
<text x="31.2" y="193.39999999999998" font-size="4.3" font-family='"Liberation Sans", sans-serif' font-weight="normal" text-anchor="middle" fill="#484848" >10<tspan font-size="2.9" dy="-1.4">0</tspan></text>
<text x="87.0" y="193.39999999999998" font-size="4.3" font-family='"Liberation Sans", sans-serif' font-weight="normal" text-anchor="middle" fill="#484848" >10<tspan font-size="2.9" dy="-1.4">1</tspan></text>
<text x="142.79999999999998" y="193.39999999999998" font-size="4.3" font-family='"Liberation Sans", sans-serif' font-weight="normal" text-anchor="middle" fill="#484848" >10<tspan font-size="2.9" dy="-1.4">2</tspan></text>
<text x="198.59999999999997" y="193.39999999999998" font-size="4.3" font-family='"Liberation Sans", sans-serif' font-weight="normal" text-anchor="middle" fill="#484848" >10<tspan font-size="2.9" dy="-1.4">3</tspan></text>
<text x="254.39999999999998" y="193.39999999999998" font-size="4.3" font-family='"Liberation Sans", sans-serif' font-weight="normal" text-anchor="middle" fill="#484848" >10<tspan font-size="2.9" dy="-1.4">4</tspan></text>
<text x="26.4" y="124.5" font-size="4.2" font-family='"Liberation Sans", sans-serif' font-weight="normal" text-anchor="middle" fill="#484848" transform="rotate(-90 26.4 124.5)" >100</text>
<text x="26.4" y="136.8" font-size="4.2" font-family='"Liberation Sans", sans-serif' font-weight="normal" text-anchor="middle" fill="#484848" transform="rotate(-90 26.4 136.8)" >80</text>
<text x="26.4" y="149.1" font-size="4.2" font-family='"Liberation Sans", sans-serif' font-weight="normal" text-anchor="middle" fill="#484848" transform="rotate(-90 26.4 149.1)" >60</text>
<text x="26.4" y="161.4" font-size="4.2" font-family='"Liberation Sans", sans-serif' font-weight="normal" text-anchor="middle" fill="#484848" transform="rotate(-90 26.4 161.4)" >40</text>
<text x="26.4" y="173.7" font-size="4.2" font-family='"Liberation Sans", sans-serif' font-weight="normal" text-anchor="middle" fill="#484848" transform="rotate(-90 26.4 173.7)" >20</text>
<text x="26.4" y="186.0" font-size="4.2" font-family='"Liberation Sans", sans-serif' font-weight="normal" text-anchor="middle" fill="#484848" transform="rotate(-90 26.4 186.0)" >0</text>
<text x="35.3" y="135.6" font-size="9.6" font-family='"Liberation Serif", serif' font-weight="bold" text-anchor="start" fill="#000" >ii</text>
<text x="190.2" y="139.3" font-size="8.4" font-family='"Liberation Serif", serif' font-weight="bold" text-anchor="start" fill="#000" textLength="62.4" lengthAdjust="spacingAndGlyphs" >R1: Lymphocytes</text>
<path d="M31.8,186.8 L32.0,175.9 L32.8,172.3 L33.5,171.6 L34.2,176.3 L35.0,177.3 L35.7,172.8 L36.3,173.6 L37.0,173.8 L37.7,174.7 L38.3,175.0 L39.0,175.4 L39.6,174.4 L40.2,170.7 L40.9,170.7 L41.5,170.0 L42.2,171.1 L43.0,171.3 L43.6,171.5 L44.2,170.3 L44.9,170.1 L45.5,169.2 L46.2,170.2 L46.8,168.3 L47.5,170.2 L48.1,171.1 L48.8,169.2 L49.4,170.7 L50.0,173.5 L50.7,174.7 L51.3,173.2 L52.0,174.0 L52.6,171.7 L53.2,173.1 L53.9,174.3 L54.5,171.1 L55.1,173.6 L55.8,175.3 L56.4,174.7 L57.0,175.6 L57.6,177.0 L58.2,174.9 L58.8,175.8 L59.4,175.5 L60.0,175.0 L60.6,176.0 L61.1,178.8 L61.7,178.7 L62.2,177.4 L62.8,176.3 L63.3,178.3 L63.9,177.5 L64.4,179.2 L65.0,180.5 L65.6,178.5 L66.1,178.6 L66.7,181.0 L67.2,181.4 L67.8,180.9 L68.3,179.5 L68.9,182.3 L69.4,178.8 L70.0,183.0 L70.6,182.0 L71.1,179.6 L71.7,180.3 L72.2,182.9 L72.8,183.5 L73.3,180.9 L73.9,182.8 L74.4,183.8 L75.0,183.4 L75.6,184.2 L76.1,184.2 L76.7,182.6 L77.2,182.6 L77.8,184.6 L78.3,183.4 L78.9,184.8 L79.4,185.1 L80.0,184.2 L80.6,185.2 L81.2,184.9 L81.8,185.6 L82.3,185.8 L82.9,186.4 L83.5,186.8 L83.5,186.8 L31.8,186.8 Z" fill="#000"/>
<path d="M100.0,186.8 L101.4,186.7 L102.9,186.6 L104.3,186.6 L105.7,186.5 L107.1,186.3 L108.6,186.2 L110.0,186.2 L111.4,186.1 L112.9,186.0 L114.3,185.6 L115.7,185.7 L117.1,185.7 L118.6,185.8 L120.0,185.3 L121.4,184.5 L122.8,184.4 L124.2,183.3 L125.7,182.3 L127.1,181.7 L128.5,181.9 L129.9,181.2 L131.3,180.1 L132.8,180.9 L134.2,178.2 L135.6,178.4 L137.0,178.5 L138.5,177.0 L140.0,178.7 L141.5,176.0 L143.0,175.8 L144.5,176.7 L146.0,174.7 L147.6,173.5 L149.1,174.0 L150.7,175.4 L152.3,174.6 L153.8,172.7 L155.4,171.6 L156.9,172.9 L158.5,169.4 L160.0,167.7 L161.5,167.7 L163.0,167.8 L164.6,166.1 L166.1,166.9 L167.7,166.8 L169.2,165.5 L170.8,165.7 L172.3,164.2 L173.9,162.2 L175.4,163.6 L176.9,163.2 L178.5,166.0 L180.0,167.3 L181.5,167.0 L183.0,168.9 L184.5,167.9 L186.0,170.7 L187.6,171.7 L189.2,173.2 L190.8,171.1 L192.3,173.0 L193.9,176.3 L195.4,177.4 L196.9,177.8 L198.4,180.5 L200.0,178.6 L201.5,182.1 L203.1,181.0 L204.6,182.5 L206.1,184.2 L207.7,184.6 L209.3,186.0 L211.0,186.8 L212.4,186.8 L213.8,186.8 L215.2,186.8 L216.6,186.8 L218.0,186.8 L219.4,186.8 L220.8,186.8 L222.2,186.8 L223.7,186.8 L225.1,186.8 L226.5,186.8 L227.9,186.8 L229.3,186.8 L230.7,186.8 L232.1,186.8 L233.5,186.8 L234.9,186.8 L236.3,186.8 L237.7,186.8 L239.1,186.8 L240.5,186.8 L241.9,186.8 L243.3,186.8 L244.8,186.8 L246.2,186.8 L247.6,186.8 L249.0,186.8 L250.4,186.8 L251.8,186.8 L253.2,186.8 L254.6,186.8 L256.0,186.8" fill="none" stroke="#8c8c8c" stroke-width="0.85" stroke-linejoin="round"/>
<path d="M85.0,186.8 L85.6,186.7 L86.1,186.7 L86.7,186.7 L87.2,186.6 L87.8,186.6 L88.3,186.5 L88.9,186.5 L89.4,186.4 L90.0,186.4 L90.6,186.3 L91.1,186.1 L91.7,186.1 L92.2,186.1 L92.8,186.0 L93.3,186.0 L93.9,185.9 L94.4,185.8 L95.0,185.8 L95.6,185.8 L96.1,185.9 L96.7,185.8 L97.2,185.5 L97.8,185.6 L98.3,185.7 L98.9,185.3 L99.4,185.5 L100.0,185.5 L100.6,184.8 L101.1,184.2 L101.7,183.9 L102.3,183.5 L102.9,183.5 L103.4,182.3 L104.0,181.9 L104.6,182.3 L105.1,180.7 L105.7,181.3 L106.3,180.4 L106.9,179.9 L107.4,179.6 L108.0,179.1 L108.6,179.0 L109.1,178.2 L109.7,176.5 L110.3,175.7 L110.9,174.9 L111.4,172.4 L112.0,172.1 L112.6,170.2 L113.1,170.6 L113.7,169.9 L114.3,167.3 L114.8,166.9 L115.4,166.3 L116.0,165.1 L116.6,163.1 L117.1,162.7 L117.7,161.6 L118.3,160.4 L118.9,159.2 L119.4,155.9 L120.0,155.1 L120.6,153.2 L121.2,151.4 L121.8,149.2 L122.3,148.0 L122.9,145.7 L123.5,145.0 L124.1,142.5 L124.7,141.9 L125.2,138.9 L125.8,137.1 L126.4,135.3 L127.0,134.7 L127.6,134.9 L128.1,134.9 L128.7,134.2 L129.2,134.5 L129.8,133.9 L130.3,134.3 L130.9,133.4 L131.4,134.9 L132.0,134.1 L132.6,135.8 L133.1,136.6 L133.7,139.0 L134.2,140.0 L134.8,143.2 L135.3,142.9 L135.9,145.1 L136.4,146.2 L137.0,148.0 L137.6,150.5 L138.1,151.6 L138.7,154.7 L139.3,156.5 L139.8,158.8 L140.4,159.9 L141.0,162.4 L141.6,163.7 L142.1,166.3 L142.7,168.9 L143.3,168.6 L143.9,170.9 L144.4,172.5 L145.0,172.8 L145.6,173.7 L146.2,176.0 L146.8,177.3 L147.3,178.8 L147.9,180.5 L148.5,181.0 L149.1,182.3 L149.6,182.5 L150.2,182.3 L150.7,182.8 L151.2,183.5 L151.8,184.4 L152.3,184.8 L152.9,185.0 L153.4,185.5 L154.0,185.9 L154.6,186.1 L155.2,186.0 L155.8,186.2 L156.4,186.3 L157.0,186.4 L157.6,186.5 L158.2,186.5 L158.8,186.6 L159.4,186.7 L160.0,186.8" fill="none" stroke="#8c8c8c" stroke-width="0.85" stroke-linejoin="round"/>
<path d="M90.0,186.8 L90.6,186.7 L91.1,186.6 L91.7,186.6 L92.2,186.5 L92.8,186.4 L93.4,186.3 L93.9,186.2 L94.5,186.2 L95.0,186.2 L95.6,186.2 L96.2,186.0 L96.7,185.8 L97.3,185.8 L97.8,185.9 L98.4,185.5 L99.0,185.6 L99.5,185.4 L100.1,185.5 L100.6,185.2 L101.2,185.0 L101.8,185.0 L102.3,185.1 L102.9,185.0 L103.4,185.2 L104.0,184.7 L104.6,184.6 L105.1,184.4 L105.7,183.0 L106.2,183.1 L106.8,182.3 L107.4,182.0 L107.9,181.4 L108.5,181.8 L109.1,180.4 L109.6,181.4 L110.2,179.4 L110.7,179.1 L111.3,179.4 L111.9,177.9 L112.4,177.5 L113.0,177.4 L113.6,177.6 L114.1,177.5 L114.7,176.6 L115.2,175.5 L115.8,175.6 L116.3,175.9 L116.9,174.2 L117.5,173.1 L118.0,172.4 L118.5,172.7 L119.1,173.1 L119.7,172.6 L120.2,171.5 L120.8,170.1 L121.3,169.8 L121.8,169.0 L122.4,168.9 L123.0,169.0 L123.5,167.0 L124.1,167.3 L124.7,166.1 L125.2,166.3 L125.8,166.0 L126.4,165.4 L127.0,163.9 L127.5,164.4 L128.1,162.0 L128.7,162.0 L129.3,161.0 L129.8,161.5 L130.4,160.5 L131.0,160.1 L131.6,158.3 L132.2,157.6 L132.8,158.1 L133.4,157.2 L134.0,157.0 L134.6,155.3 L135.2,154.8 L135.8,153.8 L136.4,153.9 L137.0,152.0 L137.6,151.7 L138.2,151.6 L138.8,150.0 L139.3,149.4 L139.9,148.0 L140.5,149.0 L141.1,147.4 L141.7,146.6 L142.3,146.7 L142.8,147.8 L143.4,148.3 L144.0,148.6 L144.5,149.6 L145.1,150.3 L145.7,151.5 L146.2,151.0 L146.8,153.5 L147.4,153.8 L147.9,152.8 L148.5,154.3 L149.1,155.6 L149.6,155.0 L150.2,157.4 L150.7,158.3 L151.2,157.3 L151.8,158.5 L152.3,160.6 L152.9,160.0 L153.4,161.6 L154.0,162.5 L154.6,161.9 L155.2,163.8 L155.8,164.5 L156.4,166.5 L157.0,166.0 L157.6,168.1 L158.2,167.8 L158.8,170.0 L159.4,170.7 L160.0,172.6 L160.6,174.2 L161.2,175.3 L161.8,176.6 L162.4,177.4 L163.0,179.3 L163.6,180.5 L164.2,182.5 L164.8,184.1 L165.4,184.2 L166.0,184.2 L166.6,185.0 L167.2,185.4 L167.8,186.0 L168.4,186.3 L169.0,186.8 L169.6,186.8 L170.1,186.8 L170.7,186.8 L171.2,186.8 L171.8,186.8 L172.3,186.8 L172.9,186.8 L173.4,186.8 L174.0,186.8 L174.5,186.8 L175.1,186.8 L175.6,186.8 L176.2,186.8 L176.7,186.8 L177.3,186.8 L177.8,186.8 L178.4,186.8 L178.9,186.8 L179.5,186.8 L180.0,186.8 L180.6,186.8 L181.1,186.8 L181.7,186.8 L182.2,186.8 L182.8,186.8 L183.4,186.8 L183.9,186.8 L184.5,186.8 L185.0,186.8 L185.6,186.8 L186.1,186.8 L186.7,186.8 L187.2,186.8 L187.8,186.8 L188.3,186.8 L188.9,186.8 L189.4,186.8 L190.0,186.8 L190.5,186.8 L191.1,186.8 L191.6,186.8 L192.2,186.8 L192.7,186.8 L193.3,186.8 L193.8,186.8 L194.4,186.8 L194.9,186.8 L195.5,186.8 L196.0,186.8 L196.6,186.8 L197.1,186.8 L197.7,186.8 L198.3,186.8 L198.8,186.8 L199.4,186.8 L199.9,186.8 L200.5,186.8 L201.0,186.8 L201.6,186.8 L202.1,186.8 L202.7,186.8 L203.2,186.8 L203.8,186.8 L204.3,186.8 L204.9,186.8 L205.4,186.8 L206.0,186.8 L206.5,186.8 L207.1,186.8 L207.6,186.8 L208.2,186.8 L208.7,186.8 L209.3,186.8 L209.8,186.8 L210.4,186.8 L210.9,186.8 L211.5,186.8 L212.1,186.8 L212.6,186.8 L213.2,186.8 L213.7,186.8 L214.3,186.8 L214.8,186.8 L215.4,186.8 L215.9,186.8 L216.5,186.8 L217.0,186.8 L217.6,186.8 L218.1,186.8 L218.7,186.8 L219.2,186.8 L219.8,186.8 L220.3,186.8 L220.9,186.8 L221.4,186.8 L222.0,186.8 L222.5,186.8 L223.1,186.8 L223.6,186.8 L224.2,186.8 L224.7,186.8 L225.3,186.8 L225.9,186.8 L226.4,186.8 L227.0,186.8 L227.5,186.8 L228.1,186.8 L228.6,186.8 L229.2,186.8 L229.7,186.8 L230.3,186.8 L230.8,186.8 L231.4,186.8 L231.9,186.8 L232.5,186.8 L233.0,186.8 L233.6,186.8 L234.1,186.8 L234.7,186.8 L235.2,186.8 L235.8,186.8 L236.3,186.8 L236.9,186.8 L237.4,186.8 L238.0,186.8 L238.5,186.8 L239.1,186.8 L239.6,186.8 L240.2,186.8 L240.8,186.8 L241.3,186.8 L241.9,186.8 L242.4,186.8 L243.0,186.8 L243.5,186.8 L244.1,186.8 L244.6,186.8 L245.2,186.8 L245.7,186.8 L246.3,186.8 L246.8,186.8 L247.4,186.8 L247.9,186.8 L248.5,186.8 L249.0,186.8 L249.6,186.8 L250.1,186.8 L250.7,186.8 L251.2,186.8 L251.8,186.8 L252.3,186.8 L252.9,186.8 L253.4,186.8 L254.0,186.8" fill="none" stroke="#000" stroke-width="1.05" stroke-linejoin="round"/>
<path d="M60.0,186.8 L60.6,186.8 L61.1,186.8 L61.7,186.7 L62.2,186.7 L62.8,186.7 L63.3,186.7 L63.9,186.6 L64.4,186.6 L65.0,186.6 L65.6,186.5 L66.1,186.6 L66.7,186.5 L67.2,186.5 L67.8,186.4 L68.3,186.4 L68.9,186.4 L69.4,186.3 L70.0,186.3 L70.6,186.3 L71.1,186.2 L71.7,186.2 L72.2,186.2 L72.8,186.1 L73.3,186.1 L73.9,186.2 L74.4,186.1 L75.0,186.0 L75.6,186.2 L76.1,186.0 L76.7,186.0 L77.2,185.9 L77.8,186.1 L78.3,186.0 L78.9,186.0 L79.4,185.9 L80.0,186.0 L80.6,185.9 L81.1,185.7 L81.7,185.5 L82.3,185.4 L82.9,185.0 L83.4,185.3 L84.0,184.9 L84.6,183.6 L85.1,183.0 L85.7,183.0 L86.3,181.1 L86.9,179.9 L87.4,180.7 L88.0,178.8 L88.6,178.4 L89.1,177.3 L89.7,176.4 L90.2,175.9 L90.8,176.4 L91.3,174.9 L91.9,174.7 L92.4,173.8 L93.0,172.4 L93.5,173.6 L94.1,173.5 L94.7,171.8 L95.2,171.5 L95.8,172.8 L96.3,171.5 L96.8,172.8 L97.4,171.9 L98.0,171.9 L98.5,171.3 L99.1,170.5 L99.6,168.6 L100.2,166.7 L100.8,166.4 L101.3,165.7 L101.9,163.9 L102.4,162.2 L103.0,161.6 L103.6,158.3 L104.1,156.9 L104.7,155.6 L105.2,153.2 L105.8,151.6 L106.3,151.4 L106.9,149.0 L107.4,147.7 L108.0,145.1 L108.6,145.2 L109.2,143.8 L109.8,141.3 L110.4,139.7 L111.0,138.6 L111.7,137.1 L112.3,136.0 L113.0,135.3 L113.6,135.0 L114.1,134.9 L114.7,133.9 L115.2,133.9 L115.8,133.2 L116.3,132.3 L116.9,132.7 L117.5,133.1 L118.0,133.1 L118.7,134.8 L119.3,136.9 L120.0,138.4 L120.6,140.5 L121.2,143.5 L121.8,146.4 L122.3,149.3 L122.9,151.5 L123.5,154.1 L124.1,157.1 L124.8,159.8 L125.4,161.5 L126.0,164.8 L126.6,167.4 L127.2,170.4 L127.8,172.0 L128.4,175.8 L129.0,177.8 L129.6,178.8 L130.2,179.8 L130.8,180.4 L131.4,182.0 L132.0,183.2 L132.7,184.5 L133.3,185.5 L134.0,186.8 L134.6,186.8 L135.2,186.8 L135.8,186.8 L136.4,186.8 L137.0,186.8 L137.6,186.8 L138.2,186.8 L138.8,186.8 L139.4,186.8 L140.0,186.8" fill="none" stroke="#000" stroke-width="1.05" stroke-linejoin="round"/>
<line x1="31" y1="186.8" x2="257.4" y2="186.8" stroke="#222" stroke-width="1.0" />
<text x="109" y="132.2" font-size="7.4" font-family='"Liberation Serif", serif' font-weight="normal" text-anchor="middle" fill="#000" >1</text>
<text x="129" y="132.2" font-size="7.4" font-family='"Liberation Serif", serif' font-weight="normal" text-anchor="middle" fill="#000" >2</text>
<text x="143.2" y="141.8" font-size="7.4" font-family='"Liberation Serif", serif' font-weight="normal" text-anchor="middle" fill="#000" >3</text>
<text x="175.8" y="161.2" font-size="7.4" font-family='"Liberation Serif", serif' font-weight="normal" text-anchor="middle" fill="#000" >4</text>
<rect x="29.80" y="203.50" width="227.70" height="60.80" fill="none" stroke="#707070" stroke-width="0.9" />
<line x1="28.5" y1="203.5" x2="29.8" y2="203.5" stroke="#6a6a6a" stroke-width="0.45" />
<line x1="28.5" y1="205.52666666666667" x2="29.8" y2="205.52666666666667" stroke="#6a6a6a" stroke-width="0.45" />
<line x1="28.5" y1="207.55333333333334" x2="29.8" y2="207.55333333333334" stroke="#6a6a6a" stroke-width="0.45" />
<line x1="28.5" y1="209.58" x2="29.8" y2="209.58" stroke="#6a6a6a" stroke-width="0.45" />
<line x1="28.5" y1="211.60666666666665" x2="29.8" y2="211.60666666666665" stroke="#6a6a6a" stroke-width="0.45" />
<line x1="28.5" y1="213.63333333333333" x2="29.8" y2="213.63333333333333" stroke="#6a6a6a" stroke-width="0.45" />
<line x1="28.5" y1="215.66" x2="29.8" y2="215.66" stroke="#6a6a6a" stroke-width="0.45" />
<line x1="28.5" y1="217.68666666666667" x2="29.8" y2="217.68666666666667" stroke="#6a6a6a" stroke-width="0.45" />
<line x1="28.5" y1="219.71333333333334" x2="29.8" y2="219.71333333333334" stroke="#6a6a6a" stroke-width="0.45" />
<line x1="28.5" y1="221.74" x2="29.8" y2="221.74" stroke="#6a6a6a" stroke-width="0.45" />
<line x1="28.5" y1="223.76666666666668" x2="29.8" y2="223.76666666666668" stroke="#6a6a6a" stroke-width="0.45" />
<line x1="28.5" y1="225.79333333333335" x2="29.8" y2="225.79333333333335" stroke="#6a6a6a" stroke-width="0.45" />
<line x1="28.5" y1="227.82" x2="29.8" y2="227.82" stroke="#6a6a6a" stroke-width="0.45" />
<line x1="28.5" y1="229.84666666666666" x2="29.8" y2="229.84666666666666" stroke="#6a6a6a" stroke-width="0.45" />
<line x1="28.5" y1="231.87333333333333" x2="29.8" y2="231.87333333333333" stroke="#6a6a6a" stroke-width="0.45" />
<line x1="28.5" y1="233.9" x2="29.8" y2="233.9" stroke="#6a6a6a" stroke-width="0.45" />
<line x1="28.5" y1="235.92666666666668" x2="29.8" y2="235.92666666666668" stroke="#6a6a6a" stroke-width="0.45" />
<line x1="28.5" y1="237.95333333333335" x2="29.8" y2="237.95333333333335" stroke="#6a6a6a" stroke-width="0.45" />
<line x1="28.5" y1="239.98000000000002" x2="29.8" y2="239.98000000000002" stroke="#6a6a6a" stroke-width="0.45" />
<line x1="28.5" y1="242.00666666666666" x2="29.8" y2="242.00666666666666" stroke="#6a6a6a" stroke-width="0.45" />
<line x1="28.5" y1="244.03333333333333" x2="29.8" y2="244.03333333333333" stroke="#6a6a6a" stroke-width="0.45" />
<line x1="28.5" y1="246.06" x2="29.8" y2="246.06" stroke="#6a6a6a" stroke-width="0.45" />
<line x1="28.5" y1="248.08666666666667" x2="29.8" y2="248.08666666666667" stroke="#6a6a6a" stroke-width="0.45" />
<line x1="28.5" y1="250.11333333333334" x2="29.8" y2="250.11333333333334" stroke="#6a6a6a" stroke-width="0.45" />
<line x1="28.5" y1="252.14000000000001" x2="29.8" y2="252.14000000000001" stroke="#6a6a6a" stroke-width="0.45" />
<line x1="28.5" y1="254.16666666666669" x2="29.8" y2="254.16666666666669" stroke="#6a6a6a" stroke-width="0.45" />
<line x1="28.5" y1="256.1933333333333" x2="29.8" y2="256.1933333333333" stroke="#6a6a6a" stroke-width="0.45" />
<line x1="28.5" y1="258.22" x2="29.8" y2="258.22" stroke="#6a6a6a" stroke-width="0.45" />
<line x1="28.5" y1="260.24666666666667" x2="29.8" y2="260.24666666666667" stroke="#6a6a6a" stroke-width="0.45" />
<line x1="28.5" y1="262.2733333333333" x2="29.8" y2="262.2733333333333" stroke="#6a6a6a" stroke-width="0.45" />
<line x1="28.5" y1="264.3" x2="29.8" y2="264.3" stroke="#6a6a6a" stroke-width="0.45" />
<line x1="30.4" y1="264.3" x2="30.4" y2="266.7" stroke="#6a6a6a" stroke-width="0.5" />
<line x1="47.19747375805015" y1="264.3" x2="47.19747375805015" y2="265.8" stroke="#6a6a6a" stroke-width="0.5" />
<line x1="57.02336601335716" y1="264.3" x2="57.02336601335716" y2="265.8" stroke="#6a6a6a" stroke-width="0.5" />
<line x1="63.9949475161003" y1="264.3" x2="63.9949475161003" y2="265.8" stroke="#6a6a6a" stroke-width="0.5" />
<line x1="69.40252624194986" y1="264.3" x2="69.40252624194986" y2="265.8" stroke="#6a6a6a" stroke-width="0.5" />
<line x1="73.82083977140732" y1="264.3" x2="73.82083977140732" y2="265.8" stroke="#6a6a6a" stroke-width="0.5" />
<line x1="77.55647063279552" y1="264.3" x2="77.55647063279552" y2="265.8" stroke="#6a6a6a" stroke-width="0.5" />
<line x1="80.79242127415044" y1="264.3" x2="80.79242127415044" y2="265.8" stroke="#6a6a6a" stroke-width="0.5" />
<line x1="83.64673202671432" y1="264.3" x2="83.64673202671432" y2="265.8" stroke="#6a6a6a" stroke-width="0.5" />
<line x1="86.19999999999999" y1="264.3" x2="86.19999999999999" y2="266.7" stroke="#6a6a6a" stroke-width="0.5" />
<line x1="102.99747375805015" y1="264.3" x2="102.99747375805015" y2="265.8" stroke="#6a6a6a" stroke-width="0.5" />
<line x1="112.82336601335714" y1="264.3" x2="112.82336601335714" y2="265.8" stroke="#6a6a6a" stroke-width="0.5" />
<line x1="119.79494751610031" y1="264.3" x2="119.79494751610031" y2="265.8" stroke="#6a6a6a" stroke-width="0.5" />
<line x1="125.20252624194984" y1="264.3" x2="125.20252624194984" y2="265.8" stroke="#6a6a6a" stroke-width="0.5" />
<line x1="129.6208397714073" y1="264.3" x2="129.6208397714073" y2="265.8" stroke="#6a6a6a" stroke-width="0.5" />
<line x1="133.35647063279552" y1="264.3" x2="133.35647063279552" y2="265.8" stroke="#6a6a6a" stroke-width="0.5" />
<line x1="136.59242127415044" y1="264.3" x2="136.59242127415044" y2="265.8" stroke="#6a6a6a" stroke-width="0.5" />
<line x1="139.4467320267143" y1="264.3" x2="139.4467320267143" y2="265.8" stroke="#6a6a6a" stroke-width="0.5" />
<line x1="142.0" y1="264.3" x2="142.0" y2="266.7" stroke="#6a6a6a" stroke-width="0.5" />
<line x1="158.79747375805016" y1="264.3" x2="158.79747375805016" y2="265.8" stroke="#6a6a6a" stroke-width="0.5" />
<line x1="168.62336601335718" y1="264.3" x2="168.62336601335718" y2="265.8" stroke="#6a6a6a" stroke-width="0.5" />
<line x1="175.59494751610032" y1="264.3" x2="175.59494751610032" y2="265.8" stroke="#6a6a6a" stroke-width="0.5" />
<line x1="181.00252624194985" y1="264.3" x2="181.00252624194985" y2="265.8" stroke="#6a6a6a" stroke-width="0.5" />
<line x1="185.42083977140732" y1="264.3" x2="185.42083977140732" y2="265.8" stroke="#6a6a6a" stroke-width="0.5" />
<line x1="189.15647063279553" y1="264.3" x2="189.15647063279553" y2="265.8" stroke="#6a6a6a" stroke-width="0.5" />
<line x1="192.39242127415045" y1="264.3" x2="192.39242127415045" y2="265.8" stroke="#6a6a6a" stroke-width="0.5" />
<line x1="195.2467320267143" y1="264.3" x2="195.2467320267143" y2="265.8" stroke="#6a6a6a" stroke-width="0.5" />
<line x1="197.79999999999998" y1="264.3" x2="197.79999999999998" y2="266.7" stroke="#6a6a6a" stroke-width="0.5" />
<line x1="214.59747375805014" y1="264.3" x2="214.59747375805014" y2="265.8" stroke="#6a6a6a" stroke-width="0.5" />
<line x1="224.42336601335717" y1="264.3" x2="224.42336601335717" y2="265.8" stroke="#6a6a6a" stroke-width="0.5" />
<line x1="231.3949475161003" y1="264.3" x2="231.3949475161003" y2="265.8" stroke="#6a6a6a" stroke-width="0.5" />
<line x1="236.80252624194983" y1="264.3" x2="236.80252624194983" y2="265.8" stroke="#6a6a6a" stroke-width="0.5" />
<line x1="241.22083977140733" y1="264.3" x2="241.22083977140733" y2="265.8" stroke="#6a6a6a" stroke-width="0.5" />
<line x1="244.95647063279554" y1="264.3" x2="244.95647063279554" y2="265.8" stroke="#6a6a6a" stroke-width="0.5" />
<line x1="248.19242127415046" y1="264.3" x2="248.19242127415046" y2="265.8" stroke="#6a6a6a" stroke-width="0.5" />
<line x1="251.04673202671432" y1="264.3" x2="251.04673202671432" y2="265.8" stroke="#6a6a6a" stroke-width="0.5" />
<text x="30.4" y="270.5" font-size="4.3" font-family='"Liberation Sans", sans-serif' font-weight="normal" text-anchor="middle" fill="#484848" >10<tspan font-size="2.9" dy="-1.4">0</tspan></text>
<text x="86.19999999999999" y="270.5" font-size="4.3" font-family='"Liberation Sans", sans-serif' font-weight="normal" text-anchor="middle" fill="#484848" >10<tspan font-size="2.9" dy="-1.4">1</tspan></text>
<text x="142.0" y="270.5" font-size="4.3" font-family='"Liberation Sans", sans-serif' font-weight="normal" text-anchor="middle" fill="#484848" >10<tspan font-size="2.9" dy="-1.4">2</tspan></text>
<text x="197.79999999999998" y="270.5" font-size="4.3" font-family='"Liberation Sans", sans-serif' font-weight="normal" text-anchor="middle" fill="#484848" >10<tspan font-size="2.9" dy="-1.4">3</tspan></text>
<text x="253.6" y="270.5" font-size="4.3" font-family='"Liberation Sans", sans-serif' font-weight="normal" text-anchor="middle" fill="#484848" >10<tspan font-size="2.9" dy="-1.4">4</tspan></text>
<text x="25.8" y="202.5" font-size="4.2" font-family='"Liberation Sans", sans-serif' font-weight="normal" text-anchor="middle" fill="#484848" transform="rotate(-90 25.8 202.5)" >100</text>
<text x="25.8" y="214.8" font-size="4.2" font-family='"Liberation Sans", sans-serif' font-weight="normal" text-anchor="middle" fill="#484848" transform="rotate(-90 25.8 214.8)" >80</text>
<text x="25.8" y="227.1" font-size="4.2" font-family='"Liberation Sans", sans-serif' font-weight="normal" text-anchor="middle" fill="#484848" transform="rotate(-90 25.8 227.1)" >60</text>
<text x="25.8" y="239.4" font-size="4.2" font-family='"Liberation Sans", sans-serif' font-weight="normal" text-anchor="middle" fill="#484848" transform="rotate(-90 25.8 239.4)" >40</text>
<text x="25.8" y="251.7" font-size="4.2" font-family='"Liberation Sans", sans-serif' font-weight="normal" text-anchor="middle" fill="#484848" transform="rotate(-90 25.8 251.7)" >20</text>
<text x="25.8" y="264.0" font-size="4.2" font-family='"Liberation Sans", sans-serif' font-weight="normal" text-anchor="middle" fill="#484848" transform="rotate(-90 25.8 264.0)" >0</text>
<text x="34.2" y="213.6" font-size="9.6" font-family='"Liberation Serif", serif' font-weight="bold" text-anchor="start" fill="#000" >iii</text>
<text x="189.3" y="217.4" font-size="8.4" font-family='"Liberation Serif", serif' font-weight="bold" text-anchor="start" fill="#000" textLength="57.7" lengthAdjust="spacingAndGlyphs" >R2: Neutrophils</text>
<path d="M31.5,263.9 L31.5,262.3 L32.1,261.1 L32.6,261.9 L33.2,261.6 L33.7,259.7 L34.3,260.8 L34.8,260.7 L35.4,260.2 L36.0,259.8 L36.7,256.7 L37.3,256.9 L37.9,256.4 L38.6,255.7 L39.2,253.9 L39.8,253.6 L40.5,251.5 L41.1,249.2 L41.7,250.0 L42.4,246.8 L43.0,244.4 L43.6,245.0 L44.2,240.7 L44.8,240.0 L45.4,238.0 L46.0,235.3 L46.7,231.1 L47.3,226.0 L48.0,222.8 L48.6,219.8 L49.2,218.7 L49.8,214.3 L50.4,214.5 L51.1,215.4 L51.7,212.7 L52.4,215.8 L53.0,215.6 L53.7,216.6 L54.3,217.3 L55.0,216.3 L55.6,219.3 L56.2,219.3 L56.9,219.3 L57.5,219.4 L58.1,221.7 L58.8,223.0 L59.4,225.8 L60.0,226.8 L60.6,228.0 L61.1,229.6 L61.7,231.3 L62.3,233.3 L62.9,234.4 L63.5,236.7 L64.0,237.5 L64.6,239.2 L65.2,242.3 L65.8,243.1 L66.3,245.7 L66.9,245.6 L67.4,248.6 L68.0,248.8 L68.6,250.9 L69.2,251.8 L69.8,252.7 L70.4,257.6 L71.0,256.4 L71.6,256.6 L72.1,259.5 L72.7,259.2 L73.2,260.5 L73.8,261.8 L74.3,262.3 L74.9,262.9 L75.5,263.4 L76.0,263.9 L76,263.9 L31.5,263.9 Z" fill="#000"/>
<path d="M33.0,263.9 L33.5,261.4 L34.1,259.8 L34.8,259.3 L35.4,257.7 L36.0,256.8 L36.7,254.7 L37.3,253.2 L37.9,252.4 L38.5,251.8 L39.1,248.9 L39.8,248.7 L40.4,247.7 L41.0,245.9 L41.7,242.6 L42.3,241.6 L43.0,237.8 L43.6,237.3 L44.2,235.0 L44.8,232.8 L45.4,232.0 L46.0,230.0 L46.6,229.7 L47.1,230.3 L47.7,230.0 L48.2,229.0 L48.8,228.8 L49.4,229.0 L50.0,228.8 L50.5,229.6 L51.1,229.5 L51.7,230.4 L52.3,231.0 L52.9,232.1 L53.4,231.5 L54.0,233.3 L54.6,233.7 L55.2,235.5 L55.8,236.6 L56.3,239.6 L56.9,240.4 L57.5,242.1 L58.1,243.7 L58.7,244.8 L59.2,246.1 L59.8,245.8 L60.4,247.1 L61.0,248.7 L61.7,249.9 L62.3,251.5 L62.9,251.3 L63.6,251.9 L64.2,253.0 L64.8,253.4 L65.4,255.1 L65.9,255.3 L66.5,255.4 L67.1,256.9 L67.7,256.8 L68.3,257.0 L68.8,257.4 L69.4,259.2 L70.0,259.8 L70.6,259.9 L71.2,260.4 L71.7,260.7 L72.3,259.9 L72.9,260.3 L73.5,261.0 L74.1,261.3 L74.6,261.4 L75.2,261.6 L75.8,262.0 L76.4,262.4 L76.9,262.3 L77.5,262.4 L78.1,262.6 L78.7,262.7 L79.2,262.8 L79.8,262.9 L80.4,262.8 L80.9,262.9 L81.5,263.1 L82.1,263.2 L82.6,263.1 L83.2,263.3 L83.8,263.2 L84.3,263.2 L84.9,263.3 L85.4,263.3 L86.0,263.3 L86.6,263.4 L87.1,263.4 L87.7,263.5 L88.2,263.5 L88.8,263.5 L89.4,263.6 L89.9,263.6 L90.5,263.6 L91.1,263.7 L91.6,263.7 L92.2,263.7 L92.8,263.8 L93.3,263.8 L93.9,263.8 L94.4,263.9 L95.0,263.9" fill="none" stroke="#9a9a9a" stroke-width="0.85" stroke-linejoin="round"/>
<path d="M31.3,263.9 L31.5,239.0 L32.2,238.3 L32.8,238.6 L33.5,236.7 L34.1,237.3 L34.8,237.6 L35.4,237.4 L36.1,237.9 L36.8,238.3 L37.5,238.1 L38.1,238.1 L38.6,237.6 L39.2,239.3 L39.8,238.2 L40.4,238.7 L41.0,238.6 L41.7,239.7 L42.3,239.6 L43.0,239.6 L43.6,238.6 L44.2,239.2 L44.8,237.8 L45.4,237.1 L46.0,236.9 L46.6,236.5 L47.1,235.8 L47.7,234.2 L48.3,235.1 L48.9,234.2 L49.4,234.0 L50.0,233.1 L50.6,233.5 L51.1,233.3 L51.7,233.9 L52.2,235.4 L52.8,234.7 L53.3,236.2 L53.9,235.5 L54.4,236.3 L55.0,237.6 L55.6,237.9 L56.1,238.6 L56.7,238.6 L57.2,240.2 L57.8,240.6 L58.3,242.3 L58.9,243.9 L59.4,243.5 L60.0,245.6 L60.6,246.5 L61.1,246.0 L61.7,248.2 L62.2,248.7 L62.8,248.6 L63.3,249.5 L63.9,251.2 L64.4,252.6 L65.0,252.4 L65.6,254.0 L66.1,254.5 L66.7,254.3 L67.2,256.1 L67.8,256.0 L68.3,256.5 L68.9,257.8 L69.4,257.8 L70.0,259.8 L70.6,259.1 L71.1,260.6 L71.7,261.0 L72.2,261.2 L72.8,261.3 L73.3,262.0 L73.9,261.8 L74.4,262.4 L75.0,262.8 L75.6,262.8 L76.1,263.1 L76.7,263.2 L77.2,263.3 L77.8,263.3 L78.3,263.5 L78.9,263.7 L79.4,263.8 L80.0,263.9" fill="none" stroke="#000" stroke-width="1.0" stroke-linejoin="round"/>
<path d="M65.0,263.9 L65.6,263.7 L66.2,263.7 L66.8,263.5 L67.3,263.3 L67.9,263.2 L68.5,263.1 L69.1,263.1 L69.7,262.9 L70.2,262.9 L70.8,262.5 L71.4,262.4 L72.0,262.3 L72.6,261.7 L73.1,261.6 L73.7,261.2 L74.3,260.8 L74.8,261.2 L75.4,260.6 L76.0,260.5 L76.6,260.1 L77.1,259.2 L77.7,258.9 L78.3,258.6 L78.8,259.2 L79.4,258.4 L80.0,257.9 L80.5,259.1 L81.1,257.5 L81.7,259.1 L82.2,257.6 L82.8,258.1 L83.3,258.7 L83.9,256.9 L84.5,258.1 L85.0,256.7 L85.6,257.0 L86.2,256.6 L86.7,256.7 L87.3,256.8 L87.9,256.8 L88.4,255.8 L89.0,256.3 L89.6,256.5 L90.2,255.6 L90.7,255.3 L91.3,255.1 L91.9,254.3 L92.4,255.1 L93.0,254.2 L93.6,254.2 L94.1,255.3 L94.7,253.7 L95.3,253.6 L95.9,254.2 L96.4,253.9 L97.0,254.3 L97.6,252.5 L98.1,252.6 L98.7,252.2 L99.2,251.9 L99.8,252.2 L100.4,252.9 L100.9,252.8 L101.5,251.2 L102.0,252.1 L102.6,250.8 L103.1,251.1 L103.7,250.2 L104.3,250.2 L104.8,251.3 L105.4,250.9 L105.9,250.2 L106.5,250.9 L107.0,248.9 L107.6,249.0 L108.2,249.6 L108.7,248.1 L109.2,248.5 L109.8,248.2 L110.3,247.4 L110.9,247.3 L111.5,247.0 L112.0,247.4 L112.6,246.7 L113.1,247.0 L113.7,246.3 L114.3,246.9 L114.9,247.1 L115.4,246.3 L116.0,246.5 L116.7,245.6 L117.3,244.6 L118.0,246.3 L118.7,244.6 L119.3,244.6 L119.9,246.3 L120.5,245.1 L121.2,246.2 L121.8,246.2 L122.4,245.6 L123.0,246.7 L123.6,246.2 L124.2,247.8 L124.8,248.4 L125.5,247.8 L126.1,248.4 L126.7,248.3 L127.3,249.0 L127.9,250.3 L128.4,249.2 L129.0,250.5 L129.6,249.7 L130.2,252.2 L130.7,250.8 L131.3,252.1 L131.9,252.5 L132.4,253.4 L133.0,253.3 L133.6,253.5 L134.2,254.7 L134.7,255.8 L135.3,256.6 L135.9,255.8 L136.5,255.8 L137.1,256.4 L137.6,256.4 L138.2,258.5 L138.8,258.8 L139.4,257.9 L140.0,259.7 L140.5,259.4 L141.1,260.0 L141.7,260.5 L142.3,260.7 L142.8,260.2 L143.4,260.5 L143.9,260.9 L144.5,261.1 L145.0,261.3 L145.6,261.0 L146.1,261.1 L146.7,261.7 L147.2,261.6 L147.8,262.1 L148.3,262.2 L148.9,262.3 L149.4,262.5 L150.0,262.5 L150.5,262.6 L151.1,262.3 L151.6,262.8 L152.2,263.0 L152.7,262.9 L153.3,263.0 L153.9,263.2 L154.4,263.1 L155.0,263.1 L155.5,263.2 L156.1,263.2 L156.6,263.2 L157.2,263.2 L157.7,263.3 L158.3,263.4 L158.8,263.3 L159.4,263.4 L159.9,263.5 L160.5,263.5 L161.1,263.5 L161.6,263.6 L162.2,263.6 L162.7,263.6 L163.3,263.7 L163.8,263.7 L164.4,263.7 L164.9,263.7 L165.5,263.8 L166.0,263.8 L166.6,263.8 L167.1,263.9 L167.7,263.9 L168.3,263.9 L168.8,263.9 L169.4,263.9 L169.9,263.9 L170.5,263.9 L171.0,263.9 L171.6,263.9 L172.1,263.9 L172.7,263.9 L173.2,263.9 L173.8,263.9 L174.3,263.9 L174.9,263.9 L175.4,263.9 L176.0,263.9 L176.5,263.9 L177.1,263.9 L177.6,263.9 L178.2,263.9 L178.7,263.9 L179.3,263.9 L179.8,263.9 L180.4,263.9 L180.9,263.9 L181.5,263.9 L182.0,263.9 L182.6,263.9 L183.2,263.9 L183.7,263.9 L184.3,263.9 L184.8,263.9 L185.4,263.9 L185.9,263.9 L186.5,263.9 L187.0,263.9 L187.6,263.9 L188.1,263.9 L188.7,263.9 L189.2,263.9 L189.8,263.9 L190.3,263.9 L190.9,263.9 L191.4,263.9 L192.0,263.9 L192.5,263.9 L193.1,263.9 L193.6,263.9 L194.2,263.9 L194.7,263.9 L195.3,263.9 L195.8,263.9 L196.4,263.9 L196.9,263.9 L197.5,263.9 L198.1,263.9 L198.6,263.9 L199.2,263.9 L199.7,263.9 L200.3,263.9 L200.8,263.9 L201.4,263.9 L201.9,263.9 L202.5,263.9 L203.0,263.9 L203.6,263.9 L204.1,263.9 L204.7,263.9 L205.2,263.9 L205.8,263.9 L206.3,263.9 L206.9,263.9 L207.4,263.9 L208.0,263.9 L208.5,263.9 L209.1,263.9 L209.6,263.9 L210.2,263.9 L210.7,263.9 L211.3,263.9 L211.8,263.9 L212.4,263.9 L213.0,263.9 L213.5,263.9 L214.1,263.9 L214.6,263.9 L215.2,263.9 L215.7,263.9 L216.3,263.9 L216.8,263.9 L217.4,263.9 L217.9,263.9 L218.5,263.9 L219.0,263.9 L219.6,263.9 L220.1,263.9 L220.7,263.9 L221.2,263.9 L221.8,263.9 L222.3,263.9 L222.9,263.9 L223.4,263.9 L224.0,263.9 L224.5,263.9 L225.1,263.9 L225.6,263.9 L226.2,263.9 L226.8,263.9 L227.3,263.9 L227.9,263.9 L228.4,263.9 L229.0,263.9 L229.5,263.9 L230.1,263.9 L230.6,263.9 L231.2,263.9 L231.7,263.9 L232.3,263.9 L232.8,263.9 L233.4,263.9 L233.9,263.9 L234.5,263.9 L235.0,263.9 L235.6,263.9 L236.1,263.9 L236.7,263.9 L237.2,263.9 L237.8,263.9 L238.3,263.9 L238.9,263.9 L239.4,263.9 L240.0,263.9 L240.5,263.9 L241.1,263.9 L241.7,263.9 L242.2,263.9 L242.8,263.9 L243.3,263.9 L243.9,263.9 L244.4,263.9 L245.0,263.9 L245.5,263.9 L246.1,263.9 L246.6,263.9 L247.2,263.9 L247.7,263.9 L248.3,263.9 L248.8,263.9 L249.4,263.9 L249.9,263.9 L250.5,263.9 L251.0,263.9 L251.6,263.9 L252.1,263.9 L252.7,263.9 L253.2,263.9 L253.8,263.9 L254.3,263.9 L254.9,263.9 L255.4,263.9 L256.0,263.9" fill="none" stroke="#8c8c8c" stroke-width="0.85" stroke-linejoin="round"/>
<path d="M66.0,263.9 L66.6,263.5 L67.2,263.1 L67.8,262.5 L68.4,262.3 L69.0,261.4 L69.6,261.4 L70.2,260.9 L70.8,260.6 L71.4,259.8 L72.0,259.0 L72.6,258.1 L73.3,257.8 L73.9,256.0 L74.5,256.3 L75.2,254.8 L75.8,254.4 L76.4,251.4 L77.0,249.6 L77.5,248.2 L78.1,246.6 L78.7,243.1 L79.3,242.6 L79.8,240.8 L80.4,237.9 L80.9,236.0 L81.5,233.6 L82.1,233.1 L82.7,231.1 L83.2,229.4 L83.8,227.6 L84.4,227.2 L85.0,224.8 L85.7,225.4 L86.3,223.0 L87.0,223.3 L87.6,222.7 L88.3,222.0 L88.9,222.6 L89.6,223.3 L90.2,223.7 L90.8,226.1 L91.4,228.1 L92.0,230.5 L92.6,232.7 L93.2,233.5 L93.8,235.7 L94.4,236.4 L95.0,238.7 L95.6,239.2 L96.2,241.0 L96.7,242.2 L97.3,244.0 L97.9,245.8 L98.5,247.8 L99.1,248.6 L99.6,249.1 L100.2,250.1 L100.8,252.0 L101.4,252.8 L102.1,254.3 L102.7,255.2 L103.3,254.6 L104.0,257.1 L104.6,256.6 L105.2,257.5 L105.7,258.1 L106.3,258.6 L106.8,259.4 L107.4,259.8 L107.9,260.6 L108.5,261.0 L109.1,261.5 L109.8,262.1 L110.4,261.9 L111.0,262.3 L111.7,262.7 L112.3,263.0 L112.9,263.3 L113.4,263.3 L114.0,263.3 L114.6,263.5 L115.2,263.4 L115.7,263.5 L116.3,263.6 L116.9,263.8 L117.4,263.8 L118.0,263.9 L118.6,263.9 L119.1,263.9 L119.7,263.9 L120.2,263.9 L120.8,263.9 L121.3,263.9 L121.9,263.9 L122.4,263.9 L123.0,263.9 L123.5,263.9 L124.1,263.9 L124.6,263.9 L125.2,263.9 L125.7,263.9 L126.3,263.9 L126.8,263.9 L127.4,263.9 L127.9,263.9 L128.5,263.9 L129.0,263.9 L129.6,263.9 L130.1,263.9 L130.7,263.9 L131.2,263.9 L131.8,263.9 L132.4,263.9 L132.9,263.9 L133.5,263.9 L134.0,263.9 L134.6,263.9 L135.1,263.9 L135.7,263.9 L136.2,263.9 L136.8,263.9 L137.3,263.9 L137.9,263.9 L138.4,263.9 L139.0,263.9 L139.5,263.9 L140.1,263.9 L140.6,263.9 L141.2,263.9 L141.7,263.9 L142.3,263.9 L142.8,263.9 L143.4,263.9 L143.9,263.9 L144.5,263.9 L145.0,263.9 L145.6,263.9 L146.2,263.9 L146.7,263.9 L147.3,263.9 L147.8,263.9 L148.4,263.9 L148.9,263.9 L149.5,263.9 L150.0,263.9 L150.6,263.9 L151.1,263.9 L151.7,263.9 L152.2,263.9 L152.8,263.9 L153.3,263.9 L153.9,263.9 L154.4,263.9 L155.0,263.9 L155.5,263.9 L156.1,263.9 L156.6,263.9 L157.2,263.9 L157.7,263.9 L158.3,263.9 L158.8,263.9 L159.4,263.9 L160.0,263.9 L160.5,263.9 L161.1,263.9 L161.6,263.9 L162.2,263.9 L162.7,263.9 L163.3,263.9 L163.8,263.9 L164.4,263.9 L164.9,263.9 L165.5,263.9 L166.0,263.9 L166.6,263.9 L167.1,263.9 L167.7,263.9 L168.2,263.9 L168.8,263.9 L169.3,263.9 L169.9,263.9 L170.4,263.9 L171.0,263.9 L171.5,263.9 L172.1,263.9 L172.6,263.9 L173.2,263.9 L173.8,263.9 L174.3,263.9 L174.9,263.9 L175.4,263.9 L176.0,263.9 L176.5,263.9 L177.1,263.9 L177.6,263.9 L178.2,263.9 L178.7,263.9 L179.3,263.9 L179.8,263.9 L180.4,263.9 L180.9,263.9 L181.5,263.9 L182.0,263.9 L182.6,263.9 L183.1,263.9 L183.7,263.9 L184.2,263.9 L184.8,263.9 L185.3,263.9 L185.9,263.9 L186.4,263.9 L187.0,263.9 L187.6,263.9 L188.1,263.9 L188.7,263.9 L189.2,263.9 L189.8,263.9 L190.3,263.9 L190.9,263.9 L191.4,263.9 L192.0,263.9 L192.5,263.9 L193.1,263.9 L193.6,263.9 L194.2,263.9 L194.7,263.9 L195.3,263.9 L195.8,263.9 L196.4,263.9 L196.9,263.9 L197.5,263.9 L198.0,263.9 L198.6,263.9 L199.1,263.9 L199.7,263.9 L200.2,263.9 L200.8,263.9 L201.4,263.9 L201.9,263.9 L202.5,263.9 L203.0,263.9 L203.6,263.9 L204.1,263.9 L204.7,263.9 L205.2,263.9 L205.8,263.9 L206.3,263.9 L206.9,263.9 L207.4,263.9 L208.0,263.9 L208.5,263.9 L209.1,263.9 L209.6,263.9 L210.2,263.9 L210.7,263.9 L211.3,263.9 L211.8,263.9 L212.4,263.9 L212.9,263.9 L213.5,263.9 L214.0,263.9 L214.6,263.9 L215.2,263.9 L215.7,263.9 L216.3,263.9 L216.8,263.9 L217.4,263.9 L217.9,263.9 L218.5,263.9 L219.0,263.9 L219.6,263.9 L220.1,263.9 L220.7,263.9 L221.2,263.9 L221.8,263.9 L222.3,263.9 L222.9,263.9 L223.4,263.9 L224.0,263.9 L224.5,263.9 L225.1,263.9 L225.6,263.9 L226.2,263.9 L226.7,263.9 L227.3,263.9 L227.8,263.9 L228.4,263.9 L229.0,263.9 L229.5,263.9 L230.1,263.9 L230.6,263.9 L231.2,263.9 L231.7,263.9 L232.3,263.9 L232.8,263.9 L233.4,263.9 L233.9,263.9 L234.5,263.9 L235.0,263.9 L235.6,263.9 L236.1,263.9 L236.7,263.9 L237.2,263.9 L237.8,263.9 L238.3,263.9 L238.9,263.9 L239.4,263.9 L240.0,263.9 L240.5,263.9 L241.1,263.9 L241.6,263.9 L242.2,263.9 L242.8,263.9 L243.3,263.9 L243.9,263.9 L244.4,263.9 L245.0,263.9 L245.5,263.9 L246.1,263.9 L246.6,263.9 L247.2,263.9 L247.7,263.9 L248.3,263.9 L248.8,263.9 L249.4,263.9 L249.9,263.9 L250.5,263.9 L251.0,263.9 L251.6,263.9 L252.1,263.9 L252.7,263.9 L253.2,263.9 L253.8,263.9 L254.3,263.9 L254.9,263.9 L255.4,263.9 L256.0,263.9" fill="none" stroke="#000" stroke-width="1.05" stroke-linejoin="round"/>
<line x1="31" y1="263.9" x2="257.4" y2="263.9" stroke="#222" stroke-width="1.0" />
<text x="34.4" y="233.2" font-size="7.4" font-family='"Liberation Serif", serif' font-weight="normal" text-anchor="middle" fill="#000" >1</text>
<text x="42" y="229.2" font-size="7.4" font-family='"Liberation Serif", serif' font-weight="normal" text-anchor="middle" fill="#000" >2</text>
<text x="87.3" y="219.0" font-size="7.4" font-family='"Liberation Serif", serif' font-weight="normal" text-anchor="middle" fill="#000" >3</text>
<text x="122" y="240.8" font-size="7.4" font-family='"Liberation Serif", serif' font-weight="normal" text-anchor="middle" fill="#000" >4</text>
<text x="16.7" y="194.9" font-size="8.4" font-family='"Liberation Serif", serif' font-weight="bold" text-anchor="middle" fill="#000" textLength="40" lengthAdjust="spacingAndGlyphs" transform="rotate(-90 16.7 194.9)" >Cell counts</text>
<text x="71.3" y="284.0" font-size="8.4" font-family='"Liberation Serif", serif' font-weight="bold" text-anchor="start" fill="#000" textLength="136.7" lengthAdjust="spacingAndGlyphs" >Fluorescence intensity (Alemtuzumab)</text>
<line x1="289.4" y1="18.1" x2="289.4" y2="97.6" stroke="#000" stroke-width="1.2" />
<path d="M287.4,20.9 L289.4,13.1 L291.4,20.9 Z" fill="#000"/>
<line x1="288.8" y1="97.0" x2="373.0" y2="97.0" stroke="#000" stroke-width="1.2" />
<path d="M370.2,95.0 L378.0,97.0 L370.2,99.0 Z" fill="#000"/>
<rect x="299.10" y="17.10" width="74.70" height="70.10" fill="none" stroke="#707070" stroke-width="0.9" />
<line x1="299.1" y1="17.1" x2="300.2" y2="17.1" stroke="#6a6a6a" stroke-width="0.4" />
<line x1="299.1" y1="19.047222222222224" x2="300.2" y2="19.047222222222224" stroke="#6a6a6a" stroke-width="0.4" />
<line x1="299.1" y1="20.994444444444447" x2="300.2" y2="20.994444444444447" stroke="#6a6a6a" stroke-width="0.4" />
<line x1="299.1" y1="22.941666666666666" x2="300.2" y2="22.941666666666666" stroke="#6a6a6a" stroke-width="0.4" />
<line x1="299.1" y1="24.88888888888889" x2="300.2" y2="24.88888888888889" stroke="#6a6a6a" stroke-width="0.4" />
<line x1="299.1" y1="26.836111111111112" x2="300.2" y2="26.836111111111112" stroke="#6a6a6a" stroke-width="0.4" />
<line x1="299.1" y1="28.78333333333333" x2="300.2" y2="28.78333333333333" stroke="#6a6a6a" stroke-width="0.4" />
<line x1="299.1" y1="30.730555555555554" x2="300.2" y2="30.730555555555554" stroke="#6a6a6a" stroke-width="0.4" />
<line x1="299.1" y1="32.67777777777778" x2="300.2" y2="32.67777777777778" stroke="#6a6a6a" stroke-width="0.4" />
<line x1="299.1" y1="34.625" x2="300.2" y2="34.625" stroke="#6a6a6a" stroke-width="0.4" />
<line x1="299.1" y1="36.57222222222222" x2="300.2" y2="36.57222222222222" stroke="#6a6a6a" stroke-width="0.4" />
<line x1="299.1" y1="38.519444444444446" x2="300.2" y2="38.519444444444446" stroke="#6a6a6a" stroke-width="0.4" />
<line x1="299.1" y1="40.46666666666667" x2="300.2" y2="40.46666666666667" stroke="#6a6a6a" stroke-width="0.4" />
<line x1="299.1" y1="42.41388888888889" x2="300.2" y2="42.41388888888889" stroke="#6a6a6a" stroke-width="0.4" />
<line x1="299.1" y1="44.36111111111111" x2="300.2" y2="44.36111111111111" stroke="#6a6a6a" stroke-width="0.4" />
<line x1="299.1" y1="46.30833333333334" x2="300.2" y2="46.30833333333334" stroke="#6a6a6a" stroke-width="0.4" />
<line x1="299.1" y1="48.25555555555555" x2="300.2" y2="48.25555555555555" stroke="#6a6a6a" stroke-width="0.4" />
<line x1="299.1" y1="50.202777777777776" x2="300.2" y2="50.202777777777776" stroke="#6a6a6a" stroke-width="0.4" />
<line x1="299.1" y1="52.15" x2="300.2" y2="52.15" stroke="#6a6a6a" stroke-width="0.4" />
<line x1="299.1" y1="54.09722222222222" x2="300.2" y2="54.09722222222222" stroke="#6a6a6a" stroke-width="0.4" />
<line x1="299.1" y1="56.044444444444444" x2="300.2" y2="56.044444444444444" stroke="#6a6a6a" stroke-width="0.4" />
<line x1="299.1" y1="57.99166666666667" x2="300.2" y2="57.99166666666667" stroke="#6a6a6a" stroke-width="0.4" />
<line x1="299.1" y1="59.93888888888888" x2="300.2" y2="59.93888888888888" stroke="#6a6a6a" stroke-width="0.4" />
<line x1="299.1" y1="61.88611111111111" x2="300.2" y2="61.88611111111111" stroke="#6a6a6a" stroke-width="0.4" />
<line x1="299.1" y1="63.83333333333333" x2="300.2" y2="63.83333333333333" stroke="#6a6a6a" stroke-width="0.4" />
<line x1="299.1" y1="65.78055555555555" x2="300.2" y2="65.78055555555555" stroke="#6a6a6a" stroke-width="0.4" />
<line x1="299.1" y1="67.72777777777777" x2="300.2" y2="67.72777777777777" stroke="#6a6a6a" stroke-width="0.4" />
<line x1="299.1" y1="69.675" x2="300.2" y2="69.675" stroke="#6a6a6a" stroke-width="0.4" />
<line x1="299.1" y1="71.6222222222222" x2="300.2" y2="71.6222222222222" stroke="#6a6a6a" stroke-width="0.4" />
<line x1="299.1" y1="73.56944444444444" x2="300.2" y2="73.56944444444444" stroke="#6a6a6a" stroke-width="0.4" />
<line x1="299.1" y1="75.51666666666667" x2="300.2" y2="75.51666666666667" stroke="#6a6a6a" stroke-width="0.4" />
<line x1="299.1" y1="77.46388888888889" x2="300.2" y2="77.46388888888889" stroke="#6a6a6a" stroke-width="0.4" />
<line x1="299.1" y1="79.4111111111111" x2="300.2" y2="79.4111111111111" stroke="#6a6a6a" stroke-width="0.4" />
<line x1="299.1" y1="81.35833333333332" x2="300.2" y2="81.35833333333332" stroke="#6a6a6a" stroke-width="0.4" />
<line x1="299.1" y1="83.30555555555554" x2="300.2" y2="83.30555555555554" stroke="#6a6a6a" stroke-width="0.4" />
<line x1="299.1" y1="85.25277777777777" x2="300.2" y2="85.25277777777777" stroke="#6a6a6a" stroke-width="0.4" />
<line x1="299.1" y1="87.19999999999999" x2="300.2" y2="87.19999999999999" stroke="#6a6a6a" stroke-width="0.4" />
<line x1="299.1" y1="87.2" x2="299.1" y2="86.1" stroke="#6a6a6a" stroke-width="0.4" />
<line x1="301.175" y1="87.2" x2="301.175" y2="86.1" stroke="#6a6a6a" stroke-width="0.4" />
<line x1="303.25" y1="87.2" x2="303.25" y2="86.1" stroke="#6a6a6a" stroke-width="0.4" />
<line x1="305.32500000000005" y1="87.2" x2="305.32500000000005" y2="86.1" stroke="#6a6a6a" stroke-width="0.4" />
<line x1="307.40000000000003" y1="87.2" x2="307.40000000000003" y2="86.1" stroke="#6a6a6a" stroke-width="0.4" />
<line x1="309.475" y1="87.2" x2="309.475" y2="86.1" stroke="#6a6a6a" stroke-width="0.4" />
<line x1="311.55" y1="87.2" x2="311.55" y2="86.1" stroke="#6a6a6a" stroke-width="0.4" />
<line x1="313.625" y1="87.2" x2="313.625" y2="86.1" stroke="#6a6a6a" stroke-width="0.4" />
<line x1="315.70000000000005" y1="87.2" x2="315.70000000000005" y2="86.1" stroke="#6a6a6a" stroke-width="0.4" />
<line x1="317.77500000000003" y1="87.2" x2="317.77500000000003" y2="86.1" stroke="#6a6a6a" stroke-width="0.4" />
<line x1="319.85" y1="87.2" x2="319.85" y2="86.1" stroke="#6a6a6a" stroke-width="0.4" />
<line x1="321.925" y1="87.2" x2="321.925" y2="86.1" stroke="#6a6a6a" stroke-width="0.4" />
<line x1="324.0" y1="87.2" x2="324.0" y2="86.1" stroke="#6a6a6a" stroke-width="0.4" />
<line x1="326.07500000000005" y1="87.2" x2="326.07500000000005" y2="86.1" stroke="#6a6a6a" stroke-width="0.4" />
<line x1="328.15000000000003" y1="87.2" x2="328.15000000000003" y2="86.1" stroke="#6a6a6a" stroke-width="0.4" />
<line x1="330.225" y1="87.2" x2="330.225" y2="86.1" stroke="#6a6a6a" stroke-width="0.4" />
<line x1="332.3" y1="87.2" x2="332.3" y2="86.1" stroke="#6a6a6a" stroke-width="0.4" />
<line x1="334.375" y1="87.2" x2="334.375" y2="86.1" stroke="#6a6a6a" stroke-width="0.4" />
<line x1="336.45000000000005" y1="87.2" x2="336.45000000000005" y2="86.1" stroke="#6a6a6a" stroke-width="0.4" />
<line x1="338.52500000000003" y1="87.2" x2="338.52500000000003" y2="86.1" stroke="#6a6a6a" stroke-width="0.4" />
<line x1="340.6" y1="87.2" x2="340.6" y2="86.1" stroke="#6a6a6a" stroke-width="0.4" />
<line x1="342.675" y1="87.2" x2="342.675" y2="86.1" stroke="#6a6a6a" stroke-width="0.4" />
<line x1="344.75" y1="87.2" x2="344.75" y2="86.1" stroke="#6a6a6a" stroke-width="0.4" />
<line x1="346.82500000000005" y1="87.2" x2="346.82500000000005" y2="86.1" stroke="#6a6a6a" stroke-width="0.4" />
<line x1="348.90000000000003" y1="87.2" x2="348.90000000000003" y2="86.1" stroke="#6a6a6a" stroke-width="0.4" />
<line x1="350.975" y1="87.2" x2="350.975" y2="86.1" stroke="#6a6a6a" stroke-width="0.4" />
<line x1="353.05" y1="87.2" x2="353.05" y2="86.1" stroke="#6a6a6a" stroke-width="0.4" />
<line x1="355.125" y1="87.2" x2="355.125" y2="86.1" stroke="#6a6a6a" stroke-width="0.4" />
<line x1="357.20000000000005" y1="87.2" x2="357.20000000000005" y2="86.1" stroke="#6a6a6a" stroke-width="0.4" />
<line x1="359.27500000000003" y1="87.2" x2="359.27500000000003" y2="86.1" stroke="#6a6a6a" stroke-width="0.4" />
<line x1="361.35" y1="87.2" x2="361.35" y2="86.1" stroke="#6a6a6a" stroke-width="0.4" />
<line x1="363.425" y1="87.2" x2="363.425" y2="86.1" stroke="#6a6a6a" stroke-width="0.4" />
<line x1="365.5" y1="87.2" x2="365.5" y2="86.1" stroke="#6a6a6a" stroke-width="0.4" />
<line x1="367.57500000000005" y1="87.2" x2="367.57500000000005" y2="86.1" stroke="#6a6a6a" stroke-width="0.4" />
<line x1="369.65000000000003" y1="87.2" x2="369.65000000000003" y2="86.1" stroke="#6a6a6a" stroke-width="0.4" />
<line x1="371.725" y1="87.2" x2="371.725" y2="86.1" stroke="#6a6a6a" stroke-width="0.4" />
<line x1="373.8" y1="87.2" x2="373.8" y2="86.1" stroke="#6a6a6a" stroke-width="0.4" />
<text x="304.8" y="28.0" font-size="10.0" font-family='"Liberation Serif", serif' font-weight="bold" text-anchor="start" fill="#000" >i</text>
<text x="296.4" y="17.6" font-size="4.0" font-family='"Liberation Sans", sans-serif' font-weight="normal" text-anchor="middle" fill="#484848" transform="rotate(-90 296.4 17.6)" >10<tspan font-size="2.8" dy="-1.4">4</tspan></text>
<text x="296.4" y="34.4" font-size="4.0" font-family='"Liberation Sans", sans-serif' font-weight="normal" text-anchor="middle" fill="#484848" transform="rotate(-90 296.4 34.4)" >10<tspan font-size="2.8" dy="-1.4">3</tspan></text>
<text x="296.4" y="51.2" font-size="4.0" font-family='"Liberation Sans", sans-serif' font-weight="normal" text-anchor="middle" fill="#484848" transform="rotate(-90 296.4 51.2)" >10<tspan font-size="2.8" dy="-1.4">2</tspan></text>
<text x="296.4" y="68.0" font-size="4.0" font-family='"Liberation Sans", sans-serif' font-weight="normal" text-anchor="middle" fill="#484848" transform="rotate(-90 296.4 68.0)" >10<tspan font-size="2.8" dy="-1.4">1</tspan></text>
<text x="296.4" y="84.8" font-size="4.0" font-family='"Liberation Sans", sans-serif' font-weight="normal" text-anchor="middle" fill="#484848" transform="rotate(-90 296.4 84.8)" >10<tspan font-size="2.8" dy="-1.4">0</tspan></text>
<text x="300" y="93.0" font-size="3.7" font-family='"Liberation Sans", sans-serif' font-weight="normal" text-anchor="middle" fill="#484848" >0</text>
<text x="314.6" y="93.0" font-size="3.7" font-family='"Liberation Sans", sans-serif' font-weight="normal" text-anchor="middle" fill="#484848" >200</text>
<text x="329" y="93.0" font-size="3.7" font-family='"Liberation Sans", sans-serif' font-weight="normal" text-anchor="middle" fill="#484848" >400</text>
<text x="342.8" y="93.0" font-size="3.7" font-family='"Liberation Sans", sans-serif' font-weight="normal" text-anchor="middle" fill="#484848" >600</text>
<text x="358" y="93.0" font-size="3.7" font-family='"Liberation Sans", sans-serif' font-weight="normal" text-anchor="middle" fill="#484848" >800</text>
<text x="372.3" y="93.0" font-size="3.7" font-family='"Liberation Sans", sans-serif' font-weight="normal" text-anchor="middle" fill="#484848" >1000</text>
<text x="288.4" y="58.3" font-size="6.8" font-family='"Liberation Serif", serif' font-weight="bold" text-anchor="middle" fill="#000" textLength="33.7" lengthAdjust="spacingAndGlyphs" transform="rotate(-90 288.4 58.3)" >Side scatter</text>
<text x="310.8" y="103.4" font-size="6.6" font-family='"Liberation Serif", serif' font-weight="bold" text-anchor="start" fill="#000" textLength="43.2" lengthAdjust="spacingAndGlyphs" >Forward scatter</text>
<path d="M317.8 55.1h0.8v0.8h-0.8zM307.1 59.5h0.8v0.8h-0.8zM312.2 53.1h0.8v0.8h-0.8zM316.8 57.2h0.8v0.8h-0.8zM325.8 52.7h0.8v0.8h-0.8zM325.5 43.3h0.8v0.8h-0.8zM310.6 53.4h0.8v0.8h-0.8zM325.2 47.8h0.8v0.8h-0.8zM317.3 51.0h0.8v0.8h-0.8zM319.4 53.3h0.8v0.8h-0.8zM326.0 51.2h0.8v0.8h-0.8zM308.2 52.6h0.8v0.8h-0.8zM334.3 48.4h0.8v0.8h-0.8zM312.6 55.1h0.8v0.8h-0.8zM299.5 53.9h0.8v0.8h-0.8zM327.5 52.0h0.8v0.8h-0.8zM315.0 54.0h0.8v0.8h-0.8zM314.9 56.0h0.8v0.8h-0.8zM305.0 58.2h0.8v0.8h-0.8zM310.4 61.4h0.8v0.8h-0.8zM315.9 53.0h0.8v0.8h-0.8zM310.0 57.6h0.8v0.8h-0.8zM306.4 56.3h0.8v0.8h-0.8zM313.1 50.7h0.8v0.8h-0.8zM323.2 57.0h0.8v0.8h-0.8zM313.6 58.5h0.8v0.8h-0.8zM316.6 49.7h0.8v0.8h-0.8zM320.8 55.4h0.8v0.8h-0.8zM323.4 54.6h0.8v0.8h-0.8zM320.6 52.4h0.8v0.8h-0.8zM319.8 47.6h0.8v0.8h-0.8zM320.1 54.4h0.8v0.8h-0.8zM313.6 61.1h0.8v0.8h-0.8zM313.2 55.3h0.8v0.8h-0.8zM313.5 55.7h0.8v0.8h-0.8zM321.8 54.5h0.8v0.8h-0.8zM321.8 49.7h0.8v0.8h-0.8zM306.5 54.2h0.8v0.8h-0.8zM317.0 55.3h0.8v0.8h-0.8zM316.3 57.3h0.8v0.8h-0.8zM313.6 57.3h0.8v0.8h-0.8zM318.9 57.9h0.8v0.8h-0.8zM306.9 61.0h0.8v0.8h-0.8zM318.5 56.1h0.8v0.8h-0.8zM320.6 59.2h0.8v0.8h-0.8zM313.9 57.7h0.8v0.8h-0.8zM323.2 54.9h0.8v0.8h-0.8zM313.0 60.6h0.8v0.8h-0.8zM305.5 60.6h0.8v0.8h-0.8zM315.2 61.8h0.8v0.8h-0.8zM319.3 57.3h0.8v0.8h-0.8zM314.2 53.5h0.8v0.8h-0.8zM311.7 58.9h0.8v0.8h-0.8zM323.4 56.7h0.8v0.8h-0.8zM322.2 54.3h0.8v0.8h-0.8zM320.1 58.2h0.8v0.8h-0.8zM309.6 49.2h0.8v0.8h-0.8zM302.9 57.1h0.8v0.8h-0.8zM322.7 49.1h0.8v0.8h-0.8zM322.1 50.6h0.8v0.8h-0.8zM323.2 53.6h0.8v0.8h-0.8zM312.8 49.5h0.8v0.8h-0.8zM323.6 51.8h0.8v0.8h-0.8zM319.5 48.7h0.8v0.8h-0.8zM311.8 57.7h0.8v0.8h-0.8zM315.0 52.8h0.8v0.8h-0.8zM315.4 50.6h0.8v0.8h-0.8zM319.9 45.9h0.8v0.8h-0.8zM317.3 55.2h0.8v0.8h-0.8zM323.0 47.6h0.8v0.8h-0.8zM313.0 58.6h0.8v0.8h-0.8zM302.0 63.4h0.8v0.8h-0.8zM315.7 49.5h0.8v0.8h-0.8zM315.0 46.8h0.8v0.8h-0.8zM314.1 56.9h0.8v0.8h-0.8zM311.9 54.9h0.8v0.8h-0.8zM313.8 50.8h0.8v0.8h-0.8zM315.6 55.8h0.8v0.8h-0.8zM316.0 53.3h0.8v0.8h-0.8zM325.1 47.9h0.8v0.8h-0.8zM329.8 51.3h0.8v0.8h-0.8zM314.1 58.0h0.8v0.8h-0.8zM318.2 52.0h0.8v0.8h-0.8zM303.7 65.5h0.8v0.8h-0.8zM303.3 58.4h0.8v0.8h-0.8zM342.6 48.1h0.8v0.8h-0.8zM303.3 51.9h0.8v0.8h-0.8zM318.9 54.2h0.8v0.8h-0.8zM313.2 61.5h0.8v0.8h-0.8zM334.6 50.6h0.8v0.8h-0.8zM321.5 49.3h0.8v0.8h-0.8zM305.2 60.7h0.8v0.8h-0.8zM310.0 54.6h0.8v0.8h-0.8zM311.1 56.2h0.8v0.8h-0.8zM321.1 51.8h0.8v0.8h-0.8zM321.8 48.0h0.8v0.8h-0.8zM306.3 57.3h0.8v0.8h-0.8zM321.4 48.7h0.8v0.8h-0.8zM320.2 55.5h0.8v0.8h-0.8zM321.7 53.5h0.8v0.8h-0.8zM313.9 64.4h0.8v0.8h-0.8zM300.4 60.5h0.8v0.8h-0.8zM322.8 51.9h0.8v0.8h-0.8zM325.9 63.5h0.8v0.8h-0.8zM331.7 64.3h0.8v0.8h-0.8zM326.2 65.2h0.8v0.8h-0.8zM310.4 69.0h0.8v0.8h-0.8zM300.9 73.1h0.8v0.8h-0.8zM334.7 63.2h0.8v0.8h-0.8zM329.8 64.6h0.8v0.8h-0.8zM306.8 75.0h0.8v0.8h-0.8zM310.3 74.9h0.8v0.8h-0.8zM329.6 66.0h0.8v0.8h-0.8zM308.1 67.2h0.8v0.8h-0.8zM328.6 65.7h0.8v0.8h-0.8zM328.3 65.8h0.8v0.8h-0.8zM314.7 68.5h0.8v0.8h-0.8zM333.1 66.5h0.8v0.8h-0.8zM338.8 67.3h0.8v0.8h-0.8zM335.5 60.7h0.8v0.8h-0.8zM341.5 60.5h0.8v0.8h-0.8zM327.6 64.6h0.8v0.8h-0.8zM326.4 66.1h0.8v0.8h-0.8zM331.4 64.9h0.8v0.8h-0.8zM307.7 71.5h0.8v0.8h-0.8zM318.6 68.3h0.8v0.8h-0.8zM309.5 71.5h0.8v0.8h-0.8zM320.2 67.1h0.8v0.8h-0.8zM308.0 71.7h0.8v0.8h-0.8zM326.3 67.7h0.8v0.8h-0.8zM326.6 62.3h0.8v0.8h-0.8zM321.1 68.0h0.8v0.8h-0.8zM324.0 69.9h0.8v0.8h-0.8zM321.9 65.9h0.8v0.8h-0.8zM316.7 70.0h0.8v0.8h-0.8zM312.8 69.2h0.8v0.8h-0.8zM331.6 65.4h0.8v0.8h-0.8zM300.6 70.6h0.8v0.8h-0.8zM340.1 63.0h0.8v0.8h-0.8zM316.2 69.0h0.8v0.8h-0.8zM322.3 66.7h0.8v0.8h-0.8zM324.8 68.5h0.8v0.8h-0.8zM315.5 71.5h0.8v0.8h-0.8zM333.9 64.8h0.8v0.8h-0.8zM323.9 66.8h0.8v0.8h-0.8zM323.0 67.7h0.8v0.8h-0.8zM329.0 66.8h0.8v0.8h-0.8zM350.2 60.5h0.8v0.8h-0.8zM321.9 68.5h0.8v0.8h-0.8zM316.9 69.0h0.8v0.8h-0.8zM321.6 64.8h0.8v0.8h-0.8zM314.2 67.3h0.8v0.8h-0.8zM323.1 67.8h0.8v0.8h-0.8zM327.3 67.5h0.8v0.8h-0.8zM319.4 67.6h0.8v0.8h-0.8zM315.6 69.1h0.8v0.8h-0.8zM313.1 64.7h0.8v0.8h-0.8zM318.7 68.0h0.8v0.8h-0.8zM310.0 68.5h0.8v0.8h-0.8zM310.9 70.8h0.8v0.8h-0.8zM325.8 64.9h0.8v0.8h-0.8zM311.2 71.9h0.8v0.8h-0.8zM335.9 65.1h0.8v0.8h-0.8zM325.8 67.6h0.8v0.8h-0.8zM327.9 62.5h0.8v0.8h-0.8zM307.9 71.8h0.8v0.8h-0.8zM328.1 68.0h0.8v0.8h-0.8zM300.5 70.1h0.8v0.8h-0.8zM329.8 63.4h0.8v0.8h-0.8zM322.4 68.1h0.8v0.8h-0.8zM326.5 65.7h0.8v0.8h-0.8zM320.2 69.9h0.8v0.8h-0.8zM344.2 63.4h0.8v0.8h-0.8zM314.9 64.9h0.8v0.8h-0.8zM307.8 71.0h0.8v0.8h-0.8zM340.7 63.0h0.8v0.8h-0.8zM329.2 63.6h0.8v0.8h-0.8zM318.2 66.7h0.8v0.8h-0.8zM319.4 69.5h0.8v0.8h-0.8zM324.1 61.5h0.8v0.8h-0.8zM332.0 69.1h0.8v0.8h-0.8zM319.4 66.6h0.8v0.8h-0.8zM324.0 64.9h0.8v0.8h-0.8zM332.0 65.2h0.8v0.8h-0.8zM338.8 65.8h0.8v0.8h-0.8zM324.7 67.8h0.8v0.8h-0.8zM332.2 65.7h0.8v0.8h-0.8zM314.8 68.6h0.8v0.8h-0.8zM316.5 63.8h0.8v0.8h-0.8zM326.2 67.3h0.8v0.8h-0.8zM325.3 68.2h0.8v0.8h-0.8zM313.5 69.7h0.8v0.8h-0.8zM301.4 70.2h0.8v0.8h-0.8zM317.4 67.6h0.8v0.8h-0.8zM309.6 69.8h0.8v0.8h-0.8zM314.3 68.7h0.8v0.8h-0.8zM315.5 69.7h0.8v0.8h-0.8zM313.3 69.6h0.8v0.8h-0.8zM327.0 66.3h0.8v0.8h-0.8zM322.2 69.5h0.8v0.8h-0.8zM315.5 67.0h0.8v0.8h-0.8zM334.7 59.0h0.8v0.8h-0.8zM356.7 45.7h0.8v0.8h-0.8zM359.7 41.5h0.8v0.8h-0.8zM368.5 42.3h0.8v0.8h-0.8zM361.4 39.4h0.8v0.8h-0.8zM359.1 38.7h0.8v0.8h-0.8zM369.6 40.7h0.8v0.8h-0.8zM357.0 39.0h0.8v0.8h-0.8zM370.1 42.4h0.8v0.8h-0.8zM357.1 47.2h0.8v0.8h-0.8zM348.5 41.9h0.8v0.8h-0.8zM366.2 37.9h0.8v0.8h-0.8zM362.0 43.0h0.8v0.8h-0.8zM363.7 42.1h0.8v0.8h-0.8zM362.2 40.3h0.8v0.8h-0.8zM370.8 39.0h0.8v0.8h-0.8zM361.0 40.4h0.8v0.8h-0.8zM365.4 40.4h0.8v0.8h-0.8zM358.6 43.2h0.8v0.8h-0.8zM371.3 38.8h0.8v0.8h-0.8zM357.9 41.2h0.8v0.8h-0.8zM363.3 40.7h0.8v0.8h-0.8zM373.0 35.9h0.8v0.8h-0.8zM357.6 42.6h0.8v0.8h-0.8zM356.3 41.9h0.8v0.8h-0.8zM367.4 36.7h0.8v0.8h-0.8zM361.6 42.7h0.8v0.8h-0.8zM367.3 39.9h0.8v0.8h-0.8zM364.1 38.2h0.8v0.8h-0.8zM363.8 42.8h0.8v0.8h-0.8zM369.0 42.5h0.8v0.8h-0.8zM361.5 41.1h0.8v0.8h-0.8zM361.1 41.1h0.8v0.8h-0.8zM364.7 44.2h0.8v0.8h-0.8zM361.1 42.0h0.8v0.8h-0.8zM353.4 38.7h0.8v0.8h-0.8zM360.0 36.4h0.8v0.8h-0.8zM356.1 39.8h0.8v0.8h-0.8zM365.7 41.3h0.8v0.8h-0.8zM370.4 42.9h0.8v0.8h-0.8zM367.0 39.6h0.8v0.8h-0.8zM352.7 44.3h0.8v0.8h-0.8zM361.4 39.3h0.8v0.8h-0.8zM373.7 38.0h0.8v0.8h-0.8zM371.6 40.7h0.8v0.8h-0.8zM356.1 41.9h0.8v0.8h-0.8zM354.0 41.2h0.8v0.8h-0.8zM364.5 39.9h0.8v0.8h-0.8zM369.6 38.6h0.8v0.8h-0.8zM339.0 48.7h0.8v0.8h-0.8zM330.8 54.7h0.8v0.8h-0.8zM362.1 46.6h0.8v0.8h-0.8zM336.1 48.8h0.8v0.8h-0.8zM331.9 53.1h0.8v0.8h-0.8zM342.8 46.1h0.8v0.8h-0.8zM338.6 47.8h0.8v0.8h-0.8zM347.2 49.7h0.8v0.8h-0.8zM336.3 54.2h0.8v0.8h-0.8zM334.2 54.2h0.8v0.8h-0.8zM339.8 50.0h0.8v0.8h-0.8zM331.3 55.5h0.8v0.8h-0.8zM333.6 56.0h0.8v0.8h-0.8zM337.7 48.2h0.8v0.8h-0.8zM335.1 49.1h0.8v0.8h-0.8zM321.5 56.2h0.8v0.8h-0.8zM347.9 51.6h0.8v0.8h-0.8zM321.0 54.0h0.8v0.8h-0.8zM340.1 55.0h0.8v0.8h-0.8zM318.6 52.7h0.8v0.8h-0.8zM351.2 44.8h0.8v0.8h-0.8zM330.1 51.7h0.8v0.8h-0.8zM342.5 47.4h0.8v0.8h-0.8zM334.3 54.2h0.8v0.8h-0.8zM342.2 49.2h0.8v0.8h-0.8zM347.8 45.8h0.8v0.8h-0.8zM339.6 46.4h0.8v0.8h-0.8zM339.5 50.0h0.8v0.8h-0.8zM322.3 53.3h0.8v0.8h-0.8zM332.1 58.5h0.8v0.8h-0.8zM345.7 51.8h0.8v0.8h-0.8zM345.6 53.4h0.8v0.8h-0.8zM339.8 49.0h0.8v0.8h-0.8zM346.1 47.3h0.8v0.8h-0.8zM346.7 46.6h0.8v0.8h-0.8zM337.3 48.5h0.8v0.8h-0.8zM329.7 54.1h0.8v0.8h-0.8zM344.8 48.8h0.8v0.8h-0.8zM338.4 46.3h0.8v0.8h-0.8zM355.8 45.5h0.8v0.8h-0.8zM336.0 51.1h0.8v0.8h-0.8zM357.6 45.9h0.8v0.8h-0.8zM333.3 49.5h0.8v0.8h-0.8zM351.3 49.5h0.8v0.8h-0.8zM344.1 49.1h0.8v0.8h-0.8zM343.3 52.0h0.8v0.8h-0.8zM352.2 44.5h0.8v0.8h-0.8zM352.0 47.0h0.8v0.8h-0.8zM326.9 50.9h0.8v0.8h-0.8zM326.9 52.3h0.8v0.8h-0.8zM341.7 49.2h0.8v0.8h-0.8zM343.0 47.0h0.8v0.8h-0.8zM342.3 44.1h0.8v0.8h-0.8zM339.2 51.8h0.8v0.8h-0.8zM338.8 50.4h0.8v0.8h-0.8zM333.0 51.1h0.8v0.8h-0.8zM325.9 55.7h0.8v0.8h-0.8zM348.8 45.2h0.8v0.8h-0.8zM322.1 57.4h0.8v0.8h-0.8zM326.4 48.8h0.8v0.8h-0.8zM336.5 50.9h0.8v0.8h-0.8zM345.9 47.0h0.8v0.8h-0.8zM321.6 52.8h0.8v0.8h-0.8zM348.6 48.2h0.8v0.8h-0.8zM325.3 52.7h0.8v0.8h-0.8zM334.6 52.7h0.8v0.8h-0.8zM341.4 48.7h0.8v0.8h-0.8zM340.2 51.1h0.8v0.8h-0.8zM337.7 47.6h0.8v0.8h-0.8zM334.1 47.8h0.8v0.8h-0.8zM330.5 47.3h0.8v0.8h-0.8zM346.0 49.6h0.8v0.8h-0.8zM337.2 54.1h0.8v0.8h-0.8zM358.0 50.0h0.8v0.8h-0.8zM332.3 55.9h0.8v0.8h-0.8zM349.6 51.0h0.8v0.8h-0.8zM336.4 50.6h0.8v0.8h-0.8zM346.8 51.2h0.8v0.8h-0.8zM338.1 49.3h0.8v0.8h-0.8zM336.2 51.3h0.8v0.8h-0.8zM314.0 53.7h0.8v0.8h-0.8zM344.2 53.0h0.8v0.8h-0.8zM334.1 52.2h0.8v0.8h-0.8zM348.3 52.1h0.8v0.8h-0.8zM328.5 55.5h0.8v0.8h-0.8zM337.6 53.8h0.8v0.8h-0.8zM345.2 54.2h0.8v0.8h-0.8zM356.6 44.3h0.8v0.8h-0.8zM336.3 52.7h0.8v0.8h-0.8zM363.6 45.2h0.8v0.8h-0.8zM329.3 69.9h0.8v0.8h-0.8zM347.1 81.3h0.8v0.8h-0.8zM349.5 33.2h0.8v0.8h-0.8zM331.8 30.9h0.8v0.8h-0.8zM360.4 70.7h0.8v0.8h-0.8zM309.1 54.8h0.8v0.8h-0.8zM357.2 48.9h0.8v0.8h-0.8zM339.3 32.0h0.8v0.8h-0.8zM338.9 31.5h0.8v0.8h-0.8zM367.3 77.8h0.8v0.8h-0.8zM333.3 83.2h0.8v0.8h-0.8zM315.8 83.7h0.8v0.8h-0.8zM347.3 53.6h0.8v0.8h-0.8zM368.1 77.1h0.8v0.8h-0.8zM354.0 44.4h0.8v0.8h-0.8zM306.7 76.6h0.8v0.8h-0.8zM338.4 61.6h0.8v0.8h-0.8zM327.1 64.4h0.8v0.8h-0.8zM319.4 71.7h0.8v0.8h-0.8zM344.7 73.8h0.8v0.8h-0.8zM330.6 64.4h0.8v0.8h-0.8zM322.7 31.8h0.8v0.8h-0.8zM320.7 51.9h0.8v0.8h-0.8zM315.2 55.2h0.8v0.8h-0.8zM331.8 32.8h0.8v0.8h-0.8z" fill="#000" fill-opacity="0.4"/>
<ellipse cx="341" cy="45.8" rx="12.4" ry="4.0" transform="rotate(-16 341 45.8)" fill="#151515"/>
<path d="M348.7 44.5h0.8v0.8h-0.8zM338.5 46.0h0.8v0.8h-0.8zM342.8 47.3h0.8v0.8h-0.8zM337.9 46.8h0.8v0.8h-0.8zM345.2 44.3h0.8v0.8h-0.8zM342.1 42.6h0.8v0.8h-0.8zM345.7 42.5h0.8v0.8h-0.8zM332.7 48.6h0.8v0.8h-0.8zM346.1 48.8h0.8v0.8h-0.8zM348.5 45.7h0.8v0.8h-0.8zM328.7 50.0h0.8v0.8h-0.8zM332.7 48.7h0.8v0.8h-0.8zM339.1 44.9h0.8v0.8h-0.8zM353.9 43.0h0.8v0.8h-0.8zM344.9 48.0h0.8v0.8h-0.8zM341.7 47.2h0.8v0.8h-0.8zM353.3 41.4h0.8v0.8h-0.8zM341.9 47.3h0.8v0.8h-0.8zM350.3 43.4h0.8v0.8h-0.8zM331.7 48.8h0.8v0.8h-0.8zM343.8 47.9h0.8v0.8h-0.8zM346.9 44.3h0.8v0.8h-0.8zM338.5 49.4h0.8v0.8h-0.8zM336.9 43.9h0.8v0.8h-0.8zM334.8 45.8h0.8v0.8h-0.8zM349.0 40.9h0.8v0.8h-0.8zM343.5 46.3h0.8v0.8h-0.8zM346.9 49.5h0.8v0.8h-0.8zM338.6 50.6h0.8v0.8h-0.8zM341.1 47.4h0.8v0.8h-0.8zM340.3 46.7h0.8v0.8h-0.8zM343.3 42.6h0.8v0.8h-0.8zM341.6 48.0h0.8v0.8h-0.8zM330.6 44.9h0.8v0.8h-0.8zM335.4 45.2h0.8v0.8h-0.8zM348.3 46.2h0.8v0.8h-0.8zM348.8 40.9h0.8v0.8h-0.8zM340.1 47.1h0.8v0.8h-0.8zM345.5 49.6h0.8v0.8h-0.8zM334.5 42.7h0.8v0.8h-0.8zM338.3 45.3h0.8v0.8h-0.8zM331.2 47.0h0.8v0.8h-0.8zM325.3 48.3h0.8v0.8h-0.8zM341.2 48.0h0.8v0.8h-0.8zM345.8 43.5h0.8v0.8h-0.8zM330.9 49.8h0.8v0.8h-0.8zM339.7 49.8h0.8v0.8h-0.8zM329.7 45.8h0.8v0.8h-0.8zM338.4 45.2h0.8v0.8h-0.8zM348.8 43.4h0.8v0.8h-0.8zM347.5 44.9h0.8v0.8h-0.8zM343.6 44.7h0.8v0.8h-0.8zM349.4 44.9h0.8v0.8h-0.8zM336.7 44.0h0.8v0.8h-0.8zM349.7 46.0h0.8v0.8h-0.8zM346.6 44.0h0.8v0.8h-0.8zM345.2 44.6h0.8v0.8h-0.8zM337.5 48.5h0.8v0.8h-0.8zM343.5 42.8h0.8v0.8h-0.8zM347.0 48.6h0.8v0.8h-0.8zM354.2 43.6h0.8v0.8h-0.8zM329.4 47.8h0.8v0.8h-0.8zM325.7 49.4h0.8v0.8h-0.8zM344.4 45.1h0.8v0.8h-0.8zM344.5 42.6h0.8v0.8h-0.8zM346.7 45.2h0.8v0.8h-0.8zM343.5 46.1h0.8v0.8h-0.8zM341.4 46.7h0.8v0.8h-0.8zM339.4 48.4h0.8v0.8h-0.8zM331.3 49.2h0.8v0.8h-0.8zM325.8 48.7h0.8v0.8h-0.8zM347.8 45.6h0.8v0.8h-0.8zM346.3 44.6h0.8v0.8h-0.8zM348.2 45.8h0.8v0.8h-0.8zM333.7 46.3h0.8v0.8h-0.8zM346.5 48.8h0.8v0.8h-0.8zM335.2 45.0h0.8v0.8h-0.8zM348.5 47.2h0.8v0.8h-0.8zM338.9 42.2h0.8v0.8h-0.8zM339.6 47.2h0.8v0.8h-0.8zM344.9 42.2h0.8v0.8h-0.8zM342.5 48.7h0.8v0.8h-0.8zM339.6 47.5h0.8v0.8h-0.8zM348.5 42.7h0.8v0.8h-0.8zM339.2 45.2h0.8v0.8h-0.8zM353.3 43.9h0.8v0.8h-0.8zM327.2 46.5h0.8v0.8h-0.8zM335.4 52.0h0.8v0.8h-0.8zM343.9 47.3h0.8v0.8h-0.8zM341.4 42.7h0.8v0.8h-0.8zM344.7 47.5h0.8v0.8h-0.8zM338.9 45.6h0.8v0.8h-0.8zM342.1 41.4h0.8v0.8h-0.8zM339.0 47.5h0.8v0.8h-0.8zM350.1 44.5h0.8v0.8h-0.8zM342.7 49.2h0.8v0.8h-0.8zM333.2 50.1h0.8v0.8h-0.8zM331.5 48.4h0.8v0.8h-0.8zM339.9 47.4h0.8v0.8h-0.8zM343.6 47.6h0.8v0.8h-0.8zM342.4 49.7h0.8v0.8h-0.8zM352.1 42.8h0.8v0.8h-0.8zM339.8 45.6h0.8v0.8h-0.8zM338.1 46.2h0.8v0.8h-0.8zM345.1 46.8h0.8v0.8h-0.8zM347.5 42.6h0.8v0.8h-0.8zM348.7 45.1h0.8v0.8h-0.8zM336.8 44.3h0.8v0.8h-0.8zM359.0 39.4h0.8v0.8h-0.8zM343.8 45.0h0.8v0.8h-0.8zM354.2 42.4h0.8v0.8h-0.8zM341.8 45.7h0.8v0.8h-0.8zM340.8 44.3h0.8v0.8h-0.8zM344.0 44.7h0.8v0.8h-0.8zM332.2 47.8h0.8v0.8h-0.8zM321.8 51.3h0.8v0.8h-0.8zM344.1 47.5h0.8v0.8h-0.8zM347.9 41.9h0.8v0.8h-0.8zM353.6 44.4h0.8v0.8h-0.8zM347.8 48.1h0.8v0.8h-0.8zM346.9 43.5h0.8v0.8h-0.8zM338.6 47.6h0.8v0.8h-0.8zM347.5 40.9h0.8v0.8h-0.8zM336.6 42.3h0.8v0.8h-0.8zM338.9 47.2h0.8v0.8h-0.8zM341.9 43.2h0.8v0.8h-0.8zM333.9 50.5h0.8v0.8h-0.8zM332.4 47.6h0.8v0.8h-0.8zM340.1 44.9h0.8v0.8h-0.8zM340.4 45.4h0.8v0.8h-0.8zM345.4 46.2h0.8v0.8h-0.8zM336.0 45.4h0.8v0.8h-0.8zM339.2 45.4h0.8v0.8h-0.8zM343.3 42.6h0.8v0.8h-0.8zM335.2 46.6h0.8v0.8h-0.8zM332.3 53.5h0.8v0.8h-0.8zM359.3 45.7h0.8v0.8h-0.8zM338.1 48.0h0.8v0.8h-0.8zM342.0 43.7h0.8v0.8h-0.8zM346.4 46.2h0.8v0.8h-0.8zM338.2 48.4h0.8v0.8h-0.8zM335.6 49.2h0.8v0.8h-0.8zM343.1 45.6h0.8v0.8h-0.8zM356.7 40.8h0.8v0.8h-0.8zM336.0 48.1h0.8v0.8h-0.8zM340.0 47.0h0.8v0.8h-0.8zM332.6 50.9h0.8v0.8h-0.8zM345.9 44.4h0.8v0.8h-0.8zM336.8 47.1h0.8v0.8h-0.8zM334.8 46.3h0.8v0.8h-0.8zM331.1 49.2h0.8v0.8h-0.8zM341.6 45.1h0.8v0.8h-0.8zM349.1 40.0h0.8v0.8h-0.8zM341.4 42.5h0.8v0.8h-0.8zM344.9 49.8h0.8v0.8h-0.8zM333.6 45.9h0.8v0.8h-0.8zM342.9 48.5h0.8v0.8h-0.8zM338.2 51.1h0.8v0.8h-0.8zM349.2 42.4h0.8v0.8h-0.8zM338.8 42.1h0.8v0.8h-0.8z" fill="#000" fill-opacity="0.7"/>
<ellipse cx="342.1" cy="45.7" rx="15.4" ry="5.4" transform="rotate(-18 342.1 45.7)" fill="none" stroke="#1a1a1a" stroke-width="0.85"/>
<line x1="287.5" y1="113.4" x2="287.5" y2="278.1" stroke="#000" stroke-width="1.2" />
<path d="M285.5,116.2 L287.5,108.4 L289.5,116.2 Z" fill="#000"/>
<line x1="286.9" y1="186.5" x2="513.0" y2="186.5" stroke="#000" stroke-width="1.2" />
<path d="M510.2,184.5 L518.0,186.5 L510.2,188.5 Z" fill="#000"/>
<line x1="286.9" y1="277.6" x2="512.7" y2="277.6" stroke="#000" stroke-width="1.2" />
<path d="M509.90000000000003,275.6 L517.7,277.6 L509.90000000000003,279.6 Z" fill="#000"/>
<rect x="296.80" y="115.20" width="209.30" height="60.00" fill="none" stroke="#707070" stroke-width="0.9" />
<line x1="295.5" y1="115.2" x2="296.8" y2="115.2" stroke="#6a6a6a" stroke-width="0.45" />
<line x1="295.5" y1="117.2" x2="296.8" y2="117.2" stroke="#6a6a6a" stroke-width="0.45" />
<line x1="295.5" y1="119.2" x2="296.8" y2="119.2" stroke="#6a6a6a" stroke-width="0.45" />
<line x1="295.5" y1="121.2" x2="296.8" y2="121.2" stroke="#6a6a6a" stroke-width="0.45" />
<line x1="295.5" y1="123.2" x2="296.8" y2="123.2" stroke="#6a6a6a" stroke-width="0.45" />
<line x1="295.5" y1="125.2" x2="296.8" y2="125.2" stroke="#6a6a6a" stroke-width="0.45" />
<line x1="295.5" y1="127.2" x2="296.8" y2="127.2" stroke="#6a6a6a" stroke-width="0.45" />
<line x1="295.5" y1="129.2" x2="296.8" y2="129.2" stroke="#6a6a6a" stroke-width="0.45" />
<line x1="295.5" y1="131.2" x2="296.8" y2="131.2" stroke="#6a6a6a" stroke-width="0.45" />
<line x1="295.5" y1="133.2" x2="296.8" y2="133.2" stroke="#6a6a6a" stroke-width="0.45" />
<line x1="295.5" y1="135.2" x2="296.8" y2="135.2" stroke="#6a6a6a" stroke-width="0.45" />
<line x1="295.5" y1="137.2" x2="296.8" y2="137.2" stroke="#6a6a6a" stroke-width="0.45" />
<line x1="295.5" y1="139.2" x2="296.8" y2="139.2" stroke="#6a6a6a" stroke-width="0.45" />
<line x1="295.5" y1="141.2" x2="296.8" y2="141.2" stroke="#6a6a6a" stroke-width="0.45" />
<line x1="295.5" y1="143.2" x2="296.8" y2="143.2" stroke="#6a6a6a" stroke-width="0.45" />
<line x1="295.5" y1="145.2" x2="296.8" y2="145.2" stroke="#6a6a6a" stroke-width="0.45" />
<line x1="295.5" y1="147.2" x2="296.8" y2="147.2" stroke="#6a6a6a" stroke-width="0.45" />
<line x1="295.5" y1="149.2" x2="296.8" y2="149.2" stroke="#6a6a6a" stroke-width="0.45" />
<line x1="295.5" y1="151.2" x2="296.8" y2="151.2" stroke="#6a6a6a" stroke-width="0.45" />
<line x1="295.5" y1="153.2" x2="296.8" y2="153.2" stroke="#6a6a6a" stroke-width="0.45" />
<line x1="295.5" y1="155.2" x2="296.8" y2="155.2" stroke="#6a6a6a" stroke-width="0.45" />
<line x1="295.5" y1="157.2" x2="296.8" y2="157.2" stroke="#6a6a6a" stroke-width="0.45" />
<line x1="295.5" y1="159.2" x2="296.8" y2="159.2" stroke="#6a6a6a" stroke-width="0.45" />
<line x1="295.5" y1="161.2" x2="296.8" y2="161.2" stroke="#6a6a6a" stroke-width="0.45" />
<line x1="295.5" y1="163.2" x2="296.8" y2="163.2" stroke="#6a6a6a" stroke-width="0.45" />
<line x1="295.5" y1="165.2" x2="296.8" y2="165.2" stroke="#6a6a6a" stroke-width="0.45" />
<line x1="295.5" y1="167.2" x2="296.8" y2="167.2" stroke="#6a6a6a" stroke-width="0.45" />
<line x1="295.5" y1="169.2" x2="296.8" y2="169.2" stroke="#6a6a6a" stroke-width="0.45" />
<line x1="295.5" y1="171.2" x2="296.8" y2="171.2" stroke="#6a6a6a" stroke-width="0.45" />
<line x1="295.5" y1="173.2" x2="296.8" y2="173.2" stroke="#6a6a6a" stroke-width="0.45" />
<line x1="295.5" y1="175.2" x2="296.8" y2="175.2" stroke="#6a6a6a" stroke-width="0.45" />
<line x1="298.0" y1="175.2" x2="298.0" y2="177.6" stroke="#6a6a6a" stroke-width="0.5" />
<line x1="313.5481992760446" y1="175.2" x2="313.5481992760446" y2="176.7" stroke="#6a6a6a" stroke-width="0.5" />
<line x1="322.64331280627056" y1="175.2" x2="322.64331280627056" y2="176.7" stroke="#6a6a6a" stroke-width="0.5" />
<line x1="329.0963985520893" y1="175.2" x2="329.0963985520893" y2="176.7" stroke="#6a6a6a" stroke-width="0.5" />
<line x1="334.10180072395536" y1="175.2" x2="334.10180072395536" y2="176.7" stroke="#6a6a6a" stroke-width="0.5" />
<line x1="338.19151208231517" y1="175.2" x2="338.19151208231517" y2="176.7" stroke="#6a6a6a" stroke-width="0.5" />
<line x1="341.6493137667364" y1="175.2" x2="341.6493137667364" y2="176.7" stroke="#6a6a6a" stroke-width="0.5" />
<line x1="344.6445978281339" y1="175.2" x2="344.6445978281339" y2="176.7" stroke="#6a6a6a" stroke-width="0.5" />
<line x1="347.2866256125411" y1="175.2" x2="347.2866256125411" y2="176.7" stroke="#6a6a6a" stroke-width="0.5" />
<line x1="349.65" y1="175.2" x2="349.65" y2="177.6" stroke="#6a6a6a" stroke-width="0.5" />
<line x1="365.19819927604465" y1="175.2" x2="365.19819927604465" y2="176.7" stroke="#6a6a6a" stroke-width="0.5" />
<line x1="374.2933128062706" y1="175.2" x2="374.2933128062706" y2="176.7" stroke="#6a6a6a" stroke-width="0.5" />
<line x1="380.74639855208926" y1="175.2" x2="380.74639855208926" y2="176.7" stroke="#6a6a6a" stroke-width="0.5" />
<line x1="385.7518007239554" y1="175.2" x2="385.7518007239554" y2="176.7" stroke="#6a6a6a" stroke-width="0.5" />
<line x1="389.8415120823152" y1="175.2" x2="389.8415120823152" y2="176.7" stroke="#6a6a6a" stroke-width="0.5" />
<line x1="393.29931376673636" y1="175.2" x2="393.29931376673636" y2="176.7" stroke="#6a6a6a" stroke-width="0.5" />
<line x1="396.2945978281339" y1="175.2" x2="396.2945978281339" y2="176.7" stroke="#6a6a6a" stroke-width="0.5" />
<line x1="398.9366256125411" y1="175.2" x2="398.9366256125411" y2="176.7" stroke="#6a6a6a" stroke-width="0.5" />
<line x1="401.3" y1="175.2" x2="401.3" y2="177.6" stroke="#6a6a6a" stroke-width="0.5" />
<line x1="416.8481992760446" y1="175.2" x2="416.8481992760446" y2="176.7" stroke="#6a6a6a" stroke-width="0.5" />
<line x1="425.94331280627057" y1="175.2" x2="425.94331280627057" y2="176.7" stroke="#6a6a6a" stroke-width="0.5" />
<line x1="432.3963985520893" y1="175.2" x2="432.3963985520893" y2="176.7" stroke="#6a6a6a" stroke-width="0.5" />
<line x1="437.4018007239554" y1="175.2" x2="437.4018007239554" y2="176.7" stroke="#6a6a6a" stroke-width="0.5" />
<line x1="441.49151208231524" y1="175.2" x2="441.49151208231524" y2="176.7" stroke="#6a6a6a" stroke-width="0.5" />
<line x1="444.9493137667364" y1="175.2" x2="444.9493137667364" y2="176.7" stroke="#6a6a6a" stroke-width="0.5" />
<line x1="447.94459782813385" y1="175.2" x2="447.94459782813385" y2="176.7" stroke="#6a6a6a" stroke-width="0.5" />
<line x1="450.5866256125411" y1="175.2" x2="450.5866256125411" y2="176.7" stroke="#6a6a6a" stroke-width="0.5" />
<line x1="452.95" y1="175.2" x2="452.95" y2="177.6" stroke="#6a6a6a" stroke-width="0.5" />
<line x1="468.4981992760446" y1="175.2" x2="468.4981992760446" y2="176.7" stroke="#6a6a6a" stroke-width="0.5" />
<line x1="477.59331280627055" y1="175.2" x2="477.59331280627055" y2="176.7" stroke="#6a6a6a" stroke-width="0.5" />
<line x1="484.0463985520893" y1="175.2" x2="484.0463985520893" y2="176.7" stroke="#6a6a6a" stroke-width="0.5" />
<line x1="489.05180072395535" y1="175.2" x2="489.05180072395535" y2="176.7" stroke="#6a6a6a" stroke-width="0.5" />
<line x1="493.1415120823152" y1="175.2" x2="493.1415120823152" y2="176.7" stroke="#6a6a6a" stroke-width="0.5" />
<line x1="496.5993137667364" y1="175.2" x2="496.5993137667364" y2="176.7" stroke="#6a6a6a" stroke-width="0.5" />
<line x1="499.5945978281339" y1="175.2" x2="499.5945978281339" y2="176.7" stroke="#6a6a6a" stroke-width="0.5" />
<line x1="502.2366256125411" y1="175.2" x2="502.2366256125411" y2="176.7" stroke="#6a6a6a" stroke-width="0.5" />
<text x="298.0" y="181.39999999999998" font-size="4.3" font-family='"Liberation Sans", sans-serif' font-weight="normal" text-anchor="middle" fill="#484848" >10<tspan font-size="2.9" dy="-1.4">0</tspan></text>
<text x="349.65" y="181.39999999999998" font-size="4.3" font-family='"Liberation Sans", sans-serif' font-weight="normal" text-anchor="middle" fill="#484848" >10<tspan font-size="2.9" dy="-1.4">1</tspan></text>
<text x="401.3" y="181.39999999999998" font-size="4.3" font-family='"Liberation Sans", sans-serif' font-weight="normal" text-anchor="middle" fill="#484848" >10<tspan font-size="2.9" dy="-1.4">2</tspan></text>
<text x="452.95" y="181.39999999999998" font-size="4.3" font-family='"Liberation Sans", sans-serif' font-weight="normal" text-anchor="middle" fill="#484848" >10<tspan font-size="2.9" dy="-1.4">3</tspan></text>
<text x="504.6" y="181.39999999999998" font-size="4.3" font-family='"Liberation Sans", sans-serif' font-weight="normal" text-anchor="middle" fill="#484848" >10<tspan font-size="2.9" dy="-1.4">4</tspan></text>
<text x="295.2" y="113.8" font-size="4.2" font-family='"Liberation Sans", sans-serif' font-weight="normal" text-anchor="middle" fill="#484848" transform="rotate(-90 295.2 113.8)" >250</text>
<text x="295.2" y="126.03999999999999" font-size="4.2" font-family='"Liberation Sans", sans-serif' font-weight="normal" text-anchor="middle" fill="#484848" transform="rotate(-90 295.2 126.03999999999999)" >200</text>
<text x="295.2" y="138.28" font-size="4.2" font-family='"Liberation Sans", sans-serif' font-weight="normal" text-anchor="middle" fill="#484848" transform="rotate(-90 295.2 138.28)" >150</text>
<text x="295.2" y="150.52" font-size="4.2" font-family='"Liberation Sans", sans-serif' font-weight="normal" text-anchor="middle" fill="#484848" transform="rotate(-90 295.2 150.52)" >100</text>
<text x="295.2" y="162.76" font-size="4.2" font-family='"Liberation Sans", sans-serif' font-weight="normal" text-anchor="middle" fill="#484848" transform="rotate(-90 295.2 162.76)" >50</text>
<text x="295.2" y="175.0" font-size="4.2" font-family='"Liberation Sans", sans-serif' font-weight="normal" text-anchor="middle" fill="#484848" transform="rotate(-90 295.2 175.0)" >0</text>
<text x="301.0" y="126.4" font-size="9.2" font-family='"Liberation Serif", serif' font-weight="bold" text-anchor="start" fill="#000" >ii</text>
<path d="M297.6,174.9 L297.7,166.3 L298.6,167.9 L299.2,172.0 L299.8,172.8 L300.3,172.3 L300.9,173.1 L301.4,173.0 L302.0,173.0 L302.6,173.1 L303.2,172.3 L303.8,172.9 L304.4,172.8 L305.0,172.7 L305.6,171.7 L306.2,170.8 L306.9,169.9 L307.5,168.0 L308.1,168.1 L308.7,165.5 L309.2,165.3 L309.8,164.2 L310.4,161.5 L311.0,160.5 L311.6,161.4 L312.1,159.8 L312.7,157.9 L313.3,158.2 L313.9,156.5 L314.5,156.1 L315.0,154.6 L315.6,154.8 L316.2,153.7 L316.8,151.0 L317.3,151.9 L317.9,150.5 L318.4,148.4 L319.0,148.4 L319.7,149.4 L320.3,148.1 L321.0,147.1 L321.6,148.4 L322.3,147.8 L322.9,148.3 L323.5,149.7 L324.1,150.1 L324.6,152.4 L325.2,154.3 L325.8,155.3 L326.4,156.3 L327.0,157.8 L327.5,159.4 L328.1,158.8 L328.7,160.6 L329.3,162.1 L329.8,162.3 L330.4,164.9 L330.9,165.5 L331.5,166.3 L332.1,167.7 L332.7,170.4 L333.2,170.0 L333.8,171.5 L334.4,172.6 L335.0,172.2 L335.5,172.1 L336.1,173.0 L336.6,172.2 L337.2,172.7 L337.8,173.3 L338.3,173.0 L338.9,173.3 L339.4,173.2 L340.0,173.4 L340.6,173.1 L341.1,173.5 L341.7,173.1 L342.2,173.5 L342.8,173.6 L343.3,173.0 L343.9,173.5 L344.4,173.0 L345.0,173.1 L345.6,173.4 L346.1,173.5 L346.7,173.4 L347.2,173.1 L347.8,173.6 L348.3,173.2 L348.9,173.3 L349.4,173.7 L350.0,173.3 L350.6,173.2 L351.1,173.2 L351.7,173.2 L352.2,173.6 L352.8,173.2 L353.3,173.1 L353.9,173.1 L354.4,173.5 L355.0,173.4 L355.6,173.4 L356.1,173.2 L356.7,173.5 L357.2,173.6 L357.8,173.7 L358.3,173.2 L358.9,173.5 L359.4,173.3 L360.0,173.4 L360.6,173.3 L361.1,173.2 L361.7,173.6 L362.2,173.3 L362.8,173.1 L363.3,173.2 L363.9,173.3 L364.4,173.2 L365.0,173.5 L365.6,173.3 L366.1,173.4 L366.7,173.5 L367.2,173.7 L367.8,173.3 L368.3,173.4 L368.9,173.4 L369.4,173.5 L370.0,173.6 L370.6,173.2 L371.1,173.6 L371.7,173.3 L372.2,173.8 L372.8,173.5 L373.3,173.5 L373.9,173.5 L374.4,173.5 L375.0,173.5 L375.6,173.6 L376.1,173.4 L376.7,173.6 L377.2,173.7 L377.8,173.6 L378.3,173.7 L378.9,173.7 L379.4,173.5 L380.0,173.6 L380.6,173.8 L381.1,173.5 L381.7,173.8 L382.2,173.8 L382.8,173.6 L383.3,173.4 L383.9,173.6 L384.4,173.8 L385.0,173.9 L385.6,173.8 L386.1,173.8 L386.7,173.8 L387.2,173.7 L387.8,173.9 L388.3,173.9 L388.9,174.0 L389.4,174.0 L390.0,173.9 L390.6,173.9 L391.1,173.8 L391.7,173.9 L392.2,173.9 L392.8,174.1 L393.3,173.8 L393.9,173.8 L394.4,173.9 L395.0,173.9 L395.6,173.7 L396.1,174.0 L396.7,173.9 L397.2,174.0 L397.8,174.1 L398.3,173.8 L398.9,174.2 L399.4,174.1 L400.0,174.2 L400.6,173.9 L401.1,174.1 L401.7,174.1 L402.2,173.9 L402.8,173.9 L403.3,174.2 L403.9,174.2 L404.4,174.2 L405.0,174.1 L405.6,174.1 L406.1,174.1 L406.7,174.3 L407.2,174.1 L407.8,174.0 L408.3,174.3 L408.9,174.0 L409.4,174.2 L410.0,174.1 L410.6,174.3 L411.1,174.3 L411.7,174.1 L412.2,174.2 L412.8,174.2 L413.3,174.1 L413.9,174.3 L414.4,174.2 L415.0,174.2 L415.6,174.2 L416.1,174.1 L416.7,174.4 L417.2,174.4 L417.8,174.4 L418.3,174.2 L418.9,174.4 L419.4,174.2 L420.0,174.3 L420.6,174.4 L421.1,174.3 L421.7,174.2 L422.2,174.2 L422.8,174.3 L423.3,174.4 L423.9,174.3 L424.4,174.3 L425.0,174.3 L425.6,174.4 L426.1,174.4 L426.7,174.4 L427.2,174.4 L427.8,174.4 L428.3,174.4 L428.9,174.4 L429.4,174.4 L430.0,174.4 L430.6,174.4 L431.1,174.4 L431.7,174.4 L432.2,174.4 L432.8,174.4 L433.3,174.5 L433.9,174.4 L434.4,174.4 L435.0,174.5 L435.6,174.5 L436.1,174.4 L436.7,174.5 L437.2,174.5 L437.8,174.4 L438.3,174.5 L438.9,174.4 L439.4,174.6 L440.0,174.6 L440.6,174.5 L441.1,174.5 L441.7,174.5 L442.2,174.5 L442.8,174.5 L443.3,174.6 L443.9,174.5 L444.4,174.6 L445.0,174.5 L445.5,174.5 L446.1,174.6 L446.7,174.5 L447.2,174.5 L447.8,174.4 L448.3,174.4 L448.9,174.4 L449.4,174.5 L450.0,174.5 L450.5,174.4 L451.1,174.6 L451.6,174.5 L452.2,174.4 L452.8,174.5 L453.3,174.5 L453.9,174.5 L454.4,174.6 L455.0,174.6 L455.5,174.6 L456.1,174.6 L456.6,174.5 L457.2,174.4 L457.7,174.4 L458.3,174.4 L458.9,174.5 L459.4,174.6 L460.0,174.5 L460.5,174.5 L461.1,174.5 L461.6,174.4 L462.2,174.5 L462.7,174.5 L463.3,174.4 L463.8,174.4 L464.4,174.5 L465.0,174.5 L465.5,174.4 L466.1,174.5 L466.6,174.5 L467.2,174.4 L467.7,174.4 L468.3,174.5 L468.8,174.5 L469.4,174.5 L469.9,174.5 L470.5,174.5 L471.1,174.5 L471.6,174.5 L472.2,174.6 L472.7,174.6 L473.3,174.5 L473.8,174.4 L474.4,174.5 L474.9,174.5 L475.5,174.6 L476.1,174.5 L476.6,174.5 L477.2,174.4 L477.7,174.5 L478.3,174.5 L478.8,174.5 L479.4,174.5 L479.9,174.6 L480.5,174.4 L481.0,174.5 L481.6,174.5 L482.2,174.5 L482.7,174.5 L483.3,174.4 L483.8,174.4 L484.4,174.6 L484.9,174.5 L485.5,174.5 L486.0,174.4 L486.6,174.6 L487.1,174.5 L487.7,174.5 L488.3,174.4 L488.8,174.5 L489.4,174.5 L489.9,174.4 L490.5,174.5 L491.0,174.6 L491.6,174.5 L492.1,174.4 L492.7,174.4 L493.2,174.6 L493.8,174.5 L494.4,174.5 L494.9,174.6 L495.5,174.6 L496.0,174.6 L496.6,174.4 L497.1,174.5 L497.7,174.6 L498.2,174.5 L498.8,174.5 L499.3,174.6 L499.9,174.6 L500.5,174.6 L501.0,174.5 L501.6,174.4 L502.1,174.4 L502.7,174.6 L503.2,174.5 L503.8,174.5 L504.3,174.5 L504.9,174.5 L505.4,174.5 L506.0,174.5 L506.0,174.9 L506,174.9 L297.6,174.9 Z" fill="#000"/>
<path d="M440.0,174.9 L440.6,174.9 L441.1,174.8 L441.7,174.8 L442.3,174.8 L442.9,174.8 L443.4,174.8 L444.0,174.7 L444.6,174.7 L445.1,174.7 L445.7,174.7 L446.3,174.7 L446.9,174.6 L447.4,174.6 L448.0,174.5 L448.6,174.5 L449.1,174.5 L449.7,174.5 L450.3,174.5 L450.9,174.4 L451.4,174.5 L452.0,174.4 L452.6,174.3 L453.1,174.1 L453.7,174.0 L454.2,173.8 L454.8,173.7 L455.3,173.4 L455.9,173.2 L456.4,173.3 L457.0,173.2 L457.6,171.7 L458.2,170.6 L458.8,169.6 L459.4,168.5 L460.0,166.7 L460.6,164.7 L461.2,162.6 L461.8,161.1 L462.4,158.0 L463.0,156.6 L463.6,153.5 L464.2,149.8 L464.8,147.1 L465.4,143.8 L466.0,140.3 L466.6,137.9 L467.1,134.9 L467.7,132.9 L468.3,130.3 L468.9,129.3 L469.6,129.4 L470.2,129.8 L470.8,129.2 L471.5,130.4 L472.3,130.2 L473.0,131.7 L473.6,136.0 L474.2,138.8 L474.8,143.3 L475.4,146.6 L476.0,150.8 L476.6,154.1 L477.3,158.0 L477.9,161.9 L478.5,165.4 L479.1,167.4 L479.7,168.4 L480.3,169.7 L480.9,171.5 L481.5,173.1 L482.1,173.4 L482.7,173.7 L483.4,173.9 L484.0,174.2 L484.6,174.6 L485.2,174.6 L485.8,174.7 L486.4,174.7 L487.0,174.7 L487.6,174.8 L488.2,174.8 L488.8,174.8 L489.4,174.9 L490.0,174.9" fill="none" stroke="#000" stroke-width="1.25" stroke-linejoin="round"/>
<line x1="296.8" y1="174.9" x2="506.2" y2="174.9" stroke="#111" stroke-width="1.0" />
<text x="389.8" y="195.6" font-size="9.0" font-family='"Liberation Serif", serif' font-weight="bold" text-anchor="start" fill="#000" textLength="21.9" lengthAdjust="spacingAndGlyphs" >CD16</text>
<rect x="296.80" y="206.40" width="209.50" height="59.70" fill="none" stroke="#707070" stroke-width="0.9" />
<line x1="295.5" y1="206.4" x2="296.8" y2="206.4" stroke="#6a6a6a" stroke-width="0.45" />
<line x1="295.5" y1="208.39000000000001" x2="296.8" y2="208.39000000000001" stroke="#6a6a6a" stroke-width="0.45" />
<line x1="295.5" y1="210.38" x2="296.8" y2="210.38" stroke="#6a6a6a" stroke-width="0.45" />
<line x1="295.5" y1="212.37" x2="296.8" y2="212.37" stroke="#6a6a6a" stroke-width="0.45" />
<line x1="295.5" y1="214.36" x2="296.8" y2="214.36" stroke="#6a6a6a" stroke-width="0.45" />
<line x1="295.5" y1="216.35000000000002" x2="296.8" y2="216.35000000000002" stroke="#6a6a6a" stroke-width="0.45" />
<line x1="295.5" y1="218.34" x2="296.8" y2="218.34" stroke="#6a6a6a" stroke-width="0.45" />
<line x1="295.5" y1="220.33" x2="296.8" y2="220.33" stroke="#6a6a6a" stroke-width="0.45" />
<line x1="295.5" y1="222.32000000000002" x2="296.8" y2="222.32000000000002" stroke="#6a6a6a" stroke-width="0.45" />
<line x1="295.5" y1="224.31" x2="296.8" y2="224.31" stroke="#6a6a6a" stroke-width="0.45" />
<line x1="295.5" y1="226.3" x2="296.8" y2="226.3" stroke="#6a6a6a" stroke-width="0.45" />
<line x1="295.5" y1="228.29000000000002" x2="296.8" y2="228.29000000000002" stroke="#6a6a6a" stroke-width="0.45" />
<line x1="295.5" y1="230.28" x2="296.8" y2="230.28" stroke="#6a6a6a" stroke-width="0.45" />
<line x1="295.5" y1="232.27" x2="296.8" y2="232.27" stroke="#6a6a6a" stroke-width="0.45" />
<line x1="295.5" y1="234.26000000000002" x2="296.8" y2="234.26000000000002" stroke="#6a6a6a" stroke-width="0.45" />
<line x1="295.5" y1="236.25" x2="296.8" y2="236.25" stroke="#6a6a6a" stroke-width="0.45" />
<line x1="295.5" y1="238.24" x2="296.8" y2="238.24" stroke="#6a6a6a" stroke-width="0.45" />
<line x1="295.5" y1="240.23000000000002" x2="296.8" y2="240.23000000000002" stroke="#6a6a6a" stroke-width="0.45" />
<line x1="295.5" y1="242.22000000000003" x2="296.8" y2="242.22000000000003" stroke="#6a6a6a" stroke-width="0.45" />
<line x1="295.5" y1="244.21000000000004" x2="296.8" y2="244.21000000000004" stroke="#6a6a6a" stroke-width="0.45" />
<line x1="295.5" y1="246.20000000000002" x2="296.8" y2="246.20000000000002" stroke="#6a6a6a" stroke-width="0.45" />
<line x1="295.5" y1="248.19" x2="296.8" y2="248.19" stroke="#6a6a6a" stroke-width="0.45" />
<line x1="295.5" y1="250.18" x2="296.8" y2="250.18" stroke="#6a6a6a" stroke-width="0.45" />
<line x1="295.5" y1="252.17000000000002" x2="296.8" y2="252.17000000000002" stroke="#6a6a6a" stroke-width="0.45" />
<line x1="295.5" y1="254.16000000000003" x2="296.8" y2="254.16000000000003" stroke="#6a6a6a" stroke-width="0.45" />
<line x1="295.5" y1="256.15000000000003" x2="296.8" y2="256.15000000000003" stroke="#6a6a6a" stroke-width="0.45" />
<line x1="295.5" y1="258.14000000000004" x2="296.8" y2="258.14000000000004" stroke="#6a6a6a" stroke-width="0.45" />
<line x1="295.5" y1="260.13" x2="296.8" y2="260.13" stroke="#6a6a6a" stroke-width="0.45" />
<line x1="295.5" y1="262.12" x2="296.8" y2="262.12" stroke="#6a6a6a" stroke-width="0.45" />
<line x1="295.5" y1="264.11" x2="296.8" y2="264.11" stroke="#6a6a6a" stroke-width="0.45" />
<line x1="295.5" y1="266.1" x2="296.8" y2="266.1" stroke="#6a6a6a" stroke-width="0.45" />
<line x1="298.0" y1="266.1" x2="298.0" y2="268.5" stroke="#6a6a6a" stroke-width="0.5" />
<line x1="313.5481992760446" y1="266.1" x2="313.5481992760446" y2="267.6" stroke="#6a6a6a" stroke-width="0.5" />
<line x1="322.64331280627056" y1="266.1" x2="322.64331280627056" y2="267.6" stroke="#6a6a6a" stroke-width="0.5" />
<line x1="329.0963985520893" y1="266.1" x2="329.0963985520893" y2="267.6" stroke="#6a6a6a" stroke-width="0.5" />
<line x1="334.10180072395536" y1="266.1" x2="334.10180072395536" y2="267.6" stroke="#6a6a6a" stroke-width="0.5" />
<line x1="338.19151208231517" y1="266.1" x2="338.19151208231517" y2="267.6" stroke="#6a6a6a" stroke-width="0.5" />
<line x1="341.6493137667364" y1="266.1" x2="341.6493137667364" y2="267.6" stroke="#6a6a6a" stroke-width="0.5" />
<line x1="344.6445978281339" y1="266.1" x2="344.6445978281339" y2="267.6" stroke="#6a6a6a" stroke-width="0.5" />
<line x1="347.2866256125411" y1="266.1" x2="347.2866256125411" y2="267.6" stroke="#6a6a6a" stroke-width="0.5" />
<line x1="349.65" y1="266.1" x2="349.65" y2="268.5" stroke="#6a6a6a" stroke-width="0.5" />
<line x1="365.19819927604465" y1="266.1" x2="365.19819927604465" y2="267.6" stroke="#6a6a6a" stroke-width="0.5" />
<line x1="374.2933128062706" y1="266.1" x2="374.2933128062706" y2="267.6" stroke="#6a6a6a" stroke-width="0.5" />
<line x1="380.74639855208926" y1="266.1" x2="380.74639855208926" y2="267.6" stroke="#6a6a6a" stroke-width="0.5" />
<line x1="385.7518007239554" y1="266.1" x2="385.7518007239554" y2="267.6" stroke="#6a6a6a" stroke-width="0.5" />
<line x1="389.8415120823152" y1="266.1" x2="389.8415120823152" y2="267.6" stroke="#6a6a6a" stroke-width="0.5" />
<line x1="393.29931376673636" y1="266.1" x2="393.29931376673636" y2="267.6" stroke="#6a6a6a" stroke-width="0.5" />
<line x1="396.2945978281339" y1="266.1" x2="396.2945978281339" y2="267.6" stroke="#6a6a6a" stroke-width="0.5" />
<line x1="398.9366256125411" y1="266.1" x2="398.9366256125411" y2="267.6" stroke="#6a6a6a" stroke-width="0.5" />
<line x1="401.3" y1="266.1" x2="401.3" y2="268.5" stroke="#6a6a6a" stroke-width="0.5" />
<line x1="416.8481992760446" y1="266.1" x2="416.8481992760446" y2="267.6" stroke="#6a6a6a" stroke-width="0.5" />
<line x1="425.94331280627057" y1="266.1" x2="425.94331280627057" y2="267.6" stroke="#6a6a6a" stroke-width="0.5" />
<line x1="432.3963985520893" y1="266.1" x2="432.3963985520893" y2="267.6" stroke="#6a6a6a" stroke-width="0.5" />
<line x1="437.4018007239554" y1="266.1" x2="437.4018007239554" y2="267.6" stroke="#6a6a6a" stroke-width="0.5" />
<line x1="441.49151208231524" y1="266.1" x2="441.49151208231524" y2="267.6" stroke="#6a6a6a" stroke-width="0.5" />
<line x1="444.9493137667364" y1="266.1" x2="444.9493137667364" y2="267.6" stroke="#6a6a6a" stroke-width="0.5" />
<line x1="447.94459782813385" y1="266.1" x2="447.94459782813385" y2="267.6" stroke="#6a6a6a" stroke-width="0.5" />
<line x1="450.5866256125411" y1="266.1" x2="450.5866256125411" y2="267.6" stroke="#6a6a6a" stroke-width="0.5" />
<line x1="452.95" y1="266.1" x2="452.95" y2="268.5" stroke="#6a6a6a" stroke-width="0.5" />
<line x1="468.4981992760446" y1="266.1" x2="468.4981992760446" y2="267.6" stroke="#6a6a6a" stroke-width="0.5" />
<line x1="477.59331280627055" y1="266.1" x2="477.59331280627055" y2="267.6" stroke="#6a6a6a" stroke-width="0.5" />
<line x1="484.0463985520893" y1="266.1" x2="484.0463985520893" y2="267.6" stroke="#6a6a6a" stroke-width="0.5" />
<line x1="489.05180072395535" y1="266.1" x2="489.05180072395535" y2="267.6" stroke="#6a6a6a" stroke-width="0.5" />
<line x1="493.1415120823152" y1="266.1" x2="493.1415120823152" y2="267.6" stroke="#6a6a6a" stroke-width="0.5" />
<line x1="496.5993137667364" y1="266.1" x2="496.5993137667364" y2="267.6" stroke="#6a6a6a" stroke-width="0.5" />
<line x1="499.5945978281339" y1="266.1" x2="499.5945978281339" y2="267.6" stroke="#6a6a6a" stroke-width="0.5" />
<line x1="502.2366256125411" y1="266.1" x2="502.2366256125411" y2="267.6" stroke="#6a6a6a" stroke-width="0.5" />
<text x="298.0" y="272.3" font-size="4.3" font-family='"Liberation Sans", sans-serif' font-weight="normal" text-anchor="middle" fill="#484848" >10<tspan font-size="2.9" dy="-1.4">0</tspan></text>
<text x="349.65" y="272.3" font-size="4.3" font-family='"Liberation Sans", sans-serif' font-weight="normal" text-anchor="middle" fill="#484848" >10<tspan font-size="2.9" dy="-1.4">1</tspan></text>
<text x="401.3" y="272.3" font-size="4.3" font-family='"Liberation Sans", sans-serif' font-weight="normal" text-anchor="middle" fill="#484848" >10<tspan font-size="2.9" dy="-1.4">2</tspan></text>
<text x="452.95" y="272.3" font-size="4.3" font-family='"Liberation Sans", sans-serif' font-weight="normal" text-anchor="middle" fill="#484848" >10<tspan font-size="2.9" dy="-1.4">3</tspan></text>
<text x="504.6" y="272.3" font-size="4.3" font-family='"Liberation Sans", sans-serif' font-weight="normal" text-anchor="middle" fill="#484848" >10<tspan font-size="2.9" dy="-1.4">4</tspan></text>
<text x="295.2" y="204.9" font-size="4.2" font-family='"Liberation Sans", sans-serif' font-weight="normal" text-anchor="middle" fill="#484848" transform="rotate(-90 295.2 204.9)" >150</text>
<text x="295.2" y="216.98000000000002" font-size="4.2" font-family='"Liberation Sans", sans-serif' font-weight="normal" text-anchor="middle" fill="#484848" transform="rotate(-90 295.2 216.98000000000002)" >120</text>
<text x="295.2" y="229.06" font-size="4.2" font-family='"Liberation Sans", sans-serif' font-weight="normal" text-anchor="middle" fill="#484848" transform="rotate(-90 295.2 229.06)" >90</text>
<text x="295.2" y="241.14000000000001" font-size="4.2" font-family='"Liberation Sans", sans-serif' font-weight="normal" text-anchor="middle" fill="#484848" transform="rotate(-90 295.2 241.14000000000001)" >60</text>
<text x="295.2" y="253.22000000000003" font-size="4.2" font-family='"Liberation Sans", sans-serif' font-weight="normal" text-anchor="middle" fill="#484848" transform="rotate(-90 295.2 253.22000000000003)" >30</text>
<text x="295.2" y="265.3" font-size="4.2" font-family='"Liberation Sans", sans-serif' font-weight="normal" text-anchor="middle" fill="#484848" transform="rotate(-90 295.2 265.3)" >0</text>
<text x="301.0" y="215.4" font-size="9.2" font-family='"Liberation Serif", serif' font-weight="bold" text-anchor="start" fill="#000" >iii</text>
<path d="M297.4,265.8 L297.4,246.0 L298.1,240.3 L298.8,236.1 L299.5,233.5 L300.1,229.9 L300.8,224.8 L301.4,223.6 L302.1,220.5 L302.7,218.7 L303.4,219.1 L304.2,216.9 L304.9,218.1 L305.6,221.5 L306.2,222.8 L306.9,227.8 L307.5,228.3 L308.1,233.5 L308.8,237.7 L309.4,243.9 L310.0,245.2 L310.7,247.9 L311.3,252.9 L312.0,254.4 L312.6,255.5 L313.3,258.0 L313.9,259.5 L314.6,259.4 L315.2,260.5 L315.8,258.6 L316.4,260.2 L316.9,258.2 L317.5,260.7 L318.1,260.9 L318.7,260.1 L319.2,260.1 L319.8,258.9 L320.4,260.8 L321.0,260.2 L321.5,261.2 L322.1,261.1 L322.7,258.9 L323.3,259.6 L323.8,258.5 L324.4,260.6 L325.0,258.7 L325.6,259.8 L326.1,258.8 L326.7,260.2 L327.3,259.2 L327.8,258.9 L328.4,259.6 L329.0,259.0 L329.5,260.5 L330.1,259.3 L330.7,260.9 L331.2,258.9 L331.8,259.1 L332.4,259.9 L332.9,261.3 L333.5,261.3 L334.1,259.1 L334.6,260.4 L335.1,260.9 L335.7,260.5 L336.2,260.3 L336.8,261.7 L337.4,259.7 L337.9,261.1 L338.4,259.8 L339.0,262.0 L339.6,262.0 L340.1,261.9 L340.7,261.1 L341.2,260.8 L341.8,261.4 L342.4,261.5 L342.9,261.3 L343.5,261.3 L344.1,262.3 L344.6,261.1 L345.2,261.4 L345.7,261.4 L346.3,261.8 L346.9,261.9 L347.4,262.3 L348.0,262.0 L348.6,263.0 L349.1,262.5 L349.7,262.0 L350.2,263.2 L350.8,262.6 L351.4,263.1 L351.9,262.2 L352.5,262.3 L353.1,262.6 L353.6,262.8 L354.2,262.4 L354.7,263.4 L355.3,262.4 L355.9,262.9 L356.4,263.1 L357.0,263.5 L357.6,263.4 L358.1,262.9 L358.7,263.4 L359.2,263.2 L359.8,262.8 L360.4,262.5 L360.9,263.7 L361.5,263.1 L362.1,263.3 L362.6,263.0 L363.2,263.9 L363.7,263.8 L364.3,263.0 L364.9,263.5 L365.4,263.0 L366.0,263.4 L366.6,263.4 L367.1,264.0 L367.7,264.1 L368.2,263.4 L368.8,263.4 L369.4,263.5 L369.9,263.7 L370.5,263.4 L371.0,263.8 L371.6,263.8 L372.2,263.9 L372.7,264.1 L373.3,263.9 L373.8,264.0 L374.4,263.7 L375.0,264.2 L375.5,263.9 L376.1,264.0 L376.6,264.2 L377.2,264.4 L377.8,264.3 L378.3,264.4 L378.9,264.5 L379.4,264.3 L380.0,264.3 L380.6,264.6 L381.1,264.6 L381.7,264.5 L382.2,264.7 L382.8,264.4 L383.3,264.5 L383.9,264.3 L384.4,264.6 L385.0,264.7 L385.6,264.7 L386.1,264.8 L386.7,264.5 L387.2,264.8 L387.8,264.8 L388.3,264.7 L388.9,264.8 L389.4,264.7 L390.0,264.8 L390.6,265.0 L391.1,264.6 L391.7,264.7 L392.2,264.8 L392.8,264.9 L393.3,265.1 L393.9,265.0 L394.4,265.1 L395.0,264.9 L395.6,265.0 L396.1,265.2 L396.7,265.1 L397.2,264.9 L397.8,265.0 L398.3,265.0 L398.9,265.2 L399.4,265.2 L400.0,265.0 L400.6,265.1 L401.1,265.2 L401.7,265.2 L402.2,265.3 L402.8,265.3 L403.3,265.3 L403.9,265.2 L404.4,265.3 L405.0,265.2 L405.6,265.1 L406.1,265.2 L406.7,265.3 L407.2,265.2 L407.8,265.2 L408.3,265.3 L408.9,265.4 L409.4,265.3 L410.0,265.2 L410.6,265.4 L411.1,265.4 L411.7,265.4 L412.2,265.4 L412.8,265.3 L413.3,265.3 L413.9,265.4 L414.4,265.5 L415.0,265.5 L415.6,265.5 L416.1,265.4 L416.7,265.5 L417.2,265.5 L417.8,265.4 L418.3,265.5 L418.9,265.6 L419.4,265.6 L420.0,265.6 L420.6,265.6 L421.1,265.6 L421.7,265.6 L422.2,265.6 L422.8,265.7 L423.3,265.6 L423.9,265.7 L424.4,265.6 L425.0,265.7 L425.6,265.7 L426.1,265.7 L426.7,265.7 L427.2,265.7 L427.8,265.7 L428.3,265.8 L428.9,265.8 L429.4,265.8 L430.0,265.8 L430,265.8 L297.4,265.8 Z" fill="#000"/>
<path d="M325.0,265.8 L325.6,265.5 L326.2,265.3 L326.8,265.0 L327.3,264.7 L327.9,264.4 L328.5,264.0 L329.1,263.9 L329.7,263.4 L330.2,263.5 L330.8,263.2 L331.4,262.6 L332.0,262.7 L332.6,261.7 L333.2,261.3 L333.8,260.9 L334.4,259.7 L335.0,257.0 L335.7,254.1 L336.3,251.3 L337.0,249.0 L337.6,245.5 L338.3,243.5 L338.9,240.1 L339.6,238.0 L340.2,235.4 L340.8,233.6 L341.4,232.2 L342.1,230.2 L342.7,228.3 L343.3,228.6 L343.9,228.0 L344.4,228.3 L345.0,228.1 L345.6,228.2 L346.3,227.6 L346.9,228.0 L347.5,229.0 L348.2,230.3 L348.8,231.3 L349.4,232.5 L350.0,233.4 L350.5,235.9 L351.1,236.6 L351.7,237.1 L352.3,239.1 L352.9,239.7 L353.4,241.0 L354.0,242.3 L354.6,243.6 L355.2,243.2 L355.7,244.7 L356.3,244.7 L356.8,244.7 L357.4,245.8 L357.9,246.8 L358.5,246.8 L359.1,247.9 L359.8,247.7 L360.4,249.3 L361.0,249.8 L361.7,249.6 L362.3,250.5 L362.9,250.9 L363.4,252.5 L364.0,252.6 L364.5,253.4 L365.1,253.1 L365.6,253.7 L366.2,255.3 L366.8,254.6 L367.3,255.4 L367.9,256.5 L368.4,256.9 L369.0,257.6 L369.6,258.1 L370.1,258.8 L370.6,258.6 L371.2,259.3 L371.8,259.2 L372.3,260.6 L372.9,260.8 L373.4,259.9 L374.0,260.4 L374.6,260.4 L375.2,261.0 L375.8,260.8 L376.3,261.4 L376.9,261.4 L377.5,261.4 L378.1,261.5 L378.6,261.8 L379.2,262.4 L379.8,262.2 L380.4,262.5 L380.9,262.7 L381.5,263.0 L382.1,263.4 L382.7,263.4 L383.2,263.3 L383.8,263.6 L384.4,263.2 L385.0,263.6 L385.6,263.8 L386.1,263.5 L386.7,264.0 L387.3,264.0 L387.9,264.2 L388.5,264.0 L389.1,264.1 L389.6,264.4 L390.2,264.3 L390.8,264.5 L391.4,264.5 L391.9,264.5 L392.5,264.5 L393.1,264.7 L393.6,264.6 L394.2,264.6 L394.7,264.7 L395.3,264.7 L395.9,264.8 L396.4,264.9 L397.0,264.9 L397.6,264.9 L398.1,264.8 L398.7,264.9 L399.2,264.9 L399.8,264.9 L400.4,265.0 L400.9,265.0 L401.5,265.1 L402.1,265.1 L402.6,265.1 L403.2,265.2 L403.7,265.2 L404.3,265.2 L404.9,265.3 L405.4,265.3 L406.0,265.3 L406.6,265.4 L407.1,265.3 L407.7,265.4 L408.2,265.4 L408.8,265.3 L409.3,265.4 L409.9,265.4 L410.5,265.4 L411.0,265.4 L411.6,265.4 L412.1,265.4 L412.7,265.5 L413.3,265.5 L413.8,265.5 L414.4,265.5 L414.9,265.5 L415.5,265.5 L416.0,265.5 L416.6,265.5 L417.2,265.5 L417.7,265.6 L418.3,265.6 L418.8,265.6 L419.4,265.6 L420.0,265.6 L420.5,265.6 L421.1,265.6 L421.6,265.6 L422.2,265.6 L422.7,265.6 L423.3,265.7 L423.9,265.7 L424.4,265.7 L425.0,265.7 L425.5,265.7 L426.1,265.7 L426.7,265.7 L427.2,265.7 L427.8,265.8 L428.3,265.8 L428.9,265.8 L429.4,265.8 L430.0,265.8 L430.6,265.8 L431.1,265.8 L431.7,265.8 L432.2,265.8 L432.8,265.8 L433.3,265.8 L433.9,265.8 L434.4,265.8 L435.0,265.8 L435.5,265.8 L436.1,265.8 L436.6,265.8 L437.2,265.8 L437.7,265.8 L438.3,265.8 L438.8,265.8 L439.4,265.8 L439.9,265.8 L440.5,265.8 L441.0,265.8 L441.6,265.8 L442.1,265.8 L442.7,265.8 L443.2,265.8 L443.8,265.8 L444.3,265.8 L444.9,265.8 L445.4,265.8 L446.0,265.8 L446.5,265.8 L447.1,265.8 L447.6,265.8 L448.2,265.8 L448.7,265.8 L449.3,265.8 L449.8,265.8 L450.4,265.8 L450.9,265.8 L451.5,265.8 L452.0,265.8 L452.6,265.8 L453.1,265.8 L453.7,265.8 L454.2,265.8 L454.8,265.8 L455.3,265.8 L455.9,265.8 L456.4,265.8 L457.0,265.8 L457.5,265.8 L458.1,265.8 L458.6,265.8 L459.2,265.8 L459.7,265.8 L460.3,265.8 L460.8,265.8 L461.4,265.8 L461.9,265.8 L462.5,265.8 L463.0,265.8 L463.6,265.8 L464.1,265.8 L464.7,265.8 L465.2,265.8 L465.8,265.8 L466.3,265.8 L466.9,265.8 L467.4,265.8 L468.0,265.8 L468.6,265.8 L469.1,265.8 L469.7,265.8 L470.2,265.8 L470.8,265.8 L471.3,265.8 L471.9,265.8 L472.4,265.8 L473.0,265.8 L473.5,265.8 L474.1,265.8 L474.6,265.8 L475.2,265.8 L475.7,265.8 L476.3,265.8 L476.8,265.8 L477.4,265.8 L477.9,265.8 L478.5,265.8 L479.0,265.8 L479.6,265.8 L480.1,265.8 L480.7,265.8 L481.2,265.8 L481.8,265.8 L482.3,265.8 L482.9,265.8 L483.4,265.8 L484.0,265.8 L484.5,265.8 L485.1,265.8 L485.6,265.8 L486.2,265.8 L486.7,265.8 L487.3,265.8 L487.8,265.8 L488.4,265.8 L488.9,265.8 L489.5,265.8 L490.0,265.8 L490.6,265.8 L491.1,265.8 L491.7,265.8 L492.2,265.8 L492.8,265.8 L493.3,265.8 L493.9,265.8 L494.4,265.8 L495.0,265.8 L495.5,265.8 L496.1,265.8 L496.6,265.8 L497.2,265.8 L497.7,265.8 L498.3,265.8 L498.8,265.8 L499.4,265.8 L499.9,265.8 L500.5,265.8 L501.0,265.8 L501.6,265.8 L502.1,265.8 L502.7,265.8 L503.2,265.8 L503.8,265.8 L504.3,265.8 L504.9,265.8 L505.4,265.8 L506.0,265.8" fill="none" stroke="#000" stroke-width="1.2" stroke-linejoin="round"/>
<line x1="296.8" y1="265.8" x2="506.2" y2="265.8" stroke="#111" stroke-width="1.0" />
<text x="379" y="287.4" font-size="9.0" font-family='"Liberation Serif", serif' font-weight="bold" text-anchor="start" fill="#000" textLength="54.2" lengthAdjust="spacingAndGlyphs" >Alemtuzumab</text>
<text x="284.3" y="190.5" font-size="8.4" font-family='"Liberation Serif", serif' font-weight="bold" text-anchor="middle" fill="#000" textLength="44" lengthAdjust="spacingAndGlyphs" transform="rotate(-90 284.3 190.5)" >Cell counts</text>
<text x="22.4" y="317.6" font-size="11.2" font-family='"Liberation Serif", serif' font-weight="bold" text-anchor="start" fill="#000" >i</text>
<text x="47.5" y="317.6" font-size="11.6" font-family='"Liberation Serif", serif' font-weight="bold" text-anchor="start" fill="#000" textLength="100.9" lengthAdjust="spacingAndGlyphs" >Rabbit Complement</text>
<line x1="20.6" y1="328.7" x2="20.6" y2="403.0" stroke="#000" stroke-width="1.0" />
<line x1="20.6" y1="402.5" x2="240.5" y2="402.5" stroke="#000" stroke-width="1.0" />
<line x1="18.6" y1="402.5" x2="20.6" y2="402.5" stroke="#000" stroke-width="0.8" />
<text x="18.400000000000002" y="404.2" font-size="4.8" font-family='"Liberation Sans", sans-serif' font-weight="bold" text-anchor="end" fill="#111" >0</text>
<line x1="18.6" y1="384.175" x2="20.6" y2="384.175" stroke="#000" stroke-width="0.8" />
<text x="18.400000000000002" y="385.875" font-size="4.8" font-family='"Liberation Sans", sans-serif' font-weight="bold" text-anchor="end" fill="#111" >25</text>
<line x1="18.6" y1="365.85" x2="20.6" y2="365.85" stroke="#000" stroke-width="0.8" />
<text x="18.400000000000002" y="367.55" font-size="4.8" font-family='"Liberation Sans", sans-serif' font-weight="bold" text-anchor="end" fill="#111" >50</text>
<line x1="18.6" y1="347.525" x2="20.6" y2="347.525" stroke="#000" stroke-width="0.8" />
<text x="18.400000000000002" y="349.22499999999997" font-size="4.8" font-family='"Liberation Sans", sans-serif' font-weight="bold" text-anchor="end" fill="#111" >75</text>
<line x1="18.6" y1="329.2" x2="20.6" y2="329.2" stroke="#000" stroke-width="0.8" />
<text x="18.400000000000002" y="330.9" font-size="4.8" font-family='"Liberation Sans", sans-serif' font-weight="bold" text-anchor="end" fill="#111" >100</text>
<text x="5.2" y="366.35" font-size="5.9" font-family='"Liberation Sans", sans-serif' font-weight="bold" text-anchor="middle" fill="#111" textLength="46" lengthAdjust="spacingAndGlyphs" transform="rotate(-90 5.2 366.35)" >Cytotoxicity (%)</text>
<rect x="63.90" y="328.50" width="11.80" height="4.60" fill="#000" stroke="#000" stroke-width="0.6" />
<rect x="63.90" y="337.40" width="11.80" height="4.20" fill="#a8a8a8" stroke="#000" stroke-width="0.7" />
<text x="76.5" y="332.90000000000003" font-size="6.0" font-family='"Liberation Sans", sans-serif' font-weight="normal" text-anchor="start" fill="#000" textLength="17.7" lengthAdjust="spacingAndGlyphs" >PBMC</text>
<text x="76.5" y="341.6" font-size="6.0" font-family='"Liberation Sans", sans-serif' font-weight="normal" text-anchor="start" fill="#000" textLength="12.3" lengthAdjust="spacingAndGlyphs" >PMN</text>
<line x1="33.45" y1="337.4" x2="33.45" y2="344.6" stroke="#000" stroke-width="0.8" />
<line x1="30.650000000000002" y1="337.4" x2="36.25" y2="337.4" stroke="#000" stroke-width="0.8" />
<rect x="27.30" y="344.60" width="12.30" height="57.90" fill="#000" stroke="#000" stroke-width="0.8" />
<line x1="45.6" y1="347.2" x2="45.6" y2="354.2" stroke="#000" stroke-width="0.8" />
<line x1="42.800000000000004" y1="347.2" x2="48.4" y2="347.2" stroke="#000" stroke-width="0.8" />
<rect x="39.60" y="354.20" width="12.00" height="48.30" fill="#a8a8a8" stroke="#000" stroke-width="0.8" />
<line x1="82.0" y1="395.5" x2="82.0" y2="398.2" stroke="#000" stroke-width="0.8" />
<line x1="79.2" y1="395.5" x2="84.8" y2="395.5" stroke="#000" stroke-width="0.8" />
<rect x="75.80" y="398.20" width="12.40" height="4.30" fill="#a8a8a8" stroke="#000" stroke-width="0.8" />
<line x1="106.30000000000001" y1="357" x2="106.30000000000001" y2="361.3" stroke="#000" stroke-width="0.8" />
<line x1="103.50000000000001" y1="357" x2="109.10000000000001" y2="357" stroke="#000" stroke-width="0.8" />
<rect x="100.20" y="361.30" width="12.20" height="41.20" fill="#000" stroke="#000" stroke-width="0.8" />
<line x1="118.45" y1="365.5" x2="118.45" y2="374.5" stroke="#000" stroke-width="0.8" />
<line x1="115.65" y1="365.5" x2="121.25" y2="365.5" stroke="#000" stroke-width="0.8" />
<rect x="112.40" y="374.50" width="12.10" height="28.00" fill="#a8a8a8" stroke="#000" stroke-width="0.8" />
<line x1="142.55" y1="335.8" x2="142.55" y2="342.3" stroke="#000" stroke-width="0.8" />
<line x1="139.75" y1="335.8" x2="145.35000000000002" y2="335.8" stroke="#000" stroke-width="0.8" />
<rect x="136.30" y="342.30" width="12.50" height="60.20" fill="#000" stroke="#000" stroke-width="0.8" />
<line x1="155.0" y1="346.5" x2="155.0" y2="353.9" stroke="#000" stroke-width="0.8" />
<line x1="152.2" y1="346.5" x2="157.8" y2="346.5" stroke="#000" stroke-width="0.8" />
<rect x="148.80" y="353.90" width="12.40" height="48.60" fill="#a8a8a8" stroke="#000" stroke-width="0.8" />
<line x1="179.0" y1="329.4" x2="179.0" y2="332" stroke="#000" stroke-width="0.8" />
<line x1="176.2" y1="329.4" x2="181.8" y2="329.4" stroke="#000" stroke-width="0.8" />
<rect x="172.60" y="332.00" width="12.80" height="70.50" fill="#000" stroke="#000" stroke-width="0.8" />
<line x1="191.60000000000002" y1="329.4" x2="191.60000000000002" y2="336.5" stroke="#000" stroke-width="0.8" />
<line x1="188.8" y1="329.4" x2="194.40000000000003" y2="329.4" stroke="#000" stroke-width="0.8" />
<rect x="185.40" y="336.50" width="12.40" height="66.00" fill="#a8a8a8" stroke="#000" stroke-width="0.8" />
<line x1="215.65" y1="332.3" x2="215.65" y2="335.2" stroke="#000" stroke-width="0.8" />
<line x1="212.85" y1="332.3" x2="218.45000000000002" y2="332.3" stroke="#000" stroke-width="0.8" />
<rect x="209.40" y="335.20" width="12.50" height="67.30" fill="#000" stroke="#000" stroke-width="0.8" />
<line x1="228.15" y1="329.4" x2="228.15" y2="331.3" stroke="#000" stroke-width="0.8" />
<line x1="225.35" y1="329.4" x2="230.95000000000002" y2="329.4" stroke="#000" stroke-width="0.8" />
<rect x="221.90" y="331.30" width="12.50" height="71.20" fill="#a8a8a8" stroke="#000" stroke-width="0.8" />
<line x1="39.5" y1="402.5" x2="39.5" y2="404.7" stroke="#000" stroke-width="0.7" />
<text x="39.5" y="410.0" font-size="5.3" font-family='"Liberation Sans", sans-serif' font-weight="bold" text-anchor="middle" fill="#111" textLength="15.9" lengthAdjust="spacingAndGlyphs" >W6/32</text>
<line x1="75.8" y1="402.5" x2="75.8" y2="404.7" stroke="#000" stroke-width="0.7" />
<text x="75.8" y="410.0" font-size="5.3" font-family='"Liberation Sans", sans-serif' font-weight="bold" text-anchor="middle" fill="#111" textLength="24.2" lengthAdjust="spacingAndGlyphs" >AB serum</text>
<line x1="112.4" y1="402.5" x2="112.4" y2="404.7" stroke="#000" stroke-width="0.7" />
<text x="112.4" y="410.0" font-size="5.3" font-family='"Liberation Sans", sans-serif' font-weight="bold" text-anchor="middle" fill="#111" >1</text>
<line x1="148.8" y1="402.5" x2="148.8" y2="404.7" stroke="#000" stroke-width="0.7" />
<text x="148.8" y="410.0" font-size="5.3" font-family='"Liberation Sans", sans-serif' font-weight="bold" text-anchor="middle" fill="#111" >10</text>
<line x1="185.4" y1="402.5" x2="185.4" y2="404.7" stroke="#000" stroke-width="0.7" />
<text x="185.4" y="410.0" font-size="5.3" font-family='"Liberation Sans", sans-serif' font-weight="bold" text-anchor="middle" fill="#111" >100</text>
<line x1="221.9" y1="402.5" x2="221.9" y2="404.7" stroke="#000" stroke-width="0.7" />
<text x="221.9" y="410.0" font-size="5.3" font-family='"Liberation Sans", sans-serif' font-weight="bold" text-anchor="middle" fill="#111" >300</text>
<line x1="25.8" y1="416.8" x2="88.5" y2="416.8" stroke="#000" stroke-width="1.1" />
<line x1="100" y1="416.8" x2="236.8" y2="416.8" stroke="#000" stroke-width="1.1" />
<text x="57.6" y="425.6" font-size="6.6" font-family='"Liberation Sans", sans-serif' font-weight="normal" text-anchor="middle" fill="#000" textLength="24.6" lengthAdjust="spacingAndGlyphs" >Controls</text>
<text x="179.7" y="425.6" font-size="6.6" font-family='"Liberation Sans", sans-serif' font-weight="normal" text-anchor="middle" fill="#000" textLength="67.6" lengthAdjust="spacingAndGlyphs" >Alemtuzumab (μg/mL)</text>
<text x="286.0" y="317.6" font-size="11.2" font-family='"Liberation Serif", serif' font-weight="bold" text-anchor="start" fill="#000" >ii</text>
<text x="318" y="317.6" font-size="11.6" font-family='"Liberation Serif", serif' font-weight="bold" text-anchor="start" fill="#000" textLength="122.4" lengthAdjust="spacingAndGlyphs" >Autologous Complement</text>
<line x1="284.3" y1="330.5" x2="284.3" y2="404.0" stroke="#000" stroke-width="1.0" />
<line x1="284.3" y1="403.5" x2="512.3" y2="403.5" stroke="#000" stroke-width="1.0" />
<line x1="282.3" y1="403.5" x2="284.3" y2="403.5" stroke="#000" stroke-width="0.8" />
<text x="282.1" y="405.2" font-size="4.8" font-family='"Liberation Sans", sans-serif' font-weight="bold" text-anchor="end" fill="#111" >0</text>
<line x1="282.3" y1="385.375" x2="284.3" y2="385.375" stroke="#000" stroke-width="0.8" />
<text x="282.1" y="387.075" font-size="4.8" font-family='"Liberation Sans", sans-serif' font-weight="bold" text-anchor="end" fill="#111" >25</text>
<line x1="282.3" y1="367.25" x2="284.3" y2="367.25" stroke="#000" stroke-width="0.8" />
<text x="282.1" y="368.95" font-size="4.8" font-family='"Liberation Sans", sans-serif' font-weight="bold" text-anchor="end" fill="#111" >50</text>
<line x1="282.3" y1="349.125" x2="284.3" y2="349.125" stroke="#000" stroke-width="0.8" />
<text x="282.1" y="350.825" font-size="4.8" font-family='"Liberation Sans", sans-serif' font-weight="bold" text-anchor="end" fill="#111" >75</text>
<line x1="282.3" y1="331.0" x2="284.3" y2="331.0" stroke="#000" stroke-width="0.8" />
<text x="282.1" y="332.7" font-size="4.8" font-family='"Liberation Sans", sans-serif' font-weight="bold" text-anchor="end" fill="#111" >100</text>
<text x="268.9" y="367.75" font-size="5.9" font-family='"Liberation Sans", sans-serif' font-weight="bold" text-anchor="middle" fill="#111" textLength="46" lengthAdjust="spacingAndGlyphs" transform="rotate(-90 268.9 367.75)" >Cytotoxicity (%)</text>
<rect x="329.40" y="329.70" width="11.80" height="4.60" fill="#000" stroke="#000" stroke-width="0.6" />
<rect x="329.40" y="338.50" width="11.80" height="4.20" fill="#a8a8a8" stroke="#000" stroke-width="0.7" />
<text x="342.0" y="334.1" font-size="6.0" font-family='"Liberation Sans", sans-serif' font-weight="normal" text-anchor="start" fill="#000" textLength="17.7" lengthAdjust="spacingAndGlyphs" >PBMC</text>
<text x="342.0" y="342.70000000000005" font-size="6.0" font-family='"Liberation Sans", sans-serif' font-weight="normal" text-anchor="start" fill="#000" textLength="12.3" lengthAdjust="spacingAndGlyphs" >PMN</text>
<line x1="297.05" y1="389.4" x2="297.05" y2="393.9" stroke="#000" stroke-width="0.8" />
<line x1="294.25" y1="389.4" x2="299.85" y2="389.4" stroke="#000" stroke-width="0.8" />
<rect x="290.60" y="393.90" width="12.90" height="9.60" fill="#000" stroke="#000" stroke-width="0.8" />
<line x1="309.95" y1="379.4" x2="309.95" y2="392" stroke="#000" stroke-width="0.8" />
<line x1="307.15" y1="379.4" x2="312.75" y2="379.4" stroke="#000" stroke-width="0.8" />
<rect x="303.50" y="392.00" width="12.90" height="11.50" fill="#a8a8a8" stroke="#000" stroke-width="0.8" />
<line x1="347.75" y1="379.4" x2="347.75" y2="392" stroke="#000" stroke-width="0.8" />
<line x1="344.95" y1="379.4" x2="350.55" y2="379.4" stroke="#000" stroke-width="0.8" />
<rect x="341.30" y="392.00" width="12.90" height="11.50" fill="#a8a8a8" stroke="#000" stroke-width="0.8" />
<line x1="373.5" y1="355.5" x2="373.5" y2="372" stroke="#000" stroke-width="0.8" />
<line x1="370.7" y1="355.5" x2="376.3" y2="355.5" stroke="#000" stroke-width="0.8" />
<rect x="367.00" y="372.00" width="13.00" height="31.50" fill="#000" stroke="#000" stroke-width="0.8" />
<line x1="386.4" y1="364.5" x2="386.4" y2="384.2" stroke="#000" stroke-width="0.8" />
<line x1="383.59999999999997" y1="364.5" x2="389.2" y2="364.5" stroke="#000" stroke-width="0.8" />
<rect x="380.00" y="384.20" width="12.80" height="19.30" fill="#a8a8a8" stroke="#000" stroke-width="0.8" />
<line x1="411.45" y1="335.1" x2="411.45" y2="340" stroke="#000" stroke-width="0.8" />
<line x1="408.65" y1="335.1" x2="414.25" y2="335.1" stroke="#000" stroke-width="0.8" />
<rect x="405.00" y="340.00" width="12.90" height="63.50" fill="#000" stroke="#000" stroke-width="0.8" />
<line x1="424.0" y1="330.3" x2="424.0" y2="350" stroke="#000" stroke-width="0.8" />
<line x1="421.2" y1="330.3" x2="426.8" y2="330.3" stroke="#000" stroke-width="0.8" />
<rect x="417.90" y="350.00" width="12.20" height="53.50" fill="#a8a8a8" stroke="#000" stroke-width="0.8" />
<line x1="449.45" y1="335.1" x2="449.45" y2="340" stroke="#000" stroke-width="0.8" />
<line x1="446.65" y1="335.1" x2="452.25" y2="335.1" stroke="#000" stroke-width="0.8" />
<rect x="443.00" y="340.00" width="12.90" height="63.50" fill="#000" stroke="#000" stroke-width="0.8" />
<line x1="462.0" y1="330.3" x2="462.0" y2="342.2" stroke="#000" stroke-width="0.8" />
<line x1="459.2" y1="330.3" x2="464.8" y2="330.3" stroke="#000" stroke-width="0.8" />
<rect x="455.90" y="342.20" width="12.20" height="61.30" fill="#a8a8a8" stroke="#000" stroke-width="0.8" />
<line x1="487.45" y1="330.3" x2="487.45" y2="335.1" stroke="#000" stroke-width="0.8" />
<line x1="484.65" y1="330.3" x2="490.25" y2="330.3" stroke="#000" stroke-width="0.8" />
<rect x="481.00" y="335.10" width="12.90" height="68.40" fill="#000" stroke="#000" stroke-width="0.8" />
<line x1="500.2" y1="330.3" x2="500.2" y2="342.2" stroke="#000" stroke-width="0.8" />
<line x1="497.4" y1="330.3" x2="503.0" y2="330.3" stroke="#000" stroke-width="0.8" />
<rect x="493.90" y="342.20" width="12.60" height="61.30" fill="#a8a8a8" stroke="#000" stroke-width="0.8" />
<line x1="303.5" y1="403.5" x2="303.5" y2="405.7" stroke="#000" stroke-width="0.7" />
<text x="303.5" y="411.8" font-size="5.3" font-family='"Liberation Sans", sans-serif' font-weight="bold" text-anchor="middle" fill="#111" textLength="15.9" lengthAdjust="spacingAndGlyphs" >W6/32</text>
<line x1="341.3" y1="403.5" x2="341.3" y2="405.7" stroke="#000" stroke-width="0.7" />
<text x="341.3" y="411.8" font-size="5.3" font-family='"Liberation Sans", sans-serif' font-weight="bold" text-anchor="middle" fill="#111" textLength="24.2" lengthAdjust="spacingAndGlyphs" >AB serum</text>
<line x1="380" y1="403.5" x2="380" y2="405.7" stroke="#000" stroke-width="0.7" />
<text x="380" y="411.8" font-size="5.3" font-family='"Liberation Sans", sans-serif' font-weight="bold" text-anchor="middle" fill="#111" >1</text>
<line x1="417.9" y1="403.5" x2="417.9" y2="405.7" stroke="#000" stroke-width="0.7" />
<text x="417.9" y="411.8" font-size="5.3" font-family='"Liberation Sans", sans-serif' font-weight="bold" text-anchor="middle" fill="#111" >10</text>
<line x1="455.9" y1="403.5" x2="455.9" y2="405.7" stroke="#000" stroke-width="0.7" />
<text x="455.9" y="411.8" font-size="5.3" font-family='"Liberation Sans", sans-serif' font-weight="bold" text-anchor="middle" fill="#111" >100</text>
<line x1="493.9" y1="403.5" x2="493.9" y2="405.7" stroke="#000" stroke-width="0.7" />
<text x="493.9" y="411.8" font-size="5.3" font-family='"Liberation Sans", sans-serif' font-weight="bold" text-anchor="middle" fill="#111" >300</text>
<line x1="287.4" y1="418.8" x2="354.2" y2="418.8" stroke="#000" stroke-width="1.1" />
<line x1="367" y1="418.8" x2="507.4" y2="418.8" stroke="#000" stroke-width="1.1" />
<text x="321.3" y="426.0" font-size="6.6" font-family='"Liberation Sans", sans-serif' font-weight="normal" text-anchor="middle" fill="#000" textLength="24.6" lengthAdjust="spacingAndGlyphs" >Controls</text>
<text x="449.4" y="426.0" font-size="6.6" font-family='"Liberation Sans", sans-serif' font-weight="normal" text-anchor="middle" fill="#000" textLength="67.6" lengthAdjust="spacingAndGlyphs" >Alemtuzumab (μg/mL)</text>
</svg>
</body></html>
